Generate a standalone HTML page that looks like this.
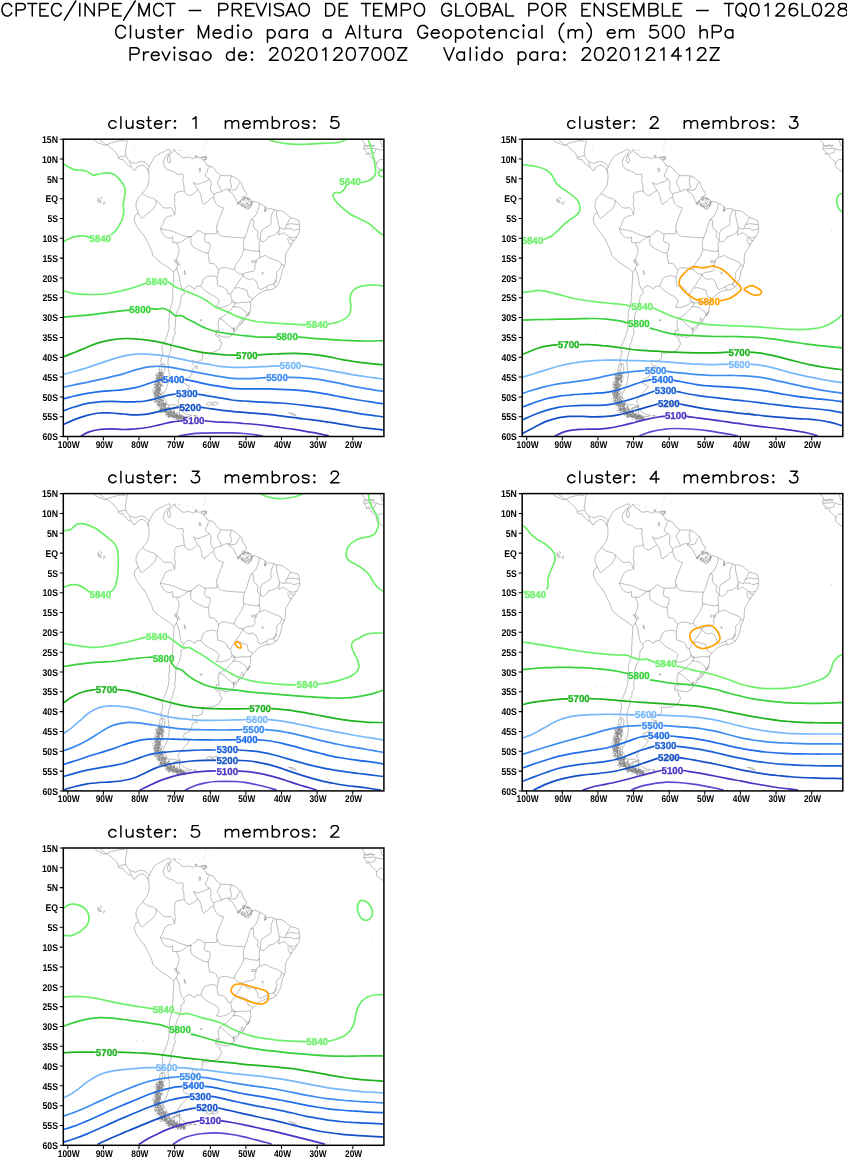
<!DOCTYPE html>
<html><head><meta charset="utf-8"><title>Cluster Medio</title>
<style>html,body{margin:0;padding:0;background:#fff}svg{display:block;will-change:transform}text{font-family:"Liberation Sans",sans-serif}.t{filter:opacity(1)}</style></head>
<body>
<svg width="847" height="1157" viewBox="0 0 847 1157" role="img">
<rect width="847" height="1157" fill="#fff"/>
<g aria-label="CPTEC/INPE/MCT - PREVISAO DE TEMPO GLOBAL POR ENSEMBLE - TQ0126L028 | Cluster Medio para a Altura Geopotencial (m) em 500 hPa | Previsao de: 2020120700Z   Valido para: 2020121412Z"><desc>CPTEC/INPE/MCT - PREVISAO DE TEMPO GLOBAL POR ENSEMBLE - TQ0126L028 / Cluster Medio para a Altura Geopotencial (m) em 500 hPa / Previsao de: 2020120700Z   Valido para: 2020121412Z</desc><path d="M11.7 6.4L11 5.2L9.7 4L8.5 3.4L5.9 3.4L4.6 4L3.3 5.2L2.7 6.4L2 8.2L2 11.1L2.7 12.9L3.3 14.1L4.6 15.3L5.9 15.9L8.5 15.9L9.7 15.3L11 14.1L11.7 12.9M16.2 3.4L16.2 15.9M16.2 3.4L22 3.4L23.9 4L24.5 4.6L25.2 5.8L25.2 7.6L24.5 8.8L23.9 9.4L22 10L16.2 10M32.3 3.4L32.3 15.9M27.8 3.4L36.8 3.4M40 3.4L40 15.9M40 3.4L48.3 3.4M40 9.4L45.1 9.4M40 15.9L48.3 15.9M61.2 6.4L60.6 5.2L59.3 4L58 3.4L55.4 3.4L54.1 4L52.9 5.2L52.2 6.4L51.6 8.2L51.6 11.1L52.2 12.9L52.9 14.1L54.1 15.3L55.4 15.9L58 15.9L59.3 15.3L60.6 14.1L61.2 12.9M75.8 1L64.3 20.1M79.8 3.4L79.8 15.9M85.1 3.4L85.1 15.9M85.1 3.4L94.2 15.9M94.2 3.4L94.2 15.9M99.3 3.4L99.3 15.9M99.3 3.4L105.1 3.4L107 4L107.7 4.6L108.3 5.8L108.3 7.6L107.7 8.8L107 9.4L105.1 10L99.3 10M112.8 3.4L112.8 15.9M112.8 3.4L121.2 3.4M112.8 9.4L118 9.4M112.8 15.9L121.2 15.9M135.2 1L123.6 20.1M138.9 3.4L138.9 15.9M138.9 3.4L144 15.9M149.2 3.4L144 15.9M149.2 3.4L149.2 15.9M163.3 6.4L162.7 5.2L161.4 4L160.1 3.4L157.5 3.4L156.2 4L154.9 5.2L154.3 6.4L153.7 8.2L153.7 11.1L154.3 12.9L154.9 14.1L156.2 15.3L157.5 15.9L160.1 15.9L161.4 15.3L162.7 14.1L163.3 12.9M170.4 3.4L170.4 15.9M165.9 3.4L174.9 3.4M189.2 10.5L200.7 10.5M218.8 3.4L218.8 15.9M218.8 3.4L224.5 3.4L226.5 4L227.1 4.6L227.8 5.8L227.8 7.6L227.1 8.8L226.5 9.4L224.5 10L218.8 10M232.3 3.4L232.3 15.9M232.3 3.4L238.1 3.4L240 4L240.6 4.6L241.3 5.8L241.3 7L240.6 8.2L240 8.8L238.1 9.4L232.3 9.4M236.8 9.4L241.3 15.9M245.8 3.4L245.8 15.9M245.8 3.4L254.1 3.4M245.8 9.4L250.9 9.4M245.8 15.9L254.1 15.9M256.1 3.4L261.2 15.9M266.4 3.4L261.2 15.9M269.8 3.4L269.8 15.9M283.5 5.2L282.3 4L280.3 3.4L277.7 3.4L275.8 4L274.5 5.2L274.5 6.4L275.2 7.6L275.8 8.2L277.1 8.8L281 10L282.3 10.5L282.9 11.1L283.5 12.3L283.5 14.1L282.3 15.3L280.3 15.9L277.7 15.9L275.8 15.3L274.5 14.1M291.3 3.4L286.1 15.9M291.3 3.4L296.4 15.9M288 11.7L294.5 11.7M302.8 3.4L301.6 4L300.3 5.2L299.6 6.4L299 8.2L299 11.1L299.6 12.9L300.3 14.1L301.6 15.3L302.8 15.9L305.4 15.9L306.7 15.3L308 14.1L308.6 12.9L309.3 11.1L309.3 8.2L308.6 6.4L308 5.2L306.7 4L305.4 3.4L302.8 3.4M325.7 3.4L325.7 15.9M325.7 3.4L330.2 3.4L332.2 4L333.5 5.2L334.1 6.4L334.7 8.2L334.7 11.1L334.1 12.9L333.5 14.1L332.2 15.3L330.2 15.9L325.7 15.9M339.2 3.4L339.2 15.9M339.2 3.4L347.6 3.4M339.2 9.4L344.4 9.4M339.2 15.9L347.6 15.9M366 3.4L366 15.9M361.5 3.4L370.5 3.4M373.7 3.4L373.7 15.9M373.7 3.4L382.1 3.4M373.7 9.4L378.9 9.4M373.7 15.9L382.1 15.9M386 3.4L386 15.9M386 3.4L391.1 15.9M396.2 3.4L391.1 15.9M396.2 3.4L396.2 15.9M401.4 3.4L401.4 15.9M401.4 3.4L407.2 3.4L409.1 4L409.8 4.6L410.4 5.8L410.4 7.6L409.8 8.8L409.1 9.4L407.2 10L401.4 10M418.1 3.4L416.8 4L415.5 5.2L414.9 6.4L414.3 8.2L414.3 11.1L414.9 12.9L415.5 14.1L416.8 15.3L418.1 15.9L420.7 15.9L422 15.3L423.3 14.1L423.9 12.9L424.5 11.1L424.5 8.2L423.9 6.4L423.3 5.2L422 4L420.7 3.4L418.1 3.4M451.3 6.4L450.7 5.2L449.4 4L448.1 3.4L445.5 3.4L444.2 4L442.9 5.2L442.3 6.4L441.7 8.2L441.7 11.1L442.3 12.9L442.9 14.1L444.2 15.3L445.5 15.9L448.1 15.9L449.4 15.3L450.7 14.1L451.3 12.9L451.3 11.1M448.1 11.1L451.3 11.1M455.8 3.4L455.8 15.9M455.8 15.9L463.5 15.9M470 3.4L468.7 4L467.4 5.2L466.7 6.4L466.1 8.2L466.1 11.1L466.7 12.9L467.4 14.1L468.7 15.3L470 15.9L472.5 15.9L473.8 15.3L475.1 14.1L475.8 12.9L476.4 11.1L476.4 8.2L475.8 6.4L475.1 5.2L473.8 4L472.5 3.4L470 3.4M480.9 3.4L480.9 15.9M480.9 3.4L486.7 3.4L488.6 4L489.3 4.6L489.9 5.8L489.9 7L489.3 8.2L488.6 8.8L486.7 9.4M480.9 9.4L486.7 9.4L488.6 10L489.3 10.5L489.9 11.7L489.9 13.5L489.3 14.7L488.6 15.3L486.7 15.9L480.9 15.9M497.6 3.4L492.5 15.9M497.6 3.4L502.8 15.9M494.4 11.7L500.8 11.7M506 3.4L506 15.9M506 15.9L513.7 15.9M528.9 3.4L528.9 15.9M528.9 3.4L534.7 3.4L536.6 4L537.3 4.6L537.9 5.8L537.9 7.6L537.3 8.8L536.6 9.4L534.7 10L528.9 10M545.6 3.4L544.3 4L543 5.2L542.4 6.4L541.8 8.2L541.8 11.1L542.4 12.9L543 14.1L544.3 15.3L545.6 15.9L548.2 15.9L549.5 15.3L550.8 14.1L551.4 12.9L552.1 11.1L552.1 8.2L551.4 6.4L550.8 5.2L549.5 4L548.2 3.4L545.6 3.4M556.6 3.4L556.6 15.9M556.6 3.4L562.3 3.4L564.3 4L564.9 4.6L565.6 5.8L565.6 7L564.9 8.2L564.3 8.8L562.3 9.4L556.6 9.4M561.1 9.4L565.6 15.9M582 3.4L582 15.9M582 3.4L590.4 3.4M582 9.4L587.2 9.4M582 15.9L590.4 15.9M594.3 3.4L594.3 15.9M594.3 3.4L603.3 15.9M603.3 3.4L603.3 15.9M616.8 5.2L615.5 4L613.6 3.4L611 3.4L609 4L607.8 5.2L607.8 6.4L608.4 7.6L609 8.2L610.3 8.8L614.2 10L615.5 10.5L616.1 11.1L616.8 12.3L616.8 14.1L615.5 15.3L613.6 15.9L611 15.9L609 15.3L607.8 14.1M621.3 3.4L621.3 15.9M621.3 3.4L629.6 3.4M621.3 9.4L626.4 9.4M621.3 15.9L629.6 15.9M633.5 3.4L633.5 15.9M633.5 3.4L638.6 15.9M643.8 3.4L638.6 15.9M643.8 3.4L643.8 15.9M648.9 3.4L648.9 15.9M648.9 3.4L654.7 3.4L656.7 4L657.3 4.6L657.9 5.8L657.9 7L657.3 8.2L656.7 8.8L654.7 9.4M648.9 9.4L654.7 9.4L656.7 10L657.3 10.5L657.9 11.7L657.9 13.5L657.3 14.7L656.7 15.3L654.7 15.9L648.9 15.9M662.4 3.4L662.4 15.9M662.4 15.9L670.2 15.9M673.4 3.4L673.4 15.9M673.4 3.4L681.7 3.4M673.4 9.4L678.5 9.4M673.4 15.9L681.7 15.9M696.7 10.5L708.2 10.5M728.8 3.4L728.8 15.9M724.3 3.4L733.3 3.4M739.8 3.4L738.5 4L737.2 5.2L736.5 6.4L735.9 8.2L735.9 11.1L736.5 12.9L737.2 14.1L738.5 15.3L739.8 15.9L742.3 15.9L743.6 15.3L744.9 14.1L745.6 12.9L746.2 11.1L746.2 8.2L745.6 6.4L744.9 5.2L743.6 4L742.3 3.4L739.8 3.4M741.7 13.5L745.6 17.1M753.9 3.4L752 4L750.7 5.8L750.1 8.8L750.1 10.5L750.7 13.5L752 15.3L753.9 15.9L755.2 15.9L757.1 15.3L758.4 13.5L759.1 10.5L759.1 8.8L758.4 5.8L757.1 4L755.2 3.4L753.9 3.4M764.9 5.8L766.1 5.2L768.1 3.4L768.1 15.9M776.4 6.4L776.4 5.8L777.1 4.6L777.7 4L779 3.4L781.6 3.4L782.9 4L783.5 4.6L784.2 5.8L784.2 7L783.5 8.2L782.2 10L775.8 15.9L784.8 15.9M797 5.2L796.4 4L794.4 3.4L793.2 3.4L791.2 4L789.9 5.8L789.3 8.8L789.3 11.7L789.9 14.1L791.2 15.3L793.2 15.9L793.8 15.9L795.7 15.3L797 14.1L797.7 12.3L797.7 11.7L797 10L795.7 8.8L793.8 8.2L793.2 8.2L791.2 8.8L789.9 10L789.3 11.7M802.2 3.4L802.2 15.9M802.2 15.9L809.9 15.9M816.3 3.4L814.4 4L813.1 5.8L812.5 8.8L812.5 10.5L813.1 13.5L814.4 15.3L816.3 15.9L817.6 15.9L819.5 15.3L820.8 13.5L821.5 10.5L821.5 8.8L820.8 5.8L819.5 4L817.6 3.4L816.3 3.4M826 6.4L826 5.8L826.6 4.6L827.3 4L828.5 3.4L831.1 3.4L832.4 4L833 4.6L833.7 5.8L833.7 7L833 8.2L831.8 10L825.3 15.9L834.3 15.9M841.4 3.4L839.5 4L838.8 5.2L838.8 6.4L839.5 7.6L840.8 8.2L843.3 8.8L845.3 9.4L846.6 10.5L847.2 11.7L847.2 13.5L846.6 14.7L845.9 15.3L844 15.9L841.4 15.9L839.5 15.3L838.8 14.7L838.2 13.5L838.2 11.7L838.8 10.5L840.1 9.4L842.1 8.8L844.6 8.2L845.9 7.6L846.6 6.4L846.6 5.2L845.9 4L844 3.4L841.4 3.4M125.4 28.5L124.8 27.3L123.5 26.1L122.2 25.5L119.6 25.5L118.4 26.1L117.1 27.3L116.4 28.5L115.8 30.3L115.8 33.2L116.4 35L117.1 36.2L118.4 37.4L119.6 38L122.2 38L123.5 37.4L124.8 36.2L125.4 35M130.5 25.5L130.5 38M136.3 29.7L136.3 35.6L136.9 37.4L138.2 38L140.1 38L141.4 37.4L143.3 35.6M143.3 29.7L143.3 38M154.8 31.5L154.2 30.3L152.3 29.7L150.4 29.7L148.4 30.3L147.8 31.5L148.4 32.6L149.7 33.2L152.9 33.8L154.2 34.4L154.8 35.6L154.8 36.2L154.2 37.4L152.3 38L150.4 38L148.4 37.4L147.8 36.2M160 25.5L160 35.6L160.6 37.4L161.9 38L163.2 38M158 29.7L162.5 29.7M166.4 33.2L174 33.2L174 32L173.4 30.9L172.8 30.3L171.5 29.7L169.6 29.7L168.3 30.3L167 31.5L166.4 33.2L166.4 34.4L167 36.2L168.3 37.4L169.6 38L171.5 38L172.8 37.4L174 36.2M178.5 29.7L178.5 38M178.5 33.2L179.2 31.5L180.4 30.3L181.7 29.7L183.6 29.7M198.4 25.5L198.4 38M198.4 25.5L203.5 38M208.6 25.5L203.5 38M208.6 25.5L208.6 38M213.1 33.2L220.8 33.2L220.8 32L220.1 30.9L219.5 30.3L218.2 29.7L216.3 29.7L215 30.3L213.7 31.5L213.1 33.2L213.1 34.4L213.7 36.2L215 37.4L216.3 38L218.2 38L219.5 37.4L220.8 36.2M232.3 25.5L232.3 38M232.3 31.5L231 30.3L229.7 29.7L227.8 29.7L226.5 30.3L225.2 31.5L224.6 33.2L224.6 34.4L225.2 36.2L226.5 37.4L227.8 38L229.7 38L231 37.4L232.3 36.2M237.4 25.5L238 26.1L238.7 25.5L238 24.9L237.4 25.5M238 29.7L238 38M246.4 29.7L245.1 30.3L243.8 31.5L243.2 33.2L243.2 34.4L243.8 36.2L245.1 37.4L246.4 38L248.3 38L249.6 37.4L250.8 36.2L251.5 34.4L251.5 33.2L250.8 31.5L249.6 30.3L248.3 29.7L246.4 29.7M267.5 29.7L267.5 42.2M267.5 31.5L268.8 30.3L270 29.7L272 29.7L273.2 30.3L274.5 31.5L275.2 33.2L275.2 34.4L274.5 36.2L273.2 37.4L272 38L270 38L268.8 37.4L267.5 36.2M286.7 29.7L286.7 38M286.7 31.5L285.4 30.3L284.1 29.7L282.2 29.7L280.9 30.3L279.6 31.5L279 33.2L279 34.4L279.6 36.2L280.9 37.4L282.2 38L284.1 38L285.4 37.4L286.7 36.2M291.8 29.7L291.8 38M291.8 33.2L292.4 31.5L293.7 30.3L295 29.7L296.9 29.7M307.2 29.7L307.2 38M307.2 31.5L305.9 30.3L304.6 29.7L302.7 29.7L301.4 30.3L300.1 31.5L299.5 33.2L299.5 34.4L300.1 36.2L301.4 37.4L302.7 38L304.6 38L305.9 37.4L307.2 36.2M330.8 29.7L330.8 38M330.8 31.5L329.6 30.3L328.3 29.7L326.4 29.7L325.1 30.3L323.8 31.5L323.2 33.2L323.2 34.4L323.8 36.2L325.1 37.4L326.4 38L328.3 38L329.6 37.4L330.8 36.2M350.7 25.5L345.6 38M350.7 25.5L355.8 38M347.5 33.8L353.9 33.8M359.6 25.5L359.6 38M366 25.5L366 35.6L366.7 37.4L368 38L369.2 38M364.1 29.7L368.6 29.7M373.1 29.7L373.1 35.6L373.7 37.4L375 38L376.9 38L378.2 37.4L380.1 35.6M380.1 29.7L380.1 38M385.2 29.7L385.2 38M385.2 33.2L385.9 31.5L387.2 30.3L388.4 29.7L390.4 29.7M400.6 29.7L400.6 38M400.6 31.5L399.3 30.3L398 29.7L396.1 29.7L394.8 30.3L393.6 31.5L392.9 33.2L392.9 34.4L393.6 36.2L394.8 37.4L396.1 38L398 38L399.3 37.4L400.6 36.2M427.5 28.5L426.8 27.3L425.6 26.1L424.3 25.5L421.7 25.5L420.4 26.1L419.2 27.3L418.5 28.5L417.9 30.3L417.9 33.2L418.5 35L419.2 36.2L420.4 37.4L421.7 38L424.3 38L425.6 37.4L426.8 36.2L427.5 35L427.5 33.2M424.3 33.2L427.5 33.2M431.3 33.2L439 33.2L439 32L438.4 30.9L437.7 30.3L436.4 29.7L434.5 29.7L433.2 30.3L432 31.5L431.3 33.2L431.3 34.4L432 36.2L433.2 37.4L434.5 38L436.4 38L437.7 37.4L439 36.2M446 29.7L444.8 30.3L443.5 31.5L442.8 33.2L442.8 34.4L443.5 36.2L444.8 37.4L446 38L448 38L449.2 37.4L450.5 36.2L451.2 34.4L451.2 33.2L450.5 31.5L449.2 30.3L448 29.7L446 29.7M455.6 29.7L455.6 42.2M455.6 31.5L456.9 30.3L458.2 29.7L460.1 29.7L461.4 30.3L462.7 31.5L463.3 33.2L463.3 34.4L462.7 36.2L461.4 37.4L460.1 38L458.2 38L456.9 37.4L455.6 36.2M470.4 29.7L469.1 30.3L467.8 31.5L467.2 33.2L467.2 34.4L467.8 36.2L469.1 37.4L470.4 38L472.3 38L473.6 37.4L474.8 36.2L475.5 34.4L475.5 33.2L474.8 31.5L473.6 30.3L472.3 29.7L470.4 29.7M480.6 25.5L480.6 35.6L481.2 37.4L482.5 38L483.8 38M478.7 29.7L483.2 29.7M487 33.2L494.7 33.2L494.7 32L494 30.9L493.4 30.3L492.1 29.7L490.2 29.7L488.9 30.3L487.6 31.5L487 33.2L487 34.4L487.6 36.2L488.9 37.4L490.2 38L492.1 38L493.4 37.4L494.7 36.2M499.2 29.7L499.2 38M499.2 32L501.1 30.3L502.4 29.7L504.3 29.7L505.6 30.3L506.2 32L506.2 38M518.4 31.5L517.1 30.3L515.8 29.7L513.9 29.7L512.6 30.3L511.3 31.5L510.7 33.2L510.7 34.4L511.3 36.2L512.6 37.4L513.9 38L515.8 38L517.1 37.4L518.4 36.2M522.8 25.5L523.5 26.1L524.1 25.5L523.5 24.9L522.8 25.5M523.5 29.7L523.5 38M536.3 29.7L536.3 38M536.3 31.5L535 30.3L533.7 29.7L531.8 29.7L530.5 30.3L529.2 31.5L528.6 33.2L528.6 34.4L529.2 36.2L530.5 37.4L531.8 38L533.7 38L535 37.4L536.3 36.2M542 25.5L542 38M563.8 23.1L562.5 24.3L561.2 26.1L560 28.5L559.3 31.5L559.3 33.8L560 36.8L561.2 39.2L562.5 41L563.8 42.2M568.3 29.7L568.3 38M568.3 32L570.2 30.3L571.5 29.7L573.4 29.7L574.7 30.3L575.3 32L575.3 38M575.3 32L577.2 30.3L578.5 29.7L580.4 29.7L581.7 30.3L582.4 32L582.4 38M586.8 23.1L588.1 24.3L589.4 26.1L590.7 28.5L591.3 31.5L591.3 33.8L590.7 36.8L589.4 39.2L588.1 41L586.8 42.2M607.3 33.2L615 33.2L615 32L614.4 30.9L613.7 30.3L612.4 29.7L610.5 29.7L609.2 30.3L608 31.5L607.3 33.2L607.3 34.4L608 36.2L609.2 37.4L610.5 38L612.4 38L613.7 37.4L615 36.2M619.5 29.7L619.5 38M619.5 32L621.4 30.3L622.7 29.7L624.6 29.7L625.9 30.3L626.5 32L626.5 38M626.5 32L628.4 30.3L629.7 29.7L631.6 29.7L632.9 30.3L633.6 32L633.6 38M657.2 25.5L650.8 25.5L650.2 30.9L650.8 30.3L652.8 29.7L654.7 29.7L656.6 30.3L657.9 31.5L658.5 33.2L658.5 34.4L657.9 36.2L656.6 37.4L654.7 38L652.8 38L650.8 37.4L650.2 36.8L649.6 35.6M666.2 25.5L664.3 26.1L663 27.9L662.4 30.9L662.4 32.6L663 35.6L664.3 37.4L666.2 38L667.5 38L669.4 37.4L670.7 35.6L671.3 32.6L671.3 30.9L670.7 27.9L669.4 26.1L667.5 25.5L666.2 25.5M679 25.5L677.1 26.1L675.8 27.9L675.2 30.9L675.2 32.6L675.8 35.6L677.1 37.4L679 38L680.3 38L682.2 37.4L683.5 35.6L684.1 32.6L684.1 30.9L683.5 27.9L682.2 26.1L680.3 25.5L679 25.5M700.1 25.5L700.1 38M700.1 32L702 30.3L703.3 29.7L705.2 29.7L706.5 30.3L707.2 32L707.2 38M712.3 25.5L712.3 38M712.3 25.5L718 25.5L720 26.1L720.6 26.7L721.2 27.9L721.2 29.7L720.6 30.9L720 31.5L718 32L712.3 32M732.8 29.7L732.8 38M732.8 31.5L731.5 30.3L730.2 29.7L728.3 29.7L727 30.3L725.7 31.5L725.1 33.2L725.1 34.4L725.7 36.2L727 37.4L728.3 38L730.2 38L731.5 37.4L732.8 36.2M130.1 47.7L130.1 60.2M130.1 47.7L135.9 47.7L137.8 48.3L138.5 48.9L139.1 50.1L139.1 51.9L138.5 53.1L137.8 53.7L135.9 54.2L130.1 54.2M143.6 51.9L143.6 60.2M143.6 55.4L144.2 53.7L145.5 52.5L146.8 51.9L148.7 51.9M151.3 55.4L159 55.4L159 54.2L158.4 53.1L157.7 52.5L156.4 51.9L154.5 51.9L153.2 52.5L151.9 53.7L151.3 55.4L151.3 56.6L151.9 58.4L153.2 59.6L154.5 60.2L156.4 60.2L157.7 59.6L159 58.4M162.2 51.9L166.1 60.2M169.9 51.9L166.1 60.2M173.8 47.7L174.4 48.3L175 47.7L174.4 47.1L173.8 47.7M174.4 51.9L174.4 60.2M186.6 53.7L185.9 52.5L184 51.9L182.1 51.9L180.2 52.5L179.5 53.7L180.2 54.8L181.5 55.4L184.7 56L185.9 56.6L186.6 57.8L186.6 58.4L185.9 59.6L184 60.2L182.1 60.2L180.2 59.6L179.5 58.4M198.1 51.9L198.1 60.2M198.1 53.7L196.9 52.5L195.6 51.9L193.6 51.9L192.4 52.5L191.1 53.7L190.4 55.4L190.4 56.6L191.1 58.4L192.4 59.6L193.6 60.2L195.6 60.2L196.9 59.6L198.1 58.4M205.8 51.9L204.6 52.5L203.3 53.7L202.6 55.4L202.6 56.6L203.3 58.4L204.6 59.6L205.8 60.2L207.8 60.2L209 59.6L210.3 58.4L211 56.6L211 55.4L210.3 53.7L209 52.5L207.8 51.9L205.8 51.9M234.1 47.7L234.1 60.2M234.1 53.7L232.8 52.5L231.5 51.9L229.6 51.9L228.3 52.5L227 53.7L226.4 55.4L226.4 56.6L227 58.4L228.3 59.6L229.6 60.2L231.5 60.2L232.8 59.6L234.1 58.4M238.6 55.4L246.3 55.4L246.3 54.2L245.6 53.1L245 52.5L243.7 51.9L241.8 51.9L240.5 52.5L239.2 53.7L238.6 55.4L238.6 56.6L239.2 58.4L240.5 59.6L241.8 60.2L243.7 60.2L245 59.6L246.3 58.4M252 51.9L251.4 52.5L252 53.1L252.7 52.5L252 51.9M252 59L251.4 59.6L252 60.2L252.7 59.6L252 59M270 50.7L270 50.1L270.6 48.9L271.3 48.3L272.6 47.7L275.1 47.7L276.4 48.3L277.1 48.9L277.7 50.1L277.7 51.3L277.1 52.5L275.8 54.2L269.4 60.2L278.3 60.2M286 47.7L284.1 48.3L282.8 50.1L282.2 53.1L282.2 54.8L282.8 57.8L284.1 59.6L286 60.2L287.3 60.2L289.2 59.6L290.5 57.8L291.2 54.8L291.2 53.1L290.5 50.1L289.2 48.3L287.3 47.7L286 47.7M295.7 50.7L295.7 50.1L296.3 48.9L296.9 48.3L298.2 47.7L300.8 47.7L302.1 48.3L302.7 48.9L303.4 50.1L303.4 51.3L302.7 52.5L301.4 54.2L295 60.2L304 60.2M311.7 47.7L309.8 48.3L308.5 50.1L307.8 53.1L307.8 54.8L308.5 57.8L309.8 59.6L311.7 60.2L313 60.2L314.9 59.6L316.2 57.8L316.8 54.8L316.8 53.1L316.2 50.1L314.9 48.3L313 47.7L311.7 47.7M322.6 50.1L323.9 49.5L325.8 47.7L325.8 60.2M334.2 50.7L334.2 50.1L334.8 48.9L335.4 48.3L336.7 47.7L339.3 47.7L340.6 48.3L341.2 48.9L341.9 50.1L341.9 51.3L341.2 52.5L339.9 54.2L333.5 60.2L342.5 60.2M350.2 47.7L348.3 48.3L347 50.1L346.3 53.1L346.3 54.8L347 57.8L348.3 59.6L350.2 60.2L351.5 60.2L353.4 59.6L354.7 57.8L355.3 54.8L355.3 53.1L354.7 50.1L353.4 48.3L351.5 47.7L350.2 47.7M368.2 47.7L361.7 60.2M359.2 47.7L368.2 47.7M375.9 47.7L373.9 48.3L372.7 50.1L372 53.1L372 54.8L372.7 57.8L373.9 59.6L375.9 60.2L377.1 60.2L379.1 59.6L380.4 57.8L381 54.8L381 53.1L380.4 50.1L379.1 48.3L377.1 47.7L375.9 47.7M388.7 47.7L386.8 48.3L385.5 50.1L384.8 53.1L384.8 54.8L385.5 57.8L386.8 59.6L388.7 60.2L390 60.2L391.9 59.6L393.2 57.8L393.8 54.8L393.8 53.1L393.2 50.1L391.9 48.3L390 47.7L388.7 47.7M406.7 47.7L397.7 60.2M397.7 47.7L406.7 47.7M397.7 60.2L406.7 60.2M443.9 47.7L449 60.2M454.1 47.7L449 60.2M464.4 51.9L464.4 60.2M464.4 53.7L463.1 52.5L461.8 51.9L459.9 51.9L458.6 52.5L457.3 53.7L456.7 55.4L456.7 56.6L457.3 58.4L458.6 59.6L459.9 60.2L461.8 60.2L463.1 59.6L464.4 58.4M470.2 47.7L470.2 60.2M475.9 47.7L476.6 48.3L477.2 47.7L476.6 47.1L475.9 47.7M476.6 51.9L476.6 60.2M489.4 47.7L489.4 60.2M489.4 53.7L488.1 52.5L486.9 51.9L484.9 51.9L483.6 52.5L482.4 53.7L481.7 55.4L481.7 56.6L482.4 58.4L483.6 59.6L484.9 60.2L486.9 60.2L488.1 59.6L489.4 58.4M497.1 51.9L495.8 52.5L494.6 53.7L493.9 55.4L493.9 56.6L494.6 58.4L495.8 59.6L497.1 60.2L499 60.2L500.3 59.6L501.6 58.4L502.3 56.6L502.3 55.4L501.6 53.7L500.3 52.5L499 51.9L497.1 51.9M518.3 51.9L518.3 64.4M518.3 53.7L519.6 52.5L520.9 51.9L522.8 51.9L524.1 52.5L525.4 53.7L526 55.4L526 56.6L525.4 58.4L524.1 59.6L522.8 60.2L520.9 60.2L519.6 59.6L518.3 58.4M537.5 51.9L537.5 60.2M537.5 53.7L536.3 52.5L535 51.9L533.1 51.9L531.8 52.5L530.5 53.7L529.8 55.4L529.8 56.6L530.5 58.4L531.8 59.6L533.1 60.2L535 60.2L536.3 59.6L537.5 58.4M542.7 51.9L542.7 60.2M542.7 55.4L543.3 53.7L544.6 52.5L545.9 51.9L547.8 51.9M558.1 51.9L558.1 60.2M558.1 53.7L556.8 52.5L555.5 51.9L553.6 51.9L552.3 52.5L551 53.7L550.4 55.4L550.4 56.6L551 58.4L552.3 59.6L553.6 60.2L555.5 60.2L556.8 59.6L558.1 58.4M564.5 51.9L563.8 52.5L564.5 53.1L565.1 52.5L564.5 51.9M564.5 59L563.8 59.6L564.5 60.2L565.1 59.6L564.5 59M582.5 50.7L582.5 50.1L583.1 48.9L583.7 48.3L585 47.7L587.6 47.7L588.9 48.3L589.5 48.9L590.2 50.1L590.2 51.3L589.5 52.5L588.2 54.2L581.8 60.2L590.8 60.2M598.5 47.7L596.6 48.3L595.3 50.1L594.6 53.1L594.6 54.8L595.3 57.8L596.6 59.6L598.5 60.2L599.8 60.2L601.7 59.6L603 57.8L603.6 54.8L603.6 53.1L603 50.1L601.7 48.3L599.8 47.7L598.5 47.7M608.1 50.7L608.1 50.1L608.8 48.9L609.4 48.3L610.7 47.7L613.3 47.7L614.5 48.3L615.2 48.9L615.8 50.1L615.8 51.3L615.2 52.5L613.9 54.2L607.5 60.2L616.5 60.2M624.2 47.7L622.2 48.3L621 50.1L620.3 53.1L620.3 54.8L621 57.8L622.2 59.6L624.2 60.2L625.4 60.2L627.4 59.6L628.6 57.8L629.3 54.8L629.3 53.1L628.6 50.1L627.4 48.3L625.4 47.7L624.2 47.7M635.1 50.1L636.3 49.5L638.3 47.7L638.3 60.2M646.6 50.7L646.6 50.1L647.3 48.9L647.9 48.3L649.2 47.7L651.7 47.7L653 48.3L653.7 48.9L654.3 50.1L654.3 51.3L653.7 52.5L652.4 54.2L646 60.2L655 60.2M660.7 50.1L662 49.5L663.9 47.7L663.9 60.2M678.1 47.7L671.6 56L681.3 56M678.1 47.7L678.1 60.2M686.4 50.1L687.7 49.5L689.6 47.7L689.6 60.2M697.9 50.7L697.9 50.1L698.6 48.9L699.2 48.3L700.5 47.7L703.1 47.7L704.4 48.3L705 48.9L705.6 50.1L705.6 51.3L705 52.5L703.7 54.2L697.3 60.2L706.3 60.2M719.1 47.7L710.1 60.2M710.1 47.7L719.1 47.7M710.1 60.2L719.1 60.2" fill="none" stroke="#000" stroke-width="1.5" stroke-linecap="round" stroke-linejoin="round"/></g>
<g transform="translate(63.3 139.2)">
<g id="map" clip-path="url(#pc0)"><clipPath id="pc0"><rect x="0" y="0" width="320.6" height="297.3"/></clipPath><path d="M30.2 0.1L33.7 3L37.2 4.4L40.1 5.5L42.2 6.2L43.9 5.5L45.3 6.9L47.9 9L50.4 11.2L52.8 13.7L54.7 16.6L55.2 19.4L57.5 20.4L59.2 19.7L60.6 21.8L63.2 24.6L65.2 26.8L67.4 27.5L69.1 28.9L70.5 31.3L72.2 30.7L72.7 28.9L74.8 27.5L77.3 26L79.7 26L81.9 27.5L83.3 28.9L84.4 30.7L85.3 32.4L85.7 36L85.8 39.5L85.4 43L84.8 45.9L83.7 48.3L82 50.6L80.3 52.5L79.2 54.2L77.5 56.2L75.5 58.2L73.8 60.8L72.8 63.9L72.7 67.1L73.4 69.5L74.6 71.8L74.9 73.2L74.1 74.6L72.7 75.2L71.5 77.5L71 80.6L71.8 83.7L73.5 87L75.5 89.8L77.8 93.1L80.2 96.2L80.9 96.3L83.7 101.9L86.5 107.6L88.7 112.5L89.4 116.1L92.9 119.6L97.2 123.2L101.4 126L105.7 128.8L109.2 131.7L110.3 132.8L110.6 134.5L110.3 140.2L109.9 145.8L109.6 151.5L109.3 154.3L109.6 158.6L108.8 162.5L108 166.5L106.7 170.5L106 174.4L106.3 178.4L105.3 180.4L105.8 186.3L105.5 190.3L104.2 194.2L103.1 198.2L101.4 202.2L99.9 205.3L98.5 206.9L98.9 210.1L99.6 214.1L98.2 218L97.4 222L98.2 224.8L100.6 224.4L101.7 227.1L101.4 230.7L100.3 233.9L99.2 237.8L97.8 241.8M64.2 0.1L63.2 5.5L62.5 9.8L62 13.3L62.7 16.8L64.2 19.7L66.3 21.8L66.7 22.2L69.3 23.6L72.4 24.2L75.2 22.9L77.8 22.2L80.6 22.9L83 24.3L84.8 26.3L86 27.9L86.7 25.8L88 23.2L89.8 20.4L91.1 18L92.9 16.4L95 15.4L97.2 14L100 12.9L102.1 11.7L104.2 10.6L106.4 10.3L107.4 11.5L106.5 13.4L105.4 15.8M105.4 15.8L106.7 18.3L107.2 21.4L106.4 23.9L105 23.4L104.1 20.8L104.4 18ZM106.2 16L108.1 14.3L109.6 12.3L110.3 10.6L111.8 10.7L112.2 12.9L114.2 14.4L116.3 15.4L118 17.7L120.3 18.7L122.7 18.3L125.1 17.8L127.3 18.5L129.3 19.7L131.2 18.5L133.3 18.3L135.4 18.5L137.5 18.3L139.7 17.5L141.8 17.3L143.5 17.7L142.6 19.1L140.9 19.7L140.4 21.4L141.8 23.4L143.5 24.8L143.2 26.2L145.3 26.5L147.5 27.3L149.9 28.2L152.1 30.9L152.7 32.3L155.2 34.4L157.4 36.1L160.9 36.5L164.5 36.5L168.3 36.7L172 38.4L175.8 41.8L178.2 43.6L179 46.9L180 49.4L181 51.5L181.8 51.7L183.4 54.5L182.7 56.2L181.7 57.7L179.6 59.5L177.3 60.9L174.9 63.3L173.5 65.1M138.2 18.4L142.9 18.1L143.3 20.4L139.8 20.8L138 19.7ZM36.8 1.3L40.1 3.4L42.6 5.8M42.9 5.8L46.5 4.1L50 3L54.2 2.1L57.8 1.3L62 2M55.2 18.3L58.5 17.1L62.3 16.6M66 22.2L67.1 25.1L68.3 27.3M86 27.9L85.1 29.3L84.4 30.7M35.1 60.5L36.8 61L37.4 63L36 63.6L34.8 62.2ZM37.8 59.3L38.7 59.6M40.9 62.9L41.8 63.2M37.2 57.9L38.1 58.2M39.7 65L40.5 65.3M33.7 59.1L34.6 59.3M142.9 1.4L143.5 1.7M142.4 3.9L142.9 4.2M141.6 6.5L142.2 6.8M141.1 8.9L141.6 9.2M140.2 11.3L140.8 11.6M147.9 7.5L148.4 7.8M113.9 11L114.4 11.3M115.7 10.9L116.3 11.2M116.9 11.2L117.4 11.5M123.4 13L123.9 13.3M128.8 12.9L129.3 13.2M70 10.3L70.5 10.6M70.7 6.2L71.2 6.5M131.6 16.6L133.3 16L133.9 17.1L132.2 17.7ZM135.7 29.3L137.1 29L137.4 32.1L136.1 32.4ZM84.6 29.9L85.3 32.4M74.9 73.2L76.1 75.8L77.5 78.3L78.3 79.2M79.2 54.2L81.6 55.8L84.4 57.6L87.2 58.6L90.1 59.1L92.5 61M92.5 61L93.1 63.6L91.9 66.7L89.7 70L86.5 72.8L83.4 75.2L80.6 77.5L78.3 79.2M92.5 61L95 63L97.9 66L100.7 68.8L104.2 68.8L107.5 68.4L109.5 70.7L110.6 73.5L111.2 76.1M121.2 51.3L119.1 52L116.3 52.5L113.2 53.1L111.8 54.8L111 57.9L111.8 61L110.9 64.7L112 68.5L111.8 72.1L111.2 76.1M105 14L103.3 16.1L101.8 18.3L100.7 20.8L99.9 23.6L100.7 26L102.1 28.5L103.8 30.3L106.4 31L109.2 31.9L111.8 33.3L113.7 35L116.3 35.3L119.4 34.7L120.1 37.4L119.4 40.9L120.3 44.5L120.8 48L120.5 50.1L121.2 51.3M121.2 51.3L122 53.7L123.7 55.5L126.2 56.5L128.8 55.4L131.2 53.7L133.3 52L134.7 51.1L133.7 49.4L132.3 47.3L131.2 45.2L130 43.2L132.3 44.6L135.7 45L138 43.6L140.8 42.8L144.2 41.3L146 39.9M146.5 27.2L144.6 29.4L144.2 32.3L142.2 34.7L142.2 37.1L144.2 38.9L146 39.9M146 39.9L147.5 42.2L147.9 45L147 48.4L147.9 51.7L149.3 54.1L150.7 54.9L153.5 53.5L156.9 52.7L158.4 52.1M157.4 36.1L156 39.4L154.1 42.2L154.5 45L156.4 47.9L157.4 50.3L158.4 52.1M158.4 52.1L161.2 50.7L164.5 49.8L165.4 50.3M168.3 36.7L167.3 39.4L166.9 42.2L167.7 45L168.3 47.9L166.9 49.8L165.4 50.3M165.4 50.3L168.3 51.3L171.1 50.7L173 50.3L174.4 47L176.2 43.6L177.2 43.2M165.4 50.3L165.4 52.1L168.3 53.5L170.1 55.5L172 59.2L173.4 62L174.8 64.4L175.8 65.4M134.7 51.1L136.5 53.5L138 57.4L138.5 61.2L139.4 64L140.8 65.4L142.2 63.4L144.2 62.6L146 60.6L147.9 58.8L150.3 58.3L150.7 54.9M150.7 58.3L151.3 61.2L152.7 64.4L155 66.8L158.4 68.3L160.2 68.7L158.8 72.5L156.9 77.2L155 82L153.3 87.7L153.3 87.3L153.8 90.6L153.3 94.4M109.4 76.4L105.6 76.9L102.3 78.8L100.4 82.1L99.5 85.4L97.6 88.3L97.1 89.5M97.1 89.5L109.4 92L117.9 95.8L124.5 97.7L127.8 97.2M97.1 89.5L98.5 93L100.4 96.3L103.2 98.2L107 99.1L109.4 97.7L109.4 103.4L113.1 103.6L116.9 103.4L119.8 101.5L123.1 99.1L125.4 97.7L127.8 97.2M127.8 97.2L130.1 95.3L132.5 93.9L133.9 91.6L135.8 91.4L137.7 92.5L139.6 93.9L142 94.6L147.1 94.5L153.3 94.4M153.8 90.6L155.2 93.9L157.1 96.1L159.4 97.2L166.7 97.7L171.1 98.2L181.5 98.7M142 94.6L141.5 98.2L141 101L142.9 103.4L146.2 103.8L147.1 106.7L146.2 110.4L144.8 113.9M127.8 97.2L127.3 101L127.8 104.8L129.7 107.6L133 109.5L136.8 111.4L140.5 113.3L144.8 113.9L145.3 118L146 121.8L146.2 124.1L150.9 124.6L152.8 126.5L153.8 128.9L155.6 130.5L154.7 134.5L153.9 138.8M155.6 130.5L158.5 128.6L162.3 128.4L166.7 129.3L168.9 130.4L171 129.8M113.1 103.6L115 107.6L116 111.4L115 115.2L113.6 119.4L112.7 121.8L114.1 124.6L114.1 127.4L113 129.3M111.4 120.6L113.6 121.3L115.5 123.7L116.5 125.4L115 125.7L113.1 124.1L111.4 122.3ZM113 129.3L111.7 131.7L110.3 132.6M121.2 131.2L121.8 133.1L122.4 135.5L121.6 135.2L120.9 133.1ZM113 129.3L114.6 133.1L116 137L117 144.4L118.4 148.7L120.3 150.4M120.3 150.4L122.7 148L124.8 146.5L127.6 147.3L129.7 148.7L131.2 150.1L132.2 148L134.7 147L137.5 147M137.5 147L139 143L140.4 139.5L143.9 137.3L148.2 136.6L151.7 137.1L153.8 138.8M153.8 138.8L154.5 146.5L160.2 148L163.7 150.8L164.5 154.3L167.3 155L168 158.6L168.7 161.4M137.5 147L141.8 151.5L146 154.3L150.3 156.5L153.8 158.6L156 161.4L155.2 164.3L153.1 167.8L157.4 168.5L161.6 167.4L165.9 165.7L168 163.5L168.7 161.4M120.3 150.4L121.2 154.3L118 156.5L117.4 162.8L116.3 167.1L114.2 171.3L112.3 177L112.3 182.7L111.8 188.3L111.3 190.3L112 194.2L109.9 198.2L109.6 202.2L107.4 206.1L107.8 210.1L106.3 214.1L105.3 218L104.6 222L104.9 225.9L105.3 229.9L106 233.9L106 237.8L105.3 241.8L104.2 245.8L102.8 249.7L100.6 253.7L99.6 257.7L102.8 261.6L104.2 265.6L111.3 265.6L113.1 266.2L117 267M168.7 161.4L171.8 163.3L171.3 166.4L168.7 169.2L165.9 172L163 174.9L159.5 177.4L156 179.4M156 179.4L154.8 184.1L155.2 188.3L156 192L153.4 190.7L152.7 193.8M156 179.4L158.8 180.5L161.6 182.7L164.5 185.5L168 188.3L170.8 191.2L169.8 188.3L171.2 189.1L170.1 191.1L170.5 193.2M176.8 62.3L179.2 60.4L182 59L185.3 59.5L188.1 60.9L188.6 63.3L186.7 65.6L184.4 67L182 67.5L180.1 66.6L178.2 65.1ZM175.9 64.2L177.8 65.8L179.6 67.5L182 68.9L183.9 70.3M178.7 58.1L180.6 57.1L182 58.2L180.1 59.5ZM182.7 59.2L184.4 58.2L185.5 59L184 59.9ZM188.6 63.3L187.7 66.1L185.8 68.4L184.4 69.9L185.8 69.4L188.1 66.7L189.1 62.3M189.1 62.3L191.9 62.3L194.8 63.3L197.1 64.7L199.5 65.6L201.4 67L202.3 69.4L201.4 72.2L203.3 70.3L205.1 69.4L208 69.4L210.8 70.3L213.2 71.3L216.5 71.3L219.3 72.2L222.1 74.1L225 76.5L227.3 78.4L229.7 79.3L232.5 79.8L234.9 80.7L235.8 83.6L236.5 87.3L236.3 91.1L235.4 94.4L233.5 97.7L231.1 101L228.8 103.9L226.9 107.2L225 110.5L224 112L222.6 114.4L222 119.2L222 123.9L220.8 127.4L219 131L218.4 134.5L217.3 139.2L215.5 143.9L213.1 147.5L209.6 149.9L206 151L203.1 151L199.6 152.2L196 154L192.5 156.9L189.5 159.9L187.2 162.8L187.4 167.6L186.3 172.3L184.2 177L186.9 172.4L183.7 175.6L181.9 179.2L179.7 183.1L175.1 186.9L173.3 190.7L170.5 193.2L169.1 195.8L165.1 198L160.5 197.8L154.8 196L152.7 193.8L152.3 196.2L156.9 199.4L156.4 202.2L158.7 203.7L155.9 210.1L150.5 212.9L143.4 214.1L139.1 213.5L139.5 217.2L138.8 220.4L133.4 222.6L128.8 221.4L129.2 224.4L131.6 227.1L134.1 226.7L133.8 229.3L131.3 228.3L129.2 229.9L128.1 234.7L126.7 237.8L121 240.2L119.9 243.4L123.5 245.8L126.3 247L123.8 250.5L119.9 254.5L116.7 258.5L114.5 261.6L115.3 264L117 267M196.2 64.2L195.7 67.5L194.3 72.2L192.4 76L190 78.8L187.7 80.3M187.7 80.3L187 82.6L185.8 85.9L184.8 89.2L183.9 93L182 96.8L181.5 98.7L180.6 100.6L180.1 104.3L180.1 108.1L180.6 112L180.1 112.1L178.3 116.8L175.3 121.5L172.4 125.6L171 129.8M187.7 80.3L190 80.7L190.5 83.6L190 87.3L191.9 90.2L194.3 91.6L194.8 94.4L193.8 96.8L195.2 99.6L197.1 101.5L195.7 104.3L196.2 108.1L195.7 112L196.2 111.5L196.6 115.6L196 118.6M210.8 70.3L209.4 73.2L208 76.5L207.5 79.8L208 83.6L207 85.9L204.2 87.3L201.4 89.2L198.5 91.1L197.4 93.9L197.1 97.7L197.1 101.5M213.2 71.3L213.2 75.1L214.1 79.8L215.1 84.5L216 88.3L216 91.1M197.1 101.5L200 102.9L202.3 101L204.2 99.6L205.1 97.3L208 96.8L210.8 95.8L213.6 93.9L216 91.1M227.3 78.4L225.9 80.7L224.5 83.6L223.1 85.9M216 88.3L218.4 89.2L221.2 90.2L222.1 88.3L223.1 85.9M223.1 85.9L225 85L227.8 84.5L231.6 85L235.8 85.4M222.1 89.2L225 89.7L227.8 89.2L229.7 91.1L232.5 90.6L236.3 89.7M216 91.1L215.1 95.8L217.4 94.9L220.3 93.5L223.1 95.4L225.9 97.7L229.7 98.7L233.5 97.3M225.9 97.7L227.8 100.6L231.1 101.5M224.5 98.7L225 102.4L226.9 105.3L228.9 103.9M180.4 109.9L184.2 110.9L188.9 111.8L193.6 112.3L196.2 111.5M196 118.6L193.6 120.3L193.1 123.3L191.3 126.2L191.9 129.8L190.1 132.1M188.6 121.5L192.2 121.5L192.2 123.4L188.6 123.4ZM171 129.8L173 132.7L175.9 134.5L179.5 135.1L182.4 133.6L186.6 132.7L190.1 132.1M179.5 135.1L178.9 137.5L176.5 141L174.2 144.5L171.8 148.1L169.4 151.6L167.3 155M179.5 135.1L181.3 137.8L183 139.2L186.6 140.4L188.9 139.2L192.5 141.6L194.2 145.1L194.8 148.7L197.2 150.4L200.7 148.7L203.1 147.5M203.1 147.5L206 145.7L209.6 145.1L212.5 142.8L213.4 141.4L212.5 140.4M203.1 147.5L204 149.6L204.9 151M196 118.6L199 117.4L202.5 116.2L206 118.6L210.2 120.3L213.7 121.5L217.3 123.3L218.4 125.1M218.4 125.1L217.3 128.6L214.9 131L213.1 133.3L213.7 136.9L212.5 140.4L211.4 143.4L210.2 145.7L211.9 146.9L213.1 147.5M218.4 125.1L220.2 126.2L221.3 127.4M171.9 149L175.9 148.4L180.1 149.9L183.7 151L184.4 154.6L185.1 157.3L187.7 158.4L189.8 159.9M169.1 163.4L173.6 163.8L179.1 163.2L184.4 163.2L187.6 162.5M199 132.7L199.8 133.6L199.6 135.1L198.8 134.3ZM169.1 167.3L173.7 167.7L177.2 168.5L180.5 171.2L182.9 172.8L183.7 175.6M178.3 178.8L178 181.6L175.5 184.3L174.8 186.3L175.1 186.9M178.3 178.8L180.5 180.4L179.4 182.7L176.2 185.9M173.3 187.1L171.5 189.5L170.1 191.1M116.3 268.2L116.3 277.1M117 267L113.5 267.6L109.9 268.6L108.5 271.1L107.8 272.9L104.9 272.3L102.1 270.7L99.2 269.2L97.1 268M116.3 268.2L117.7 270.7L119.9 273.1L123.8 275.3L128.4 276.1L125.9 277.3L122 277.3L117.4 276.9L112.8 277.3L108.1 277.1L104.6 275.7L107.1 274.3L110.3 273.9L111.3 271.5L109.9 269.6L113.5 268.4L116.3 268.2M130.2 276.4L133.1 276.5L132 276.9ZM98.9 225.2L96.7 225.9L96.4 228.7L95.7 231.1L98.2 231.5L98.9 229.1L99.2 226.7ZM142.7 264.8L145.5 263L148.7 263.2L149.8 264.6L147 265.6L144.5 266.2ZM150.5 263L154.1 263L155 264.4L152.3 265.6L149.8 266.4L149.1 264.8ZM225.3 273.5L230.7 274.5L233.2 276.7L228.9 275.5ZM266.6 288.6L267.4 288.8M265.9 291L266.7 291.2M265.2 285.8L266 286M263.4 284.2L264.2 284.4M266.3 293.3L267.1 293.5M263.1 294.9L263.9 295.1M79.6 192.7L80.4 192.9M72.5 193.2L73.3 193.4M309 91L309.8 91.2M316.5 206.5L317.3 206.7M136.6 180.8L138.8 180.6L138.1 181.7ZM298.2 0.6L299.8 2.4L301.4 4.6L300.8 7.2L300.6 9.9L301.9 11.5L303.5 13.1L303 15.2L305.1 14.7L306.7 16.3L308.8 18.9L310.9 21L312.5 22.6L313.6 24L313 26.3L314.1 28.5L316.2 30.1L318.4 31.7L320.2 32.6M301.4 5.9L304.5 6.4L307.2 5.6L309.3 6.4L311.2 6.4L309.3 7.1L307.2 6.4L305.1 7.1L301.6 7.3M300.8 9.6L304 9.6L306.7 9.2L310.4 9.1L313 9.3L314.6 10.1L316.8 10.9L320.2 10.4M304.5 13.3L307.2 14.7L309.3 13.9L311.5 13.3L312 11.5L313 9.9M313.6 24L314.6 22.1L316.2 20.5L320.2 20.2M316.8 0.6L317.6 3L318.4 5.6L318.9 7.2L320.2 7.8" fill="none" stroke="#808080" stroke-width="0.52" stroke-linejoin="round"/><path d="M98.2 234.1L99.4 234.3M97.9 233L98.7 233.4M95.5 233.7L94.9 233.8M97.3 233L96.8 233.9M97.7 233.8L97.9 234.8M97.1 233.6L97 235.3M96.6 233.6L98 233.8M95.7 233.5L94.9 234.6M95.9 233.1L96.1 234.5M96.7 232.5L95.9 233.1M97.6 233.6L98.3 233.9M97.3 232.8L97 234.5M96 233.6L96.7 235.2M96.3 233.2L97.4 233.3M95.6 232.6L95.5 234M97.8 233.9L96.3 234.5M98.1 233.8L98.8 233.9M98.1 233.1L99.8 233.2M98.7 234.1L99.1 234.7M94.8 234.1L95.6 234.3M99.1 233.8L97.7 234.5M98.4 232.8L98.3 234.4M97.7 233.1L96.2 233.8M96.8 234.2L97.1 234.8M98.8 233L97.7 233.2M90.6 238.4L91.2 238.9M97.8 235.7L96.8 236.3M97.4 238.1L95.9 238.5M97.3 238.3L98.1 239.8M97.1 239.7L96.6 240.4M95.7 235.1L97.2 235.8M95.4 239.8L96 240M94.7 238.8L95 240.5M98.1 239.2L99.1 240.1M98.1 236L98.7 237.1M94.7 236.9L94.7 238.2M97.3 234.4L96.5 235.4M95.5 236.2L96.8 236.7M96.5 235.3L96.2 236.8M95.6 238.7L95.5 240.2M96.8 236.4L95.8 237.9M97.1 239.7L96.4 240.1M94.3 234.5L95.6 235.2M95.3 237.6L96.7 238.8M93.8 236.2L94.8 236.7M98.6 237.7L98.2 238.2M99 237.6L98.5 238.8M93.3 234.4L94.2 234.7M92.3 235.9L93.9 236.7M98.8 238.1L98.2 239.6M96.9 234.8L97.1 235.8M99 235.1L98.3 235.8M97.1 236L98.1 236.7M96.2 238.9L96.2 240.6M95.1 235.9L95.9 237.4M95.5 238.4L96.2 238.5M93.6 234.3L94.2 235M97.5 236L98.7 237.4M96.6 239.6L97.2 240.5M96.8 234.6L97.9 235.3M99 235.3L99.6 235.4M97.8 236L96.7 237.1M95.1 238.2L94.3 238.3M98.2 238.6L96.9 239.1M96.3 237.8L96.2 239.5M94.3 237.9L93.5 239.2M99.2 236.5L100.8 237M95 237.2L95 237.8M94.9 238.4L94.5 239M99.6 239L99 239.6M93.7 237.4L93.8 238.9M96.7 235.3L96.6 235.9M97.2 234.8L96.7 235.6M94.3 239.2L95.5 239.3M93.1 238.1L94.5 239.2M98.1 236.1L97.3 236.2M93.3 238.1L94.6 239.2M100.6 237.8L100.8 238.7M97.2 235.8L98.8 235.8M96.1 239L95.2 239.3M94.4 235.9L94.9 236.9M99.5 236.3L100.7 237.7M93.1 235.2L92.4 236.8M94.8 238.1L95.2 238.7M97.4 239.4L98.3 240.7M96.3 239.4L96.1 240.5M99.2 235.8L99.2 236.7M97.7 235.8L96.9 236.6M96.3 237L97.3 237.1M98.1 240L97.3 240.4M98.8 236.4L97.2 236.7M101.3 240.1L100.1 240.5M99.8 238L98.3 238.9M93.7 236.2L93 237.6M97.5 237L98.8 238.2M99.1 238L98.5 239.4M98.1 235.3L98.4 236.2M100.1 238.5L98.7 238.7M95.2 241.7L94.3 243.2M99 241.5L98.5 242.2M95.2 240.6L95.2 241.5M94.6 240.8L95.6 241.3M94.8 239.3L93.5 240.7M97.3 245L96.8 245.5M96 243.5L96.5 243.8M97.3 245.1L96.3 245.7M96 240.1L96.9 240.7M97.7 244.9L97.2 245.4M96.4 239.6L95.2 240.8M93.7 240.9L94.7 242.1M99.8 242.2L98.4 242.6M99.1 245.4L97.3 245.7M97.3 242.2L96.5 242.4M92.3 243.1L92 244M97.2 240L95.5 240.6M100 241.8L99.3 242.7M95.9 240.5L94.7 241.8M95.3 242.9L95.1 244M92.9 239.4L93.5 241.2M95.4 242.5L94.6 242.6M91.4 241.7L92.4 241.8M95.3 240.3L94.2 240.5M96.6 244.7L95.8 244.8M95.5 243L96.3 243.4M95 241.5L95.8 241.7M94.5 240L95.5 241.5M96.6 241.3L94.9 242.1M93.8 238.8L94.3 240.5M99.7 242.4L99 244M95.2 240.2L96.1 240.7M95.8 242.1L94.2 243.2M95.1 240.6L95.2 241.3M93.7 244.3L93 244.7M97.1 244.2L96.3 244.6M95.5 241L96.3 241.4M95.5 243.6L95 244M96.4 244.1L96 245M95.1 241.6L95.3 242.7M98.5 243.1L99.6 243.4M90.6 243.1L92.1 244.2M95.2 243.8L94.6 244.3M94.6 241.9L94.5 242.9M99.6 240.1L98.7 241.6M96.3 240.5L95.8 241.4M93.3 244L95 244.7M94.8 243L93.4 243.1M96 243.1L95.2 244.8M97 239.5L96.9 241.3M98.1 240.1L99.1 241M95.1 242.8L96.8 243.6M100.1 241.7L98.6 242.4M99.1 242.3L98.9 243.3M92.5 242.3L93.8 243.5M97.2 240.4L96.4 240.6M95.3 240.7L94.6 241.1M99.3 241.8L98.1 242.8M93 238.9L92.2 239.8M93.4 240.9L92.8 241.6M93.5 242.1L94.5 243.1M95.9 241L95.2 241.7M97.2 244.3L96.6 245.6M93.3 242.3L92.3 243.7M92.5 246.6L93.6 247.4M96.4 244.6L95.5 245.9M95.6 244.9L94.1 245.8M90.5 244.9L91.3 245.2M95.5 244.8L94.9 246.4M96.3 248.8L97.3 248.8M94.8 246.3L93.5 246.4M96 248.4L96.3 250M94.2 245L95.5 245.1M94.2 246.6L95 248.1M95.6 248.3L97.2 248.7M92.2 247.7L92.5 248.7M93.5 245.1L94.1 246.8M95.1 245.6L94.1 246.7M97.5 246.2L96.7 247.6M93 245.5L94.1 246M97.7 248.8L96.7 250.1M97.5 245.6L97.5 246.4M92.9 246.2L94.6 246.8M93.3 245L92.5 245.8M97.7 246.6L97 247.6M96.2 247.4L96.6 248.9M94.2 248.9L94.4 249.8M91.8 247.9L90.5 248.6M95.1 248L96.2 248.3M92.5 248L92.8 249.2M93.4 247.6L94.6 248.4M94.4 248.7L95.7 248.9M90.5 245.3L91.8 245.7M93.9 247.2L92.8 247.9M93.5 246.2L94 247.7M97.3 245.8L97.6 247.3M97.7 246.8L96.4 247M91.7 244.8L91.9 246.1M93.8 245.5L92.4 246.4M93.2 248.5L93.5 249.4M98.2 247L98.8 247.7M95.3 246L94.8 247M95.6 249.3L94 249.7M91.4 244.7L92.1 245M94.8 248.6L94.3 250.1M90.4 247.5L91.6 248.4M93.7 247L93.5 248M96.4 246.5L96.2 248.2M93.6 244.2L92.8 245.7M96.6 247.4L95.6 249M92.5 246.3L91.8 246.5M94.4 247.9L94.9 249M94.4 246.9L94.7 248.2M93.8 248.4L93.8 249.4M91.1 246.8L91.6 247.6M92.7 246.3L94.3 246.5M96 249.4L96.8 249.4M93.7 249.1L92.3 249.5M93.1 247.5L92.6 248.2M95.8 245.5L95.3 246.4M92.3 248.3L93 249.3M93.6 246.4L94.9 246.6M95.6 245.1L94.4 245.4M95.4 245.1L94.2 245.1M98.5 245.8L100.2 246.5M92.6 244.8L92.1 245.4M92.8 252.3L94.1 253.6M99.8 253.2L99.2 253.6M94.9 251L94.9 251.7M93.5 251.3L95 252M92.6 250.8L93.2 252.4M91.5 254.4L93.3 254.8M94.3 253.3L92.6 253.4M95.4 252.1L96 253.5M90.1 252.8L91.1 252.8M91.4 251.8L93.1 252M92.7 253.5L91.2 254.3M94.8 252.5L93.9 252.7M90.7 250.8L92.3 251.3M95.9 253.5L94.7 253.9M93.8 250.1L94.2 251.3M93.4 250.3L94.8 250.7M95.7 253.5L95.6 254.1M90 249.4L89.8 250.4M93.1 253.2L91.6 254.2M96.2 249.3L96.4 251.1M95.3 254.1L97 254.8M93.5 250.6L93 251.5M93.4 251.8L93.9 252.3M93.3 250.9L92.7 251.2M92 253.7L92.8 253.9M91.3 252.9L90.8 254.4M94.4 249.6L92.8 250.3M97.3 250.1L96 250.8M93.6 251.7L93.3 252.4M94.7 250.5L96.3 251.3M97 250.9L96.1 251.4M94.4 250.3L96.2 250.9M88.7 251.5L89.6 251.8M95.8 254.3L95.2 254.4M96.3 253.9L95.4 254.1M98.2 252.3L97.7 253M95.6 249.8L96.2 250.5M91.3 252.7L91.9 253.1M93.4 253.6L93.4 254.2M91.7 254L93.2 254.9M96.1 251.6L97.4 251.6M96.9 251.6L95.5 252.5M93 251.2L94.7 251.6M94.3 254.3L94.2 255M98.7 252.7L98.4 254M94.1 253.3L94.8 253.4M95.1 251.5L96.3 252.1M94.2 253L94.6 254.1M95.1 253.7L94.3 254.4M96.2 250.5L94.8 251.5M95.8 253.8L94 254.1M94.1 250.7L94 251.4M91.2 254.2L89.8 255.2M96.3 253.9L95.8 254.7M91.5 251.9L91.4 253.1M95.9 254.4L97.2 254.9M95.5 254.3L95.5 255.1M97 250L97.6 250.7M92.5 249.5L92.2 250.9M93.6 250.2L93.2 251.3M96.9 250.7L97.4 252M95 252L96 253.2M94.1 250.4L95.2 250.7M94.6 254L95.2 255.3M91.3 252.3L90.2 253.5M93.3 253.5L92.6 253.7M95.5 253.3L95.6 255.1M93.4 252.2L93.1 253.2M93.2 251.4L93.6 252.7M93.8 251.1L93.8 252.3M97.5 254.9L97.3 255.5M94.5 259.2L93.6 259.3M92.5 256.9L92.3 258.7M93.3 256.8L93.9 258M90.6 256.8L91.7 257.1M94.5 256.7L93.2 256.9M91.3 256.5L91.2 258.2M92.9 255.4L92.8 256.2M92.6 259.3L91.6 259.6M95.1 255.1L95.8 255.6M95.1 257.4L94.9 258M93.6 256.8L94.6 256.8M95.8 256L95.6 257.9M92 257.6L92.6 257.7M94.2 258.2L95.1 258.7M91.7 255.1L91.9 256.2M91.7 254.7L92 256.1M94.1 255.2L95.1 256.7M95.4 257.7L95.4 259.5M92.3 256.2L92.9 256.8M93.8 256.2L93.6 257M97.1 257.4L98 257.6M97.6 258.1L97 258.6M93.3 256L94.8 257.1M93.7 257.8L94.1 258.7M95.4 256.4L96 257.7M92.9 255.5L94.1 256M97.7 255.3L98.4 256.2M90.8 259.4L91.7 259.8M92.3 254.5L92.7 255.9M94.4 257.8L94.1 258.6M90.6 255.8L91.2 255.9M96.6 255.1L97.6 255.2M95 257.5L94.4 258.2M94.6 255L94.1 255.5M93.8 257.9L94.3 258.5M93.6 259L92.4 260.2M97.3 256.7L97.6 258M95.2 258.1L93.7 258.2M98.4 256.4L98.6 257.2M95.1 255.8L95.7 256.4M92.1 256.8L93.1 258.2M95.1 254.6L94.9 256.1M93.6 255.2L92.4 256.3M97.1 254.3L97.2 255M93.6 254.9L95.1 255.3M96.8 258.7L96.9 259.6M95.5 256.5L94.7 258.1M90.5 255L91.6 255.8M95.1 258.5L93.7 259.3M94.2 255.7L94.8 256.9M93.1 257.6L91.4 258.1M96.6 256.5L96.5 257.2M96.7 257.6L97.3 257.8M90.9 258.7L91.8 259.9M96.4 256.3L95.6 257.7M98.1 258.1L97.9 259.1M98.5 255.1L96.8 255.3M90 259.5L89.4 259.9M95.9 257.8L94.7 258M97.6 261.4L98.4 261.4M98.4 260.7L98.9 261.9M94.8 261.2L95.6 261.5M98.1 262.2L98.6 262.7M96.8 260.7L97.8 261.5M98.4 259.3L98.2 260.8M95 262.6L96.6 263.1M95.3 261.1L94.7 261.6M99.4 261.2L100.8 261.2M96 260L94.7 260.5M93.3 263.8L94.7 264.6M92.7 261.6L93.7 262M97.1 260.9L98.8 261.5M99.7 260.8L98.5 261.4M99.2 257.6L100.3 258.3M95.6 263.6L95 263.7M97.7 259.9L97.2 260.3M92.6 260.8L92.7 261.6M94.6 263.5L95.6 263.7M96 259.2L96.4 260.2M98.1 260.8L99 261.8M92.9 262.5L92.3 263.8M95.9 260.9L94.5 261.2M93.1 261.3L92.6 262.2M98.3 259.8L99.3 261.4M100 258.4L100.2 259.6M95.8 260.6L94.8 260.8M94 261.8L94.4 263.5M92.9 260.2L93.3 260.7M96.9 260.3L96.5 261M93.6 260.9L92.7 261.2M93.7 261.2L93.2 262.1M97.6 257.9L98.2 259M96.8 262.1L96.5 263.5M96.2 261.5L95.2 262.7M95.9 262.4L96 263.4M94 262.3L93.1 262.4M95.4 262.7L95 263.7M96.8 262.1L98.3 262.6M94.2 259.6L95.5 259.9M90.8 262.7L91.5 263.3M96.1 262.1L97.2 262.9M92 261L90.8 262.2M95.8 259.8L97.1 260.5M95.2 261.5L96.6 262.6M94.6 259.4L96 260.1M92.6 262.2L91.9 262.2M92.8 259.9L94 260.3M96.6 258.7L98 259.4M99.2 260.2L98.2 260.5M90.6 261.8L91.1 262.4M99.9 257.9L100.3 259.2M99 263.4L98.9 264.7M93.8 268.1L94.1 269M95.7 265.8L95.9 266.5M100.2 265.5L101.2 266.5M97.8 265.2L98.8 266.8M94 264.4L93.5 266.3M95.7 265.1L95 266M96.7 265.7L96.2 266.9M97.7 263.3L97.8 264.8M98.8 266.8L98 267.3M96.4 264.6L94.9 265.5M101.7 264.8L101.1 265.2M100.7 261.9L99.7 262.6M100.5 263.2L99.9 264.2M99.4 265.4L100.3 266.1M97.1 264.7L97.5 266.1M100.1 265.6L99.3 265.8M98.2 267L98.5 267.6M99.5 265.8L98 266.3M97 263.6L96 264.1M96.1 265.4L96.1 267.1M96.2 266.8L97 267.1M100.6 264.7L99.8 265.6M97.1 264.1L95.5 264.1M100.2 265.2L102.1 265.2M100 263L98.8 263.6M101.1 263.5L99.6 264.2M98.8 264.5L98.5 265.6M97.3 266.7L98.3 266.9M97.4 264.8L98.5 266M94.7 265.2L94.9 267M98.1 264.7L97.8 265.3M97.3 267.3L96.5 268.6M96 266.8L97.2 268.1M101.2 263.6L102.9 263.8M98.3 263.7L98.2 264.5M97.6 264.4L98.8 264.7M98.9 266.6L97.6 266.8M97.2 264.8L96.5 265M95.1 266.6L95.9 266.8M100.1 265L100.9 266.6M100.6 263.6L101.7 264.7M99.8 264L99.4 265.1M98.1 262.3L99.3 262.8M96.3 264.8L95.2 265.2M98.9 264L100 264.7M99.6 263.9L100.2 264.4M94.5 265.5L96.3 265.6M98.2 269.6L99.4 270.7M102.3 264.4L102.2 265.4M99.1 270.8L98.1 271.5M101.8 269.8L102 270.5M95.6 271.3L95.7 272.5M97.9 271.9L99 272.7M101.8 269.2L102.2 270M98.5 272.8L97.1 273.6M100 269.9L99.1 270.3M101.4 270.4L102 270.9M101.8 267L100.9 268.3M98.4 270.5L96.7 270.8M100.8 266.9L101.5 268.1M101.9 269.2L102.7 269.3M101 269.6L101.5 270.4M97.5 269.9L98.4 270.2M99.9 269.7L101.3 270.2M99.4 267.1L98.3 267.3M97.1 269.1L97.6 270.3M97.2 268.8L98 269.6M97 268.1L97.7 269.8M102.5 268.3L102.9 270.2M98.7 268.7L98.6 270.2M101.4 269.6L103.1 269.9M101.6 269.2L100.2 269.8M101.7 270.3L101.6 270.9M98.7 269.6L98 270.2M99.4 270.1L98.2 270.9M96.9 270.6L97.4 271.3M97.4 271.2L98.5 271.7M103.4 265.6L101.6 265.8M101.5 265.9L101.9 267M104 267.6L104.2 269.3M101.4 269.5L100.7 270.2M98.2 269.6L97.8 270.5M101.4 268.5L102.2 270.1M103 264.8L102 265.9M100.8 267.4L100 269M99.6 270.9L98 271.2M98.3 268.5L99.7 269.5M99.2 269.4L100.1 269.9M99.7 266.4L99 267.5M101.4 267.4L100 268.4M98.3 268.9L96.6 269.5M98.4 271.2L99.8 271.8M100.9 266.6L100 267.3M100.7 269.2L102.1 269.2M102.2 264.2L101.9 265.8M101.5 267.5L102.8 268.5M95.9 270.2L97.5 270.3M99.5 269.8L99.4 271.1M96.3 271.1L95.3 271.2M98.3 269.8L98.7 270.5M102.3 265.9L102.2 267.1M99.9 266.6L99.7 268.1M99.4 272.6L98.4 273.7M102.7 263.7L101.8 264.8M102.1 266.1L101.1 266.2M101.4 265.1L100.4 265.7M102.1 263.6L102.3 265.5M100.2 271.2L100.9 271.5M100.9 267.9L102.6 268M97.5 272.7L96.7 273.5M106.6 270.6L105.9 272.2M106.3 270.8L107.1 271.1M102.7 272.4L102.8 273.1M106.4 269.9L105.6 271.2M100.7 272.3L102.3 273.1M105.9 268.9L106.7 269.6M102.8 274.5L103.5 274.6M102.9 271.7L101.5 272M103.6 272.5L105 273.4M104.6 269L102.9 269.6M100.4 271.6L100.4 273M104.9 271.6L105 272.3M102.8 269.3L102.8 270.4M103 272.1L101.9 273.4M102.6 273.1L104.1 274.1M103.3 271.1L103.8 272M101.5 272.5L99.9 272.8M102 275.5L102.9 276.3M101.1 270.4L101.9 271.8M101.6 275.2L103.2 275.8M103.4 271.3L102.6 271.4M102.9 271.9L103.4 273.6M103.7 270.2L102.6 271.7M102.6 271L101.5 272.1M104.8 267.8L105.5 268.4M104.8 273.4L104.3 274.8M106.4 268.2L104.9 268.4M102.8 271.5L102.4 272M104.8 272.7L104.3 273.6M102.4 270.7L101.8 271.9M104.9 266.7L106.6 267.5M103.2 270.5L104 271.3M105.5 268.8L106.2 269.7M103.5 271.5L102.9 271.7M104.5 269.8L105.2 270M105.2 269.2L105.9 269.4M101.3 273.2L102.2 273.4M103.4 274.2L102.8 274.5M107.8 269.9L106.6 270.2M105.4 270.1L106.6 271M102.5 271.8L103 272.1M106.1 269.9L105.2 270.9M101.6 271.2L103.1 272M103.7 275.4L102.9 275.7M101.2 271.8L101.6 273.2M101.3 270.4L101.2 272.3M103.5 273L104.9 274.3M103.3 270.3L104.4 270.4M102.6 269.8L103.4 270.6M106.8 272L107.3 273.7M106.7 278.2L105.5 278.4M105.8 274.5L106.1 275.7M107.4 277.2L108.3 277.5M107.6 276.5L106.8 276.6M109.7 272.4L109.6 273.9M105.1 274.3L104.2 275.7M105.2 273.5L104.8 274.3M109.8 275.9L109 276M108 275.2L108.9 275.5M109.1 272.2L107.8 272.4M105.3 276.6L104.7 277.9M107.7 275.5L108.2 276.2M107.9 276.9L107.6 277.7M104.4 274.3L105 274.5M107.2 273.1L107.2 274M108.5 274.4L107.8 275.2M106.8 275L107.5 275.1M108.4 274.6L109.7 275.5M105.8 273.7L107.3 273.9M106.8 272.7L106.2 274.4M105.9 273.5L106.7 273.9M107.7 277.2L106.9 277.8M107 273.1L107.6 273.3M107.3 274.6L107.4 275.4M106.2 273.2L105.4 274.2M110.7 271.7L110.8 272.7M109.9 272.7L108.9 273.9M106.1 275.5L105.8 276.1M109.6 275.6L109.3 276.6M103.7 275.5L104.8 275.8M106 273.3L105.4 273.8M108.3 270.1L107.6 270.5M105.2 274.3L106 274.7M111.9 273.3L110.2 273.9M105.8 276.1L106 277.6M109.4 272.4L111 272.9M108.5 272.1L107.7 272.2M110.1 273.3L110.5 274M104.5 277.2L106.1 277.2M106.5 277.9L105 278.7M107.1 272.6L107.3 273.2M106.2 274.9L104.7 275.5M105 276.3L103.9 277.5M109.4 275L108.7 275.3M108 275L106.5 275.8M109.3 275.4L108.5 276.6M104 274.4L104.8 275.9M108.2 275.5L108.8 276M106.4 274.8L107.2 275.9M107.8 276.4L108.7 277.9M108.6 273L108.6 274.2M105.2 275.2L106.9 275.9M105.4 273.1L105.5 273.8M105.4 276.6L106.6 277.6M108.4 275.3L108.6 276.4M107.7 275.1L108.5 276.4M105.2 273.6L106.9 274.4M108.1 276.1L108.9 277.8M108.4 271.6L106.7 272.1M107.1 275.5L107.8 276.2M104.9 273.2L105.6 273.8M107.6 273.4L108.7 274.2M111.6 278.2L112.7 279.5M113.4 277.3L114.1 277.5M113.8 275.6L113 277.4M109.8 276.1L110.6 276.5M110 273.7L111.1 274.3M110.8 278L110.9 278.9M112.1 278L112.3 279M113.3 275L113.2 275.6M113.8 277.5L112.7 277.7M112.3 275.3L111 276.7M110 276.4L109.6 277.8M110 278.3L110.7 278.7M113.8 276.1L113.9 277.3M111.5 277.3L110.1 277.7M112.4 275.3L111.7 275.9M111.6 275L111.5 276M110.6 276.4L111.4 276.4M110.6 275.8L108.8 276.3M111.9 276.4L112.1 277.3M112.7 278.6L113.4 278.7M110 274.9L110.8 275.1M109.5 276.5L110.3 278.2M110.4 274L111.6 274.3M113.4 274.4L113.2 275.5M114.5 276.9L112.8 277.2M112.2 274.9L111.2 275.7M109.3 276.1L109 277.6M110.3 279.8L109.9 280.7M111.6 276.7L110.3 277.7M113.6 277L114.5 278M110 277.5L109.4 277.7M114.1 276.2L113.7 277.9M113.8 277.4L112.8 278.5M113.9 275.4L112 275.8M110.8 277.3L111 279M112.3 275.4L113.5 275.5M110.9 276.6L111.8 278.2M113.9 278.3L113 278.5M113.2 279L112.7 280.1M114.6 275.1L113.4 276M114.2 275.8L112.4 276.1M109.5 277L110.2 277.4M112.1 274.9L111.8 276.5M113.1 276.9L111.2 277.2M109.4 277.9L109.2 278.9M110.8 272.5L110.3 273.7M114.1 277L113.5 278.2M112.9 276.7L114 278.2M113.6 278.6L112.1 278.6M114.5 273.4L113.5 273.5M113.1 273.8L112.6 275.4M109.6 273L111.3 273.6M110.7 277.9L109.6 278M112.1 276.4L113.6 276.9M112.3 274.2L110.5 274.5M112.7 276.5L113.2 277M110 274.8L111.1 275.4M111.8 276.7L112.5 276.8M114 274.2L114.3 275.2M113 276.1L113.2 277.4M110.6 273.1L110.8 274.1M115.1 278.3L115.3 279.1M113.6 277.1L114.9 277.8M118.6 275.8L119.1 276.3M117.2 279L116.7 279.8M113.2 279.4L114.4 279.8M116.8 277.3L116 277.9M116.7 276.5L116.2 278.3M115.5 275.9L116.2 277.2M115.7 277.6L115.8 278.2M113.1 279.4L114.7 280.2M117.5 276.7L118.1 276.7M115.6 280.8L114.1 281.3M118.2 280.2L116.9 280.5M114.7 277.2L115.2 278.3M117.2 275.9L117.2 277.1M117.9 276.8L116.8 277.8M117.9 277.1L117.8 278.2M115.2 277.5L115.3 279M114.9 276.3L115.5 277.8M118.3 275.8L117.6 277.2M116.2 277.1L115.2 278.7M117.1 278.7L117.9 279.7M116.6 280.3L116.8 281.4M115.4 280.2L113.8 281M115.2 277.6L116.9 278.2M115.5 278L116.6 278M116 275.1L116.7 276.4M117.8 275.1L117.4 276M114.9 278.6L115.7 278.9M114.8 276.7L116.6 277.4M114.9 277.8L115.2 278.4M117.6 277.8L117.7 279.6M115.3 275.6L114 276.6M114.5 278.3L115.6 278.7M116.2 277.2L115.4 278.2M118.5 276.8L119.2 278.4M115 278L114.5 279.2M114.6 277.7L116 278.2M116.5 276.4L117.1 277.4M116.4 278.1L117.6 279.2M115.5 278.7L116.4 278.8M118.1 279.4L118.2 280.2M114.7 278.6L114.3 279.3M117.2 276.8L117.1 277.5M116.8 276.6L116.1 277.8M115.5 278.9L116 280M117.2 277.8L116.6 278.5M117.1 278.5L118.8 278.6M116 279.7L115.2 280M118.4 276.4L119.1 276.6M117 275.1L118.1 276.5M117.9 281.1L117.1 281.7M114.4 279.2L113.6 279.5M116.3 278.6L117.8 279.7M117.8 278.2L119.3 278.3M115.3 278.9L115.2 279.7M117.7 278.1L118.9 279M116 277L115.5 278.1M115.1 277.2L116.8 277.2M115 278.8L114.7 279.5M117.9 278.2L117.1 279.6M119.6 277.7L119.5 278.8M120.1 278.7L120.6 279.1M119.7 279.3L121.1 279.6M120.2 278.6L121.8 279.1M119.6 277.3L120.3 278.3M118.5 278.8L118.8 279.8M118.2 279.4L118.6 281M122 278.7L120.9 279.1M120.2 279.1L121.1 280M122.1 278.4L121.5 278.5M119.6 280.5L120.5 280.9M121.2 278.8L120.5 280M118.9 277.7L119.3 278.4M120.7 278.9L120.5 280.5M118.6 278.2L120.1 278.3M120.2 277.6L120.4 278.4M119.9 279.6L120.1 280.5M121.3 279.1L121.8 280.6M121 276.5L120.2 276.8M119.4 279.8L120.3 280.7M120.1 277.3L120.9 278.4M119.4 278.1L120.5 278.6M121.1 279.8L121.8 280M120.4 279.9L120.4 280.7M119.7 278.3L120.6 279.4M118.9 278.4L119.3 279.4M122 280.3L120.2 280.4M120.4 280.7L122 281.1M119.7 278.6L120.9 279M122.1 278.8L121.2 280.1M119.9 278.9L121.4 279.9M121.2 281.4L120.4 281.8M120.7 281L119.8 281.4M181 64.6L180.1 64.8M181 64.8L181.8 65.3M183 67.6L183.7 67.8M183.5 65.3L183.9 65.6M181.4 58.1L182 58.5M181.6 65.2L181.6 66.3M181.3 61.1L179.9 61.1M186.4 66.3L186.8 66.9M185.8 62.5L185.1 62.9M188.1 63.6L187.3 63.6M185.3 60.9L186 61.1M186 59.4L185.8 60.3M177.3 62.4L176.3 62.8M185.4 61.6L185.7 62M174.5 64.7L175.3 65.4M179.8 63.3L178.8 63.4M182.2 68.5L182.7 68.8M187.2 65L187.3 65.6M182.3 61L183.3 61.6M182.4 68.1L182.1 68.8M176.3 62L176.2 62.6M184 64.9L184.5 65.1M180.6 66.3L181.4 67.5M175.1 64.1L174.2 65M185.5 66.2L184.5 67M179.6 66.1L178.4 66.5M187.1 64.5L186.8 65.3M182.1 65.2L183.1 65.5M185.2 62.2L184.5 62.9M181.3 60.1L180.7 60.9M182.9 69.1L183.3 69.5M177.9 66L178.5 66.4M178.2 65.8L179 66.3M187.3 62.1L187.1 62.9M176.2 63.6L175.1 64.2M180.2 60.8L180.9 61.4M182.9 63.4L183.6 64.4M188.6 63.3L189.1 63.4M184.2 64.4L184.9 65.4M186.2 60.5L186.7 60.7M183.5 62.8L183.1 63.8M184.1 59.8L184.2 60.5M184.4 59.6L184.9 60.2M184.6 63.7L184.2 64.8M175.8 62.8L175.3 64M179.9 64.6L178.8 65.1M188.4 63.2L188.1 63.8M185 67.5L184.5 68.5M202.4 70.5L202.1 71M202 71.1L201.4 71.9M202.1 70.6L202.9 70.9M200.7 71.8L202 72.1M202.1 69.4L201.6 69.6M203 67.9L201.7 68M200.9 69.4L201.6 69.7M202.8 68.1L202.5 68.5M201.2 71.1L201.5 71.9M202.5 69.6L202.7 70.1M35.9 62.7L35.5 63.4M34.8 59.1L35.3 59.3M37.9 58.8L38.3 59.3M40.5 62.4L41 62.4M40.9 63.9L40.2 64.3M41.5 63.7L42 64.3M37.8 63.3L37.6 63.9M36.5 60.7L36.7 61.1M41 64L40.2 64M38 63.4L38.6 63.7M37 58.5L37.6 58.9M35.7 60.8L35.5 61.4M34.4 61.2L34.8 61.6M34.8 60.2L35.5 60.4" fill="none" stroke="#868686" stroke-width="0.7"/></g>
<clipPath id="pc"><rect x="0" y="0" width="320.6" height="297.3"/></clipPath><g clip-path="url(#pc)"><path d="M0.1 24.9C1.1 25.4 3.8 26.9 5.7 27.9C7.7 28.8 9.8 30.2 11.8 30.7C13.8 31.2 15.8 30.6 17.8 30.9C19.8 31.1 21.8 31.4 23.8 32.3C25.8 33.1 28 35.5 29.8 35.9C31.7 36.3 33 35.2 34.9 34.9C36.7 34.6 38.9 34.1 40.9 33.9C42.9 33.7 45.1 33.6 46.9 33.9C48.7 34.2 50.2 34.7 51.9 35.9C53.6 37.1 55.4 39.1 56.9 40.9C58.4 42.7 60.1 45.1 60.9 46.9C61.8 48.8 61.9 49.8 61.9 51.9C61.9 54.1 61.3 57.6 60.9 60C60.6 62.3 60 64 59.9 66C59.9 68 60.7 69.7 60.5 72C60.4 74.4 59.7 77.7 58.9 80C58.2 82.4 57.1 84.1 55.9 86.1C54.8 88.1 53.3 90.5 51.9 92.1C50.6 93.7 48.6 94.9 47.9 95.5M25.8 98.1C24.8 97.9 22.1 96.8 19.8 96.7C17.5 96.6 14.1 97 11.8 97.5C9.4 98 7.7 98.6 5.7 99.5C3.8 100.4 1.1 102.2 0.1 102.7M203.9 -0.2C205.4 0.3 209.7 2 212.9 2.8C216.1 3.5 219.6 4 222.9 4.4C226.3 4.8 229.6 5.1 233 5.2C236.3 5.3 239 5.1 243 5C247 4.8 252.7 4.4 257.1 4.2C261.4 4 265.8 4 269.1 3.8C272.4 3.5 274.9 3.4 277.1 2.8C279.4 2.2 281.8 0.6 282.7 0.2M304.6 -0.2C305.1 0.9 306.4 4.1 307.2 6.8C308.1 9.5 308.9 12.6 309.6 15.8C310.4 19 311.2 22.8 311.6 25.9C312.1 28.9 312.5 31.9 312.2 33.9C312 35.9 311.4 36.6 310.2 37.9C309.1 39.2 307.2 40.6 305.2 41.5C303.2 42.4 299.4 43 298.2 43.3M282.7 46.3C282.5 46.9 282.1 48.8 281.1 49.9C280.2 51.1 278.6 52.8 277.1 53.4C275.6 53.9 273.3 53 272.1 53.4C270.9 53.7 269.9 54.3 269.7 55.4C269.5 56.5 269.9 58 271.1 60C272.3 61.9 274.4 64.5 277.1 67C279.8 69.5 283.8 72.9 287.2 75C290.5 77.2 294.2 78.5 297.2 80C300.2 81.6 302.7 82.4 305.2 84.1C307.7 85.7 310.1 88.2 312.2 90.1C314.4 91.9 316.8 94.1 318.3 95.1C319.7 96.1 320.4 95.9 320.9 96.1M320.9 30.3C320.3 30.4 318.2 30.3 317.3 30.9C316.3 31.5 315.3 32.9 315.3 33.9C315.2 34.9 315.9 36.3 316.9 36.9C317.8 37.5 320.2 37.4 320.9 37.5M0.1 151.8C2.1 152.2 7.8 153.8 11.8 154.4C15.7 155 19.8 155.1 23.8 155.2C27.8 155.3 31.8 155.4 35.9 155.2C39.9 155 43.9 154.5 47.9 153.8C51.9 153.1 55.9 152.2 59.9 151.2C64 150.2 68.1 149 72 147.8C75.8 146.5 81.2 144.4 83 143.8M105.1 142.8C106.3 143.6 109.3 146.3 112.1 147.8C115 149.3 118.8 150.5 122.2 151.8C125.5 153.1 128.9 154.3 132.2 155.8C135.5 157.3 138.9 158.8 142.2 160.8C145.6 162.8 148.5 165.8 152.3 167.8C156 169.9 161.3 171.4 164.7 172.9C168.1 174.4 169.7 175.7 172.8 176.9C175.8 178 179.4 179 182.8 179.9C186.1 180.8 189.1 181.7 192.8 182.3C196.5 182.9 200.9 183.2 204.9 183.5C208.9 183.8 212.9 184.1 216.9 184.3C220.9 184.5 224.7 184.7 229 184.9C233.2 185.1 240.3 185.6 242.6 185.7M265.1 184.9C266.4 184.6 270.4 184.1 273.1 183.3C275.8 182.5 279 181.3 281.1 179.9C283.3 178.5 285.1 177 286.2 174.9C287.2 172.7 287.5 169.5 287.6 166.8C287.7 164.2 286.5 161.3 286.8 158.8C287 156.3 287.8 153.6 289.2 151.8C290.6 149.9 292.8 148.7 295.2 147.8C297.5 146.8 300.4 146.5 303.2 146.2C306.1 145.8 309.5 145.7 312.2 145.8C315 145.9 318.4 146.6 319.7 146.8" fill="none" stroke="#6cf06a" stroke-width="1.7" stroke-linecap="round" stroke-linejoin="round"/><path d="M0.1 177.9C2.1 177.7 7.8 177.2 11.8 176.9C15.7 176.5 19.8 176.3 23.8 175.9C27.8 175.5 31.8 175 35.9 174.5C39.9 174 43.9 173.4 47.9 172.9C51.9 172.4 56.9 171.8 59.9 171.5C63 171.1 65 171 66 170.9M88 169.5C89 169.5 92.1 169.9 94.1 169.9C96.1 169.8 98.1 168.9 100.1 169.3C102.1 169.6 104.1 170.7 106.1 171.9C108.1 173.1 110.1 175.7 112.1 176.5C114.1 177.2 116.1 175.9 118.1 176.5C120.2 177 121.8 178.7 124.2 179.9C126.5 181.1 129.2 182.4 132.2 183.9C135.2 185.4 138.9 187.5 142.2 188.9C145.6 190.3 147.8 191.3 152.3 192.3C156.7 193.3 164 194.2 168.7 194.9C173.5 195.6 176.8 196.1 180.8 196.5C184.8 197 188.8 197.3 192.8 197.6C196.8 197.8 201.5 197.9 204.9 198C208.2 198 211.6 198 212.9 198M235 198C237 198.1 242.7 198.6 247 199C251.4 199.3 256.1 199.6 261.1 200C266.1 200.3 271.8 200.7 277.1 201C282.5 201.2 288.2 201.4 293.2 201.6C298.2 201.7 302.8 201.8 307.2 201.8C311.6 201.7 317.6 201.4 319.7 201.4" fill="none" stroke="#37d23c" stroke-width="1.7" stroke-linecap="round" stroke-linejoin="round"/><path d="M0.1 217.6C2.1 216.9 7.8 214.6 11.8 213C15.7 211.4 19.8 209.6 23.8 208C27.8 206.4 31.8 204.6 35.9 203.4C39.9 202.1 43.9 201.2 47.9 200.6C51.9 199.9 55.9 199.5 59.9 199.4C64 199.2 68 199.3 72 199.6C76 199.8 80 200.4 84 201C88 201.5 92.1 202.1 96.1 203C100.1 203.8 104.1 205 108.1 206C112.1 207 116.1 208 120.2 209C124.2 210 128.2 211.2 132.2 212C136.2 212.8 140.2 213.5 144.2 214C148.3 214.5 152.9 214.9 156.3 215.2C159.7 215.5 162 215.7 164.7 215.8C167.4 215.9 171.1 216 172.4 216M194.8 215.6C196.8 215.5 202.9 215.2 206.9 215C210.9 214.8 214.9 214.5 218.9 214.4C222.9 214.3 226.9 214.2 231 214.2C235 214.2 239 214.3 243 214.6C247 214.9 251 215.4 255 216C259.1 216.6 263.1 217.3 267.1 218C271.1 218.8 275.1 219.7 279.1 220.4C283.1 221.2 287.2 221.8 291.2 222.4C295.2 223 299.2 223.6 303.2 224C307.2 224.5 312.5 225 315.3 225.2C318 225.5 318.9 225.4 319.7 225.4" fill="none" stroke="#1eb41e" stroke-width="1.7" stroke-linecap="round" stroke-linejoin="round"/><path d="M0.1 235.1C2.1 234.6 7.8 233.2 11.8 232.1C15.7 231 19.8 229.7 23.8 228.5C27.8 227.2 31.8 225.8 35.9 224.4C39.9 223.1 43.9 221.7 47.9 220.4C51.9 219.2 55.9 217.9 59.9 217C64 216.1 68 215.3 72 215C76 214.7 80 214.8 84 215C88 215.2 92.1 215.5 96.1 216C100.1 216.5 104.1 217.3 108.1 218C112.1 218.8 116.1 219.6 120.2 220.4C124.2 221.3 128.2 222.3 132.2 223C136.2 223.8 140.2 224.4 144.2 225C148.3 225.7 152.2 226.6 156.3 227.1C160.4 227.6 164.7 227.9 168.7 228.1C172.8 228.2 176.8 228.1 180.8 228.1C184.8 228 188.8 227.8 192.8 227.7C196.8 227.5 201 227.2 204.9 227.1C208.7 226.9 214.1 226.7 215.9 226.7M238.6 226.7C240.3 226.9 245.3 227.5 249 228.1C252.8 228.6 257.1 229.3 261.1 230.1C265.1 230.8 269.1 231.7 273.1 232.5C277.1 233.2 281.1 234 285.2 234.7C289.2 235.4 293.2 236.1 297.2 236.7C301.2 237.3 305.5 238 309.2 238.5C313 239 317.9 239.5 319.7 239.7" fill="none" stroke="#78b9fa" stroke-width="1.7" stroke-linecap="round" stroke-linejoin="round"/><path d="M0.1 248.1C2.1 247.7 7.8 246.4 11.8 245.5C15.7 244.7 19.8 243.9 23.8 243.1C27.8 242.3 31.8 241.4 35.9 240.5C39.9 239.6 43.9 238.7 47.9 237.7C51.9 236.7 55.9 235.9 59.9 234.7C64 233.5 68.3 231.8 72 230.7C75.7 229.6 78.7 228.7 82 228.1C85.4 227.5 88.4 227.1 92.1 227.1C95.7 227 100.1 227.2 104.1 227.7C108.1 228.1 112.1 228.9 116.1 229.7C120.2 230.4 124.2 231.3 128.2 232.1C132.2 232.9 136.2 233.7 140.2 234.5C144.2 235.3 147.5 235.9 152.3 236.7C157 237.5 164 238.6 168.7 239.1C173.5 239.6 176.8 239.5 180.8 239.5C184.8 239.5 189.2 239.3 192.8 239.1C196.4 238.9 200.9 238.6 202.5 238.5M224.9 238.1C226.9 238.2 233 238.3 237 238.5C241 238.7 245 239.1 249 239.5C253 239.9 257.1 240.4 261.1 241.1C265.1 241.8 269.1 242.7 273.1 243.5C277.1 244.3 281.1 245.3 285.2 246.1C289.2 247 293.2 247.8 297.2 248.5C301.2 249.3 305.5 249.9 309.2 250.5C313 251.1 317.9 251.9 319.7 252.1" fill="none" stroke="#3c8cf2" stroke-width="1.7" stroke-linecap="round" stroke-linejoin="round"/><path d="M0.1 259.6C2.1 259.1 7.8 257.5 11.8 256.6C15.7 255.7 19.8 254.8 23.8 254.2C27.8 253.5 31.8 253 35.9 252.5C39.9 252.1 43.9 251.9 47.9 251.5C51.9 251.2 55.9 251 59.9 250.5C64 250 68.3 249.4 72 248.5C75.7 247.7 78.7 246.6 82 245.5C85.4 244.4 89.2 242.9 92.1 242.1C94.9 241.3 97.9 240.8 99.1 240.5M122.2 240.5C123.8 240.8 128.5 241.7 132.2 242.5C135.9 243.3 140.2 244.3 144.2 245.1C148.3 245.9 152.2 246.5 156.3 247.1C160.4 247.8 164.7 248.7 168.7 249.1C172.8 249.6 176.8 249.6 180.8 249.7C184.8 249.8 188.8 249.7 192.8 249.7C196.8 249.7 200.9 249.7 204.9 249.7C208.9 249.8 212.9 250 216.9 250.1C220.9 250.3 224.9 250.5 229 250.7C233 251 237 251.3 241 251.7C245 252.1 249 252.6 253 253.1C257.1 253.7 261.1 254.4 265.1 255.2C269.1 255.9 273.1 256.8 277.1 257.6C281.1 258.3 285.2 259.1 289.2 259.8C293.2 260.5 297.2 261.1 301.2 261.8C305.2 262.4 310.2 263.1 313.3 263.6C316.3 264 318.6 264.3 319.7 264.4" fill="none" stroke="#1e6eeb" stroke-width="1.7" stroke-linecap="round" stroke-linejoin="round"/><path d="M0.1 271.6C2.1 270.9 7.8 268.8 11.8 267.6C15.7 266.4 19.8 265 23.8 264.2C27.8 263.3 31.8 262.9 35.9 262.6C39.9 262.2 43.9 262.2 47.9 262.2C51.9 262.2 55.9 262.5 59.9 262.6C64 262.6 68.3 262.7 72 262.6C75.7 262.4 78.7 262.3 82 261.8C85.4 261.3 88.7 260.4 92.1 259.6C95.4 258.7 98.7 257.4 102.1 256.6C105.4 255.8 110.5 255.1 112.1 254.8M135.2 255.2C136.7 255.4 140.7 256 144.2 256.6C147.8 257.1 152.2 257.9 156.3 258.6C160.4 259.3 164.7 260.2 168.7 260.8C172.8 261.3 176.8 261.5 180.8 261.8C184.8 262.1 188.8 262.3 192.8 262.6C196.8 262.8 200.9 263 204.9 263.2C208.9 263.4 212.9 263.5 216.9 263.8C220.9 264.1 224.9 264.4 229 264.8C233 265.2 237 265.7 241 266.2C245 266.7 249 267.1 253 267.6C257.1 268.1 261.1 268.6 265.1 269.2C269.1 269.8 273.1 270.5 277.1 271.2C281.1 271.9 285.2 272.5 289.2 273.2C293.2 273.9 297.2 274.6 301.2 275.2C305.2 275.8 310.2 276.4 313.3 276.8C316.3 277.2 318.6 277.5 319.7 277.6" fill="none" stroke="#195fd7" stroke-width="1.7" stroke-linecap="round" stroke-linejoin="round"/><path d="M0.1 285.3C2.1 284.4 7.8 281.7 11.8 280.2C15.7 278.7 19.8 277.3 23.8 276.2C27.8 275.2 31.8 274.2 35.9 273.8C39.9 273.4 43.9 273.7 47.9 273.8C51.9 274 55.9 274.5 59.9 274.8C64 275.1 68.3 275.6 72 275.6C75.7 275.7 78.7 275.6 82 275.2C85.4 274.8 88.4 274.1 92.1 273.2C95.7 272.4 100.2 271 104.1 270.2C107.9 269.4 113.3 268.5 115.1 268.2M138.2 268.2C139.9 268.4 143.2 268.9 148.3 269.6C153.3 270.3 163.3 271.6 168.7 272.2C174.2 272.8 176.8 272.9 180.8 273.2C184.8 273.6 188.8 273.9 192.8 274.2C196.8 274.6 200.9 274.8 204.9 275.2C208.9 275.6 212.9 276.1 216.9 276.6C220.9 277.1 224.9 277.7 229 278.2C233 278.8 237 279.3 241 279.8C245 280.3 249 280.7 253 281.2C257.1 281.7 261.1 282.2 265.1 282.9C269.1 283.5 273.1 284.2 277.1 284.9C281.1 285.5 285.2 286.2 289.2 286.9C293.2 287.5 297.2 288.2 301.2 288.7C305.2 289.2 310.2 289.5 313.3 289.9C316.3 290.2 318.6 290.5 319.7 290.7" fill="none" stroke="#1450c8" stroke-width="1.7" stroke-linecap="round" stroke-linejoin="round"/><path d="M17.8 296.7C19.1 296 22.8 293.8 25.8 292.7C28.8 291.6 32.2 290.8 35.9 290.3C39.5 289.8 43.9 289.7 47.9 289.7C51.9 289.7 55.9 290.3 59.9 290.3C64 290.3 68 290 72 289.7C76 289.3 80 288.9 84 288.3C88 287.6 92.1 286.6 96.1 285.7C100.1 284.8 104.3 283.5 108.1 282.9C112 282.2 117.3 281.8 119.1 281.6M141.8 281.6C143.6 281.8 147.8 282.4 152.3 282.7C156.8 282.9 164 283 168.7 283.3C173.5 283.5 176.8 283.9 180.8 284.3C184.8 284.6 188.8 284.9 192.8 285.3C196.8 285.7 200.9 286.2 204.9 286.7C208.9 287.2 212.9 287.7 216.9 288.3C220.9 288.8 224.9 289.3 229 289.9C233 290.5 237 291.2 241 291.9C245 292.6 249.7 293.3 253 293.9C256.4 294.5 259.1 295.2 261.1 295.7C263.1 296.2 264.4 296.5 265.1 296.7" fill="none" stroke="#4a34c4" stroke-width="1.7" stroke-linecap="round" stroke-linejoin="round"/><path d="M116.1 296.7C118.1 296.4 124.2 295.2 128.2 294.7C132.2 294.2 136.2 294.1 140.2 293.9C144.2 293.7 147.5 293.7 152.3 293.7C157 293.7 164 293.6 168.7 293.7C173.5 293.8 176.8 294 180.8 294.3C184.8 294.6 189.8 295.3 192.8 295.7C195.8 296.1 197.8 296.5 198.8 296.7" fill="none" stroke="#5c48d2" stroke-width="1.7" stroke-linecap="round" stroke-linejoin="round"/></g><g class="t" font-family="Liberation Sans, sans-serif" font-weight="bold" font-size="10" stroke-width="0.3" text-rendering="geometricPrecision"><text x="26" y="102.9" fill="#6cf06a" stroke="#6cf06a" textLength="21.7" lengthAdjust="spacingAndGlyphs">5840</text><text x="276" y="45.5" fill="#6cf06a" stroke="#6cf06a" textLength="21.7" lengthAdjust="spacingAndGlyphs">5840</text><text x="82.7" y="146.1" fill="#6cf06a" stroke="#6cf06a" textLength="21.7" lengthAdjust="spacingAndGlyphs">5840</text><text x="243" y="189" fill="#6cf06a" stroke="#6cf06a" textLength="21.7" lengthAdjust="spacingAndGlyphs">5840</text><text x="66" y="173.5" fill="#37d23c" stroke="#37d23c" textLength="21.7" lengthAdjust="spacingAndGlyphs">5800</text><text x="212.9" y="201" fill="#37d23c" stroke="#37d23c" textLength="21.7" lengthAdjust="spacingAndGlyphs">5800</text><text x="172.7" y="219.5" fill="#1eb41e" stroke="#1eb41e" textLength="21.7" lengthAdjust="spacingAndGlyphs">5700</text><text x="216.3" y="230.1" fill="#78b9fa" stroke="#78b9fa" textLength="21.7" lengthAdjust="spacingAndGlyphs">5600</text><text x="202.9" y="241.4" fill="#3c8cf2" stroke="#3c8cf2" textLength="21.7" lengthAdjust="spacingAndGlyphs">5500</text><text x="99.5" y="243.7" fill="#1e6eeb" stroke="#1e6eeb" textLength="21.7" lengthAdjust="spacingAndGlyphs">5400</text><text x="112.8" y="258.2" fill="#195fd7" stroke="#195fd7" textLength="21.7" lengthAdjust="spacingAndGlyphs">5300</text><text x="116.1" y="271.5" fill="#1450c8" stroke="#1450c8" textLength="21.7" lengthAdjust="spacingAndGlyphs">5200</text><text x="119.5" y="284.8" fill="#4a34c4" stroke="#4a34c4" textLength="21.7" lengthAdjust="spacingAndGlyphs">5100</text></g>
<rect x="0" y="0" width="320.6" height="297.3" fill="none" stroke="#000" stroke-width="1.5"/>
<path d="M-3.5 0H0M-3.5 19.8H0M-3.5 39.6H0M-3.5 59.5H0M-3.5 79.3H0M-3.5 99.1H0M-3.5 118.9H0M-3.5 138.7H0M-3.5 158.6H0M-3.5 178.4H0M-3.5 198.2H0M-3.5 218H0M-3.5 237.8H0M-3.5 257.7H0M-3.5 277.5H0M-3.5 297.3H0M4.5 297.3v3.8M40.1 297.3v3.8M75.7 297.3v3.8M111.3 297.3v3.8M147 297.3v3.8M182.6 297.3v3.8M218.2 297.3v3.8M253.8 297.3v3.8M289.5 297.3v3.8" stroke="#000" stroke-width="1.05" fill="none"/>
<g class="t" font-family="Liberation Sans, sans-serif" font-weight="bold" font-size="9.7" fill="#000" text-rendering="geometricPrecision"><text x="-21.3" y="3.8" textLength="16" lengthAdjust="spacingAndGlyphs">15N</text><text x="-21.3" y="23.6" textLength="16" lengthAdjust="spacingAndGlyphs">10N</text><text x="-16.4" y="43.4" textLength="11.1" lengthAdjust="spacingAndGlyphs">5N</text><text x="-17.9" y="63.2" textLength="12.6" lengthAdjust="spacingAndGlyphs">EQ</text><text x="-15.9" y="83" textLength="10.6" lengthAdjust="spacingAndGlyphs">5S</text><text x="-20.8" y="102.8" textLength="15.5" lengthAdjust="spacingAndGlyphs">10S</text><text x="-20.8" y="122.7" textLength="15.5" lengthAdjust="spacingAndGlyphs">15S</text><text x="-20.8" y="142.5" textLength="15.5" lengthAdjust="spacingAndGlyphs">20S</text><text x="-20.8" y="162.3" textLength="15.5" lengthAdjust="spacingAndGlyphs">25S</text><text x="-20.8" y="182.1" textLength="15.5" lengthAdjust="spacingAndGlyphs">30S</text><text x="-20.8" y="201.9" textLength="15.5" lengthAdjust="spacingAndGlyphs">35S</text><text x="-20.8" y="221.8" textLength="15.5" lengthAdjust="spacingAndGlyphs">40S</text><text x="-20.8" y="241.6" textLength="15.5" lengthAdjust="spacingAndGlyphs">45S</text><text x="-20.8" y="261.4" textLength="15.5" lengthAdjust="spacingAndGlyphs">50S</text><text x="-20.8" y="281.2" textLength="15.5" lengthAdjust="spacingAndGlyphs">55S</text><text x="-20.8" y="301.1" textLength="15.5" lengthAdjust="spacingAndGlyphs">60S</text><text x="-5.6" y="308.6" textLength="22" lengthAdjust="spacingAndGlyphs">100W</text><text x="32.4" y="308.6" textLength="17.1" lengthAdjust="spacingAndGlyphs">90W</text><text x="68" y="308.6" textLength="17.1" lengthAdjust="spacingAndGlyphs">80W</text><text x="103.7" y="308.6" textLength="17.1" lengthAdjust="spacingAndGlyphs">70W</text><text x="139.3" y="308.6" textLength="17.1" lengthAdjust="spacingAndGlyphs">60W</text><text x="174.9" y="308.6" textLength="17.1" lengthAdjust="spacingAndGlyphs">50W</text><text x="210.6" y="308.6" textLength="17.1" lengthAdjust="spacingAndGlyphs">40W</text><text x="246.2" y="308.6" textLength="17.1" lengthAdjust="spacingAndGlyphs">30W</text><text x="281.8" y="308.6" textLength="17.1" lengthAdjust="spacingAndGlyphs">20W</text></g>
<g aria-label="cluster: 1  membros: 5"><desc>cluster: 1  membros: 5</desc><path d="M52.7 -16.9L51.5 -18L50.3 -18.6L48.5 -18.6L47.3 -18L46.1 -16.9L45.5 -15.3L45.5 -14.2L46.1 -12.5L47.3 -11.4L48.5 -10.9L50.3 -10.9L51.5 -11.4L52.7 -12.5M57.6 -22.4L57.6 -10.9M63 -18.6L63 -13.1L63.6 -11.4L64.8 -10.9L66.6 -10.9L67.8 -11.4L69.6 -13.1M69.6 -18.6L69.6 -10.9M80.4 -16.9L79.8 -18L78 -18.6L76.2 -18.6L74.4 -18L73.8 -16.9L74.4 -15.8L75.6 -15.3L78.6 -14.7L79.8 -14.2L80.4 -13.1L80.4 -12.5L79.8 -11.4L78 -10.9L76.2 -10.9L74.4 -11.4L73.8 -12.5M85.2 -22.4L85.2 -13.1L85.8 -11.4L87 -10.9L88.2 -10.9M83.4 -18.6L87.6 -18.6M91.2 -15.3L98.4 -15.3L98.4 -16.4L97.8 -17.5L97.2 -18L96 -18.6L94.2 -18.6L93 -18L91.8 -16.9L91.2 -15.3L91.2 -14.2L91.8 -12.5L93 -11.4L94.2 -10.9L96 -10.9L97.2 -11.4L98.4 -12.5M102.6 -18.6L102.6 -10.9M102.6 -15.3L103.2 -16.9L104.4 -18L105.6 -18.6L107.4 -18.6M111.6 -18.6L111 -18L111.6 -17.5L112.2 -18L111.6 -18.6M111.6 -12L111 -11.4L111.6 -10.9L112.2 -11.4L111.6 -12M129.7 -20.2L130.9 -20.8L132.7 -22.4L132.7 -10.9M162.1 -18.6L162.1 -10.9M162.1 -16.4L163.9 -18L165.1 -18.6L166.9 -18.6L168.1 -18L168.7 -16.4L168.7 -10.9M168.7 -16.4L170.5 -18L171.7 -18.6L173.5 -18.6L174.7 -18L175.3 -16.4L175.3 -10.9M179.6 -15.3L186.8 -15.3L186.8 -16.4L186.2 -17.5L185.6 -18L184.4 -18.6L182.6 -18.6L181.4 -18L180.2 -16.9L179.6 -15.3L179.6 -14.2L180.2 -12.5L181.4 -11.4L182.6 -10.9L184.4 -10.9L185.6 -11.4L186.8 -12.5M191 -18.6L191 -10.9M191 -16.4L192.8 -18L194 -18.6L195.8 -18.6L197 -18L197.6 -16.4L197.6 -10.9M197.6 -16.4L199.4 -18L200.6 -18.6L202.4 -18.6L203.6 -18L204.2 -16.4L204.2 -10.9M209 -22.4L209 -10.9M209 -16.9L210.2 -18L211.4 -18.6L213.2 -18.6L214.4 -18L215.6 -16.9L216.2 -15.3L216.2 -14.2L215.6 -12.5L214.4 -11.4L213.2 -10.9L211.4 -10.9L210.2 -11.4L209 -12.5M220.4 -18.6L220.4 -10.9M220.4 -15.3L221 -16.9L222.2 -18L223.4 -18.6L225.2 -18.6M230.6 -18.6L229.4 -18L228.2 -16.9L227.6 -15.3L227.6 -14.2L228.2 -12.5L229.4 -11.4L230.6 -10.9L232.4 -10.9L233.6 -11.4L234.8 -12.5L235.4 -14.2L235.4 -15.3L234.8 -16.9L233.6 -18L232.4 -18.6L230.6 -18.6M245.7 -16.9L245.1 -18L243.3 -18.6L241.5 -18.6L239.7 -18L239.1 -16.9L239.7 -15.8L240.9 -15.3L243.9 -14.7L245.1 -14.2L245.7 -13.1L245.7 -12.5L245.1 -11.4L243.3 -10.9L241.5 -10.9L239.7 -11.4L239.1 -12.5M251.1 -18.6L250.5 -18L251.1 -17.5L251.7 -18L251.1 -18.6M251.1 -12L250.5 -11.4L251.1 -10.9L251.7 -11.4L251.1 -12M274.5 -22.4L268.5 -22.4L267.9 -17.5L268.5 -18L270.3 -18.6L272.1 -18.6L273.9 -18L275.1 -16.9L275.7 -15.3L275.7 -14.2L275.1 -12.5L273.9 -11.4L272.1 -10.9L270.3 -10.9L268.5 -11.4L267.9 -12L267.3 -13.1" fill="none" stroke="#000" stroke-width="1.45" stroke-linecap="round" stroke-linejoin="round"/></g>
</g>
<g transform="translate(522.2 139.2)">
<use href="#map"/>
<g clip-path="url(#pc)"><path d="M0.2 25.3C1.1 25.4 3.9 26 5.8 26.3C7.7 26.5 9.8 26.5 11.8 26.9C13.8 27.2 15.8 27.6 17.8 28.3C19.8 28.9 22 29.8 23.9 30.9C25.7 32 27.5 33.4 28.9 34.9C30.2 36.4 31.1 38.4 31.9 39.9C32.7 41.4 32.7 42.5 33.9 43.9C35.1 45.3 37.1 46.9 38.9 48.3C40.8 49.7 42.9 50.9 44.9 52.3C46.9 53.8 49.2 55.4 51 57C52.7 58.5 54.5 59.9 55.6 61.6C56.7 63.3 57.3 65.1 57.6 67C57.8 68.9 57.7 71.4 57 73C56.2 74.7 54.6 75.7 53 77C51.3 78.4 49 79.5 46.9 81.1C44.9 82.6 42.9 84.2 40.9 86.1C38.9 87.9 36.9 90.3 34.9 92.1C32.9 93.9 30.7 95.9 28.9 97.1C27 98.3 25.1 98.9 23.9 99.5C22.6 100.1 21.7 100.4 21.3 100.5M320.5 54C319.9 54.2 317.9 54.6 316.9 55.6C316 56.6 315 58.4 314.7 60C314.4 61.5 314.5 63.3 314.9 65C315.3 66.7 316 68.7 316.9 70C317.9 71.4 319.9 72.5 320.5 73M0.2 153.2C1.5 153.1 5.2 152.7 7.8 152.4C10.4 152.1 13.2 151.2 15.8 151.2C18.5 151.2 20.5 151.5 23.9 152.2C27.2 152.9 31.9 154.2 35.9 155.2C39.9 156.2 43.9 157.5 47.9 158.4C52 159.3 56 160.2 60 160.8C64 161.5 68 161.9 72 162.4C76 162.9 80.1 163.4 84.1 163.8C88.1 164.2 92.8 164.5 96.1 164.8C99.5 165.2 102.1 165.4 104.1 165.8C106.2 166.2 107.8 167 108.6 167.2M131.2 168.8C132.7 169.5 137.1 171.5 140.3 172.9C143.5 174.3 145.2 175.6 150.3 177.3C155.4 179 165.4 181.6 170.8 182.9C176.2 184.2 178.8 184.4 182.8 184.9C186.9 185.4 190.9 185.6 194.9 185.9C198.9 186.2 202.9 186.3 206.9 186.5C210.9 186.7 215 186.7 219 186.9C223 187.1 227 187.3 231 187.5C235 187.7 239 188 243.1 188.3C247.1 188.6 251.1 189 255.1 189.3C259.1 189.6 263.1 189.9 267.1 190.1C271.2 190.3 275.2 190.6 279.2 190.5C283.2 190.4 287.6 190 291.2 189.5C294.9 189 298.1 188.6 301.3 187.5C304.4 186.5 307.8 184.7 310.3 183.3C312.8 181.9 314.6 180.3 316.3 178.9C318 177.5 319.8 175.5 320.5 174.9" fill="none" stroke="#6cf06a" stroke-width="1.7" stroke-linecap="round" stroke-linejoin="round"/><path d="M198 161.5C198.9 161.3 201.8 160.9 203.7 160.3C205.6 159.8 207.6 159.1 209.3 158.2C211.1 157.3 212.9 156 214.3 155C215.7 153.9 216.8 152.7 217.6 151.8C218.3 151 218.9 150.5 219 149.7C219 148.9 218.6 147.9 217.8 146.9C217.1 145.8 215.6 144.6 214.3 143.3C213 142 211.6 140.6 210 139.1C208.5 137.6 206.9 135.7 205.1 134.1C203.3 132.6 201.3 131 199.4 129.9C197.5 128.8 195.4 128 193.8 127.5C192.1 126.9 191.2 126.6 189.5 126.8C187.9 126.9 185.7 127.9 183.8 128.2C181.9 128.5 180.1 128.6 178.2 128.5C176.3 128.3 174.3 127.3 172.5 127.5C170.7 127.6 169.2 128.2 167.5 129.2C165.9 130.2 164.1 131.9 162.6 133.4C161 135 159.3 136.7 158.3 138.4C157.4 140 156.9 141.8 156.9 143.3C156.9 144.9 157.5 146.2 158.3 147.6C159.2 149 160.5 150.4 161.9 151.8C163.3 153.3 165.2 154.9 166.8 156.1C168.5 157.3 170.3 158.4 171.8 159.2C173.3 160 175.3 160.7 176 161M221.8 150.1C221.8 149.4 223.7 148.5 224.9 147.9C226.2 147.3 227.8 146.5 229.2 146.5C230.6 146.5 232 147.2 233.4 147.9C234.8 148.5 236.7 149.6 237.7 150.4C238.7 151.3 239.4 152.1 239.4 153C239.4 153.8 238.7 154.9 237.7 155.4C236.7 155.9 234.8 156.2 233.4 156.1C232 156 230.6 155.5 229.2 155C227.8 154.4 226.2 153.3 224.9 152.5C223.7 151.7 221.8 150.9 221.8 150.1Z" fill="none" stroke="#ffa000" stroke-width="1.7" stroke-linecap="round" stroke-linejoin="round"/><path d="M0.2 180.9C2.1 180.8 7.9 180.6 11.8 180.5C15.8 180.4 19.8 180.4 23.9 180.3C27.9 180.2 31.9 180 35.9 179.9C39.9 179.8 43.9 180 47.9 179.9C52 179.8 56 179.6 60 179.5C64 179.4 68 179.2 72 179.3C76 179.4 80.1 179.5 84.1 179.9C88.1 180.3 92.6 180.9 96.1 181.5C99.6 182.1 103.6 183.2 105.2 183.5M128.2 188.9C129.6 189.3 133.2 190.5 136.3 191.3C139.3 192.2 143 193.2 146.3 193.9C149.6 194.6 151.6 195.1 156.3 195.5C161.1 196 169.7 196.3 174.8 196.5C179.9 196.8 182.8 197 186.9 197.1C190.9 197.3 194.9 197.3 198.9 197.3C202.9 197.4 206.9 197.3 210.9 197.3C215 197.4 219 197.4 223 197.6C227 197.7 231 197.9 235 198.2C239 198.5 243.1 198.9 247.1 199.4C251.1 199.8 255.1 200.4 259.1 201C263.1 201.6 267.1 202.4 271.2 203C275.2 203.6 279.2 204 283.2 204.6C287.2 205.1 291.2 205.7 295.2 206.2C299.3 206.6 303.1 207 307.3 207.4C311.5 207.8 318.3 208.4 320.5 208.6" fill="none" stroke="#37d23c" stroke-width="1.7" stroke-linecap="round" stroke-linejoin="round"/><path d="M0.2 215.4C1.5 214.8 5.2 213.1 7.8 212C10.4 210.9 13.2 209.8 15.8 209C18.5 208.2 20.7 207.6 23.9 207C27 206.4 33.1 205.8 34.9 205.6M58 205.4C59.7 205.4 64.3 205.2 68 205.4C71.7 205.5 76 206 80.1 206.4C84.1 206.7 88.1 207.1 92.1 207.6C96.1 208.1 100.1 208.8 104.1 209.4C108.2 210 112.2 210.6 116.2 211C120.2 211.4 124.2 211.4 128.2 211.6C132.2 211.8 136.3 212.2 140.3 212.4C144.3 212.6 146.6 212.8 152.3 213C158.1 213.2 169.1 213.5 174.8 213.6C180.6 213.7 182.8 213.6 186.9 213.6C190.9 213.6 195.7 213.5 198.9 213.4C202.1 213.3 204.8 213.1 205.9 213M228.6 213C230.4 213.2 235.3 213.4 239 214C242.8 214.6 247.1 215.5 251.1 216.4C255.1 217.3 259.1 218.4 263.1 219.4C267.1 220.5 271.2 221.6 275.2 222.6C279.2 223.6 283.2 224.6 287.2 225.4C291.2 226.3 295.2 227 299.3 227.7C303.3 228.3 307.8 229 311.3 229.5C314.8 229.9 319 230.3 320.5 230.5" fill="none" stroke="#1eb41e" stroke-width="1.7" stroke-linecap="round" stroke-linejoin="round"/><path d="M0.2 238.1C2.1 237.5 7.9 235.7 11.8 234.5C15.8 233.2 19.8 231.9 23.9 230.7C27.9 229.4 31.9 228.1 35.9 227.1C39.9 226 43.9 225.2 47.9 224.4C52 223.7 56 222.9 60 222.4C64 221.9 68 221.7 72 221.4C76 221.2 80.1 220.9 84.1 220.8C88.1 220.8 92.1 220.9 96.1 221C100.1 221.1 104.1 221.3 108.2 221.4C112.2 221.5 116.2 221.5 120.2 221.6C124.2 221.7 128.2 221.9 132.2 222C136.3 222.2 140.3 222.4 144.3 222.6C148.3 222.9 151.2 223.2 156.3 223.6C161.4 224 169.7 224.7 174.8 225C179.9 225.3 182.8 225.4 186.9 225.4C190.9 225.5 195.7 225.3 198.9 225.2C202.1 225.2 204.8 225.1 205.9 225M228.6 225C230.4 225.2 235.3 225.4 239 226.1C242.8 226.7 247.1 227.7 251.1 228.7C255.1 229.7 259.1 231 263.1 232.1C267.1 233.1 271.2 234.1 275.2 235.1C279.2 236 283.2 236.9 287.2 237.7C291.2 238.5 295.2 239.4 299.3 240.1C303.3 240.8 307.8 241.5 311.3 242.1C314.8 242.7 319 243.3 320.5 243.5" fill="none" stroke="#78b9fa" stroke-width="1.7" stroke-linecap="round" stroke-linejoin="round"/><path d="M0.2 254.2C2.1 253.5 7.9 251.7 11.8 250.5C15.8 249.4 19.8 248.1 23.9 247.1C27.9 246.2 31.9 245.4 35.9 244.7C39.9 244 43.9 243.6 47.9 243.1C52 242.6 56 242.1 60 241.5C64 240.9 68 240.3 72 239.5C76 238.7 80.1 237.5 84.1 236.7C88.1 235.9 92.1 235.1 96.1 234.5C100.1 233.8 103.9 233.2 108.2 232.7C112.4 232.2 119.5 231.7 121.8 231.5M144.7 232.1C146 232.2 147.3 232.5 152.3 233.1C157.3 233.6 169.1 235 174.8 235.5C180.6 236 182.8 236 186.9 236.1C190.9 236.2 194.9 236.3 198.9 236.3C202.9 236.3 206.9 236.2 210.9 236.3C215 236.4 219 236.5 223 236.7C227 236.9 231 237.2 235 237.7C239 238.2 243.1 238.9 247.1 239.7C251.1 240.5 255.1 241.6 259.1 242.5C263.1 243.4 267.1 244.2 271.2 245.1C275.2 246 279.2 246.9 283.2 247.7C287.2 248.6 291.2 249.4 295.2 250.1C299.3 250.9 303.1 251.5 307.3 252.1C311.5 252.8 318.3 253.8 320.5 254.2" fill="none" stroke="#3c8cf2" stroke-width="1.7" stroke-linecap="round" stroke-linejoin="round"/><path d="M0.2 267.8C2.1 267.1 7.9 265 11.8 263.6C15.8 262.2 19.8 260.6 23.9 259.6C27.9 258.5 31.9 257.8 35.9 257.2C39.9 256.5 43.9 256.2 47.9 255.8C52 255.4 56 255 60 254.8C64 254.5 68 254.4 72 254.2C76 253.9 80.1 253.7 84.1 253.1C88.1 252.6 92.1 251.8 96.1 250.7C100.1 249.6 104.1 247.9 108.2 246.5C112.2 245.2 116.8 243.5 120.2 242.5C123.6 241.5 127.4 240.8 128.8 240.5M151.9 241.1C155.7 241.8 169 244.6 174.8 245.5C180.6 246.5 182.8 246.4 186.9 246.7C190.9 247.1 194.9 247.3 198.9 247.5C202.9 247.8 206.9 247.9 210.9 248.1C215 248.4 219 248.7 223 249.1C227 249.5 231 250 235 250.5C239 251.1 243.1 251.9 247.1 252.5C251.1 253.2 255.1 253.9 259.1 254.6C263.1 255.2 267.1 256 271.2 256.6C275.2 257.2 279.2 257.7 283.2 258.2C287.2 258.7 291.2 259.1 295.2 259.6C299.3 260 303.1 260.3 307.3 260.8C311.5 261.3 318.3 262.3 320.5 262.6" fill="none" stroke="#1e6eeb" stroke-width="1.7" stroke-linecap="round" stroke-linejoin="round"/><path d="M0.2 280.6C2.1 279.8 7.9 277.2 11.8 275.6C15.8 274.1 19.8 272.4 23.9 271.2C27.9 270 31.9 268.9 35.9 268.2C39.9 267.5 43.9 267.1 47.9 266.8C52 266.5 56 266.3 60 266.2C64 266.1 68 266.3 72 266.2C76 266.1 80.1 266 84.1 265.6C88.1 265.2 92.1 264.5 96.1 263.6C100.1 262.7 104.1 261.4 108.2 260.2C112.2 258.9 116.3 257.5 120.2 256.2C124.2 254.8 129.9 252.8 131.8 252.1M154.9 252.5C158.2 253.1 169.5 255.3 174.8 256.2C180.1 257 182.8 257.3 186.9 257.8C190.9 258.3 194.9 258.7 198.9 259.2C202.9 259.6 206.9 260.1 210.9 260.6C215 261 219 261.3 223 261.8C227 262.2 231 262.7 235 263.2C239 263.7 243.1 264.3 247.1 264.8C251.1 265.3 255.1 265.7 259.1 266.2C263.1 266.7 267.1 267.2 271.2 267.6C275.2 268 279.2 268.4 283.2 268.8C287.2 269.2 291.2 269.4 295.2 269.8C299.3 270.2 303.1 270.6 307.3 271.2C311.5 271.8 318.3 273.2 320.5 273.6" fill="none" stroke="#195fd7" stroke-width="1.7" stroke-linecap="round" stroke-linejoin="round"/><path d="M0.2 294.3C2.1 293.3 7.9 290.3 11.8 288.3C15.8 286.3 19.8 283.9 23.9 282.2C27.9 280.6 31.9 279.5 35.9 278.6C39.9 277.8 43.9 277.5 47.9 277.2C52 277 56 277.2 60 277.2C64 277.3 68 277.6 72 277.6C76 277.6 80.1 277.6 84.1 277.2C88.1 276.9 92.1 276.4 96.1 275.6C100.1 274.9 104.1 273.7 108.2 272.6C112.2 271.5 116.2 270.3 120.2 269.2C124.2 268.1 129.7 266.5 132.2 265.8C134.8 265.1 134.8 265.1 135.3 265M157.8 264.8C158.4 264.9 158.9 265 161.8 265.6C164.6 266.2 170.6 267.4 174.8 268.2C179 269 182.8 269.6 186.9 270.2C190.9 270.8 194.9 271.3 198.9 271.8C202.9 272.3 206.9 272.7 210.9 273.2C215 273.7 219 274.2 223 274.6C227 275.1 231 275.4 235 275.8C239 276.3 243.1 276.8 247.1 277.2C251.1 277.6 255.1 277.9 259.1 278.2C263.1 278.6 267.1 279 271.2 279.2C275.2 279.5 279.2 279.6 283.2 279.8C287.2 280.1 291.2 280.3 295.2 280.8C299.3 281.3 303.1 281.9 307.3 282.9C311.5 283.8 318.3 286 320.5 286.7" fill="none" stroke="#1450c8" stroke-width="1.7" stroke-linecap="round" stroke-linejoin="round"/><path d="M32.9 296.7C34.4 296 38.7 293.7 41.9 292.7C45.1 291.7 48.3 291.1 52 290.7C55.6 290.2 60 290 64 289.9C68 289.7 72 290.1 76 289.9C80.1 289.7 84.1 289.3 88.1 288.7C92.1 288.1 96.1 287.2 100.1 286.3C104.1 285.4 108.2 284.3 112.2 283.3C116.2 282.2 120.2 281.1 124.2 280.2C128.2 279.3 133.2 278.3 136.3 277.8C139.3 277.3 141.3 277.3 142.3 277.2M164.8 277.2C166.5 277.5 171.1 278.1 174.8 278.6C178.5 279.1 182.8 279.7 186.9 280.2C190.9 280.8 194.9 281.3 198.9 281.8C202.9 282.4 206.9 283.1 210.9 283.7C215 284.2 219 284.7 223 285.3C227 285.8 231 286.4 235 286.9C239 287.4 243.1 287.8 247.1 288.3C251.1 288.7 255.1 289.2 259.1 289.7C263.1 290.2 267.1 290.7 271.2 291.3C275.2 291.9 279.9 292.6 283.2 293.3C286.5 294 289.2 294.7 291.2 295.3C293.2 295.9 294.6 296.5 295.2 296.7" fill="none" stroke="#4a34c4" stroke-width="1.7" stroke-linecap="round" stroke-linejoin="round"/><path d="M117.2 296.7C119 296 124.4 293.8 128.2 292.7C132.1 291.6 136.3 290.8 140.3 290.3C144.3 289.7 146.6 289.3 152.3 289.3C158.1 289.3 169.1 289.9 174.8 290.3C180.6 290.7 182.8 291.1 186.9 291.7C190.9 292.3 195.2 293.1 198.9 293.7C202.6 294.3 206.3 294.8 208.9 295.3C211.6 295.8 214 296.5 215 296.7" fill="none" stroke="#5c48d2" stroke-width="1.7" stroke-linecap="round" stroke-linejoin="round"/></g><g class="t" font-family="Liberation Sans, sans-serif" font-weight="bold" font-size="10" stroke-width="0.3" text-rendering="geometricPrecision"><text x="-0.7" y="104.9" fill="#6cf06a" stroke="#6cf06a" textLength="21.7" lengthAdjust="spacingAndGlyphs">5840</text><text x="176" y="165.5" fill="#ffa000" stroke="#ffa000" textLength="21.7" lengthAdjust="spacingAndGlyphs">5880</text><text x="109.1" y="170.8" fill="#6cf06a" stroke="#6cf06a" textLength="21.7" lengthAdjust="spacingAndGlyphs">5840</text><text x="105.9" y="188" fill="#37d23c" stroke="#37d23c" textLength="21.7" lengthAdjust="spacingAndGlyphs">5800</text><text x="35.6" y="209" fill="#1eb41e" stroke="#1eb41e" textLength="21.7" lengthAdjust="spacingAndGlyphs">5700</text><text x="206.3" y="216.5" fill="#1eb41e" stroke="#1eb41e" textLength="21.7" lengthAdjust="spacingAndGlyphs">5700</text><text x="206.3" y="228.5" fill="#78b9fa" stroke="#78b9fa" textLength="21.7" lengthAdjust="spacingAndGlyphs">5600</text><text x="122.6" y="234.7" fill="#3c8cf2" stroke="#3c8cf2" textLength="21.7" lengthAdjust="spacingAndGlyphs">5500</text><text x="129.6" y="243.7" fill="#1e6eeb" stroke="#1e6eeb" textLength="21.7" lengthAdjust="spacingAndGlyphs">5400</text><text x="132.6" y="254.7" fill="#195fd7" stroke="#195fd7" textLength="21.7" lengthAdjust="spacingAndGlyphs">5300</text><text x="135.7" y="267.8" fill="#1450c8" stroke="#1450c8" textLength="21.7" lengthAdjust="spacingAndGlyphs">5200</text><text x="142.7" y="280.2" fill="#4a34c4" stroke="#4a34c4" textLength="21.7" lengthAdjust="spacingAndGlyphs">5100</text></g>
<rect x="0" y="0" width="320.6" height="297.3" fill="none" stroke="#000" stroke-width="1.5"/>
<path d="M-3.5 0H0M-3.5 19.8H0M-3.5 39.6H0M-3.5 59.5H0M-3.5 79.3H0M-3.5 99.1H0M-3.5 118.9H0M-3.5 138.7H0M-3.5 158.6H0M-3.5 178.4H0M-3.5 198.2H0M-3.5 218H0M-3.5 237.8H0M-3.5 257.7H0M-3.5 277.5H0M-3.5 297.3H0M4.5 297.3v3.8M40.1 297.3v3.8M75.7 297.3v3.8M111.3 297.3v3.8M147 297.3v3.8M182.6 297.3v3.8M218.2 297.3v3.8M253.8 297.3v3.8M289.5 297.3v3.8" stroke="#000" stroke-width="1.05" fill="none"/>
<g class="t" font-family="Liberation Sans, sans-serif" font-weight="bold" font-size="9.7" fill="#000" text-rendering="geometricPrecision"><text x="-21.3" y="3.8" textLength="16" lengthAdjust="spacingAndGlyphs">15N</text><text x="-21.3" y="23.6" textLength="16" lengthAdjust="spacingAndGlyphs">10N</text><text x="-16.4" y="43.4" textLength="11.1" lengthAdjust="spacingAndGlyphs">5N</text><text x="-17.9" y="63.2" textLength="12.6" lengthAdjust="spacingAndGlyphs">EQ</text><text x="-15.9" y="83" textLength="10.6" lengthAdjust="spacingAndGlyphs">5S</text><text x="-20.8" y="102.8" textLength="15.5" lengthAdjust="spacingAndGlyphs">10S</text><text x="-20.8" y="122.7" textLength="15.5" lengthAdjust="spacingAndGlyphs">15S</text><text x="-20.8" y="142.5" textLength="15.5" lengthAdjust="spacingAndGlyphs">20S</text><text x="-20.8" y="162.3" textLength="15.5" lengthAdjust="spacingAndGlyphs">25S</text><text x="-20.8" y="182.1" textLength="15.5" lengthAdjust="spacingAndGlyphs">30S</text><text x="-20.8" y="201.9" textLength="15.5" lengthAdjust="spacingAndGlyphs">35S</text><text x="-20.8" y="221.8" textLength="15.5" lengthAdjust="spacingAndGlyphs">40S</text><text x="-20.8" y="241.6" textLength="15.5" lengthAdjust="spacingAndGlyphs">45S</text><text x="-20.8" y="261.4" textLength="15.5" lengthAdjust="spacingAndGlyphs">50S</text><text x="-20.8" y="281.2" textLength="15.5" lengthAdjust="spacingAndGlyphs">55S</text><text x="-20.8" y="301.1" textLength="15.5" lengthAdjust="spacingAndGlyphs">60S</text><text x="-5.6" y="308.6" textLength="22" lengthAdjust="spacingAndGlyphs">100W</text><text x="32.4" y="308.6" textLength="17.1" lengthAdjust="spacingAndGlyphs">90W</text><text x="68" y="308.6" textLength="17.1" lengthAdjust="spacingAndGlyphs">80W</text><text x="103.7" y="308.6" textLength="17.1" lengthAdjust="spacingAndGlyphs">70W</text><text x="139.3" y="308.6" textLength="17.1" lengthAdjust="spacingAndGlyphs">60W</text><text x="174.9" y="308.6" textLength="17.1" lengthAdjust="spacingAndGlyphs">50W</text><text x="210.6" y="308.6" textLength="17.1" lengthAdjust="spacingAndGlyphs">40W</text><text x="246.2" y="308.6" textLength="17.1" lengthAdjust="spacingAndGlyphs">30W</text><text x="281.8" y="308.6" textLength="17.1" lengthAdjust="spacingAndGlyphs">20W</text></g>
<g aria-label="cluster: 2  membros: 3"><desc>cluster: 2  membros: 3</desc><path d="M52.7 -16.9L51.5 -18L50.3 -18.6L48.5 -18.6L47.3 -18L46.1 -16.9L45.5 -15.3L45.5 -14.2L46.1 -12.5L47.3 -11.4L48.5 -10.9L50.3 -10.9L51.5 -11.4L52.7 -12.5M57.6 -22.4L57.6 -10.9M63 -18.6L63 -13.1L63.6 -11.4L64.8 -10.9L66.6 -10.9L67.8 -11.4L69.6 -13.1M69.6 -18.6L69.6 -10.9M80.4 -16.9L79.8 -18L78 -18.6L76.2 -18.6L74.4 -18L73.8 -16.9L74.4 -15.8L75.6 -15.3L78.6 -14.7L79.8 -14.2L80.4 -13.1L80.4 -12.5L79.8 -11.4L78 -10.9L76.2 -10.9L74.4 -11.4L73.8 -12.5M85.2 -22.4L85.2 -13.1L85.8 -11.4L87 -10.9L88.2 -10.9M83.4 -18.6L87.6 -18.6M91.2 -15.3L98.4 -15.3L98.4 -16.4L97.8 -17.5L97.2 -18L96 -18.6L94.2 -18.6L93 -18L91.8 -16.9L91.2 -15.3L91.2 -14.2L91.8 -12.5L93 -11.4L94.2 -10.9L96 -10.9L97.2 -11.4L98.4 -12.5M102.6 -18.6L102.6 -10.9M102.6 -15.3L103.2 -16.9L104.4 -18L105.6 -18.6L107.4 -18.6M111.6 -18.6L111 -18L111.6 -17.5L112.2 -18L111.6 -18.6M111.6 -12L111 -11.4L111.6 -10.9L112.2 -11.4L111.6 -12M128.5 -19.7L128.5 -20.2L129.1 -21.3L129.7 -21.9L130.9 -22.4L133.3 -22.4L134.5 -21.9L135.1 -21.3L135.7 -20.2L135.7 -19.1L135.1 -18L133.9 -16.4L127.9 -10.9L136.3 -10.9M162.1 -18.6L162.1 -10.9M162.1 -16.4L163.9 -18L165.1 -18.6L166.9 -18.6L168.1 -18L168.7 -16.4L168.7 -10.9M168.7 -16.4L170.5 -18L171.7 -18.6L173.5 -18.6L174.7 -18L175.3 -16.4L175.3 -10.9M179.6 -15.3L186.8 -15.3L186.8 -16.4L186.2 -17.5L185.6 -18L184.4 -18.6L182.6 -18.6L181.4 -18L180.2 -16.9L179.6 -15.3L179.6 -14.2L180.2 -12.5L181.4 -11.4L182.6 -10.9L184.4 -10.9L185.6 -11.4L186.8 -12.5M191 -18.6L191 -10.9M191 -16.4L192.8 -18L194 -18.6L195.8 -18.6L197 -18L197.6 -16.4L197.6 -10.9M197.6 -16.4L199.4 -18L200.6 -18.6L202.4 -18.6L203.6 -18L204.2 -16.4L204.2 -10.9M209 -22.4L209 -10.9M209 -16.9L210.2 -18L211.4 -18.6L213.2 -18.6L214.4 -18L215.6 -16.9L216.2 -15.3L216.2 -14.2L215.6 -12.5L214.4 -11.4L213.2 -10.9L211.4 -10.9L210.2 -11.4L209 -12.5M220.4 -18.6L220.4 -10.9M220.4 -15.3L221 -16.9L222.2 -18L223.4 -18.6L225.2 -18.6M230.6 -18.6L229.4 -18L228.2 -16.9L227.6 -15.3L227.6 -14.2L228.2 -12.5L229.4 -11.4L230.6 -10.9L232.4 -10.9L233.6 -11.4L234.8 -12.5L235.4 -14.2L235.4 -15.3L234.8 -16.9L233.6 -18L232.4 -18.6L230.6 -18.6M245.7 -16.9L245.1 -18L243.3 -18.6L241.5 -18.6L239.7 -18L239.1 -16.9L239.7 -15.8L240.9 -15.3L243.9 -14.7L245.1 -14.2L245.7 -13.1L245.7 -12.5L245.1 -11.4L243.3 -10.9L241.5 -10.9L239.7 -11.4L239.1 -12.5M251.1 -18.6L250.5 -18L251.1 -17.5L251.7 -18L251.1 -18.6M251.1 -12L250.5 -11.4L251.1 -10.9L251.7 -11.4L251.1 -12M268.5 -22.4L275.1 -22.4L271.5 -18L273.3 -18L274.5 -17.5L275.1 -16.9L275.7 -15.3L275.7 -14.2L275.1 -12.5L273.9 -11.4L272.1 -10.9L270.3 -10.9L268.5 -11.4L267.9 -12L267.3 -13.1" fill="none" stroke="#000" stroke-width="1.45" stroke-linecap="round" stroke-linejoin="round"/></g>
</g>
<g transform="translate(63.3 493.6)">
<use href="#map"/>
<g clip-path="url(#pc)"><path d="M0.1 36.9C1.1 36.9 4.1 37 5.7 36.5C7.4 36 8.4 34.9 9.8 33.9C11.1 32.9 12.4 31.2 13.8 30.5C15.1 29.9 16 30 17.8 30.1C19.6 30.3 22.5 30.8 24.8 31.5C27.2 32.3 29.5 33.2 31.8 34.5C34.2 35.9 36.5 37.8 38.9 39.6C41.2 41.3 43.9 43.5 45.9 45.2C47.9 46.8 49.6 47.9 50.9 49.6C52.2 51.3 53.3 53.3 53.9 55.6C54.6 58 54.8 60.6 54.9 63.6C55.1 66.7 55 70.7 54.9 73.7C54.8 76.7 54.7 79 54.3 81.7C54 84.4 53.5 87.6 52.9 89.7C52.3 91.9 51.7 93.4 50.9 94.8C50.1 96.1 48.4 97.3 47.9 97.8M25.8 98.2C25.2 97.7 23.3 96.1 21.8 95.2C20.3 94.2 18.5 93 16.8 92.3C15.1 91.7 13.6 91.2 11.8 91.1C9.9 91 7.7 91.3 5.7 91.7C3.8 92.2 1.1 93.4 0.1 93.7M197.8 0.4C199 0.9 202 2.7 204.9 3.4C207.7 4.2 211.6 4.9 214.9 5C218.3 5.2 221.8 4.9 224.9 4.4C228.1 4 231.6 3.1 234 2.4C236.3 1.8 238.2 0.8 239 0.4M305.2 0.4C305.4 1.6 305.6 5.1 306.2 7.4C306.9 9.8 308.1 12.1 309.2 14.5C310.4 16.8 312.2 19.3 313.3 21.5C314.3 23.7 315.1 25.3 315.3 27.5C315.4 29.7 314.9 32.4 314.3 34.5C313.6 36.7 312.8 39.1 311.2 40.6C309.7 42 307.6 42.5 305.2 43.2C302.9 43.8 299.7 43.8 297.2 44.6C294.7 45.4 292.2 46.6 290.2 48C288.2 49.3 286.3 50.8 285.2 52.6C284 54.4 283.4 56.6 283.1 58.6C282.9 60.6 282.9 63.1 283.5 64.6C284.2 66.2 285.6 67 287.2 68.1C288.8 69.2 291 70 293.2 71.3C295.4 72.5 298 73.9 300.2 75.7C302.4 77.4 304.6 79.5 306.2 81.7C307.9 83.9 308.7 86.6 310.2 88.7C311.7 90.9 313.6 93.2 315.3 94.8C316.9 96.3 319.4 97.3 320.3 97.8M0.1 149.8C2.1 150.2 7.8 151.2 11.8 151.8C15.7 152.4 20.5 153.1 23.8 153.4C27.2 153.8 28.5 154 31.8 153.8C35.2 153.7 39.9 153.1 43.9 152.4C47.9 151.8 51.9 150.9 55.9 150C59.9 149.2 64.3 148.3 68 147.4C71.6 146.6 75.6 145.4 78 144.8C80.4 144.2 81.7 144 82.4 143.8M105.1 143.4C106.3 144.2 109.6 146.7 112.1 148.4C114.6 150.2 117.8 153.1 120.2 154C122.5 155 124.2 153.5 126.2 154C128.2 154.6 129.5 155.9 132.2 157.5C134.9 159 138.9 161.3 142.2 163.5C145.6 165.7 147.8 167.7 152.3 170.5C156.7 173.3 164.7 178.3 168.7 180.5C172.8 182.8 173.8 183.1 176.8 184.2C179.8 185.2 183.1 186.2 186.8 187C190.5 187.8 194.8 188.4 198.8 189C202.9 189.5 206.9 189.8 210.9 190.2C214.9 190.5 219.3 190.8 222.9 191C226.5 191.2 231 191.3 232.6 191.4M255.4 190.6C257.1 190.3 261.8 189.8 265.1 189.2C268.4 188.6 271.8 187.9 275.1 187C278.5 186 282.3 184.8 285.2 183.6C288 182.3 290.4 181.2 292.2 179.5C293.9 177.9 295.3 175.7 295.6 173.5C295.9 171.3 295 168.8 294.2 166.5C293.4 164.2 291.8 161.8 290.8 159.5C289.8 157.1 288.3 154.4 288.2 152.4C288.1 150.4 289 148.7 290.2 147.4C291.3 146.2 293.2 146.1 295.2 145C297.2 143.9 299.7 141.9 302.2 141C304.7 140.1 307.2 139.9 310.2 139.6C313.3 139.3 318.6 139.4 320.3 139.4" fill="none" stroke="#6cf06a" stroke-width="1.7" stroke-linecap="round" stroke-linejoin="round"/><path d="M171.8 149.9C171.9 149.2 172.9 148.1 173.5 148C174.2 147.8 175 148.4 175.7 148.9C176.3 149.5 177.1 150.2 177.5 151.1C177.9 151.9 178.1 153.4 177.8 153.9C177.5 154.4 176.4 154.4 175.7 154.2C174.9 154 173.9 153.2 173.3 152.5C172.6 151.8 171.8 150.7 171.8 149.9Z" fill="none" stroke="#ffa000" stroke-width="1.7" stroke-linecap="round" stroke-linejoin="round"/><path d="M0.1 172.9C2.1 172.6 7.8 171.7 11.8 171.1C15.7 170.5 19.8 169.9 23.8 169.5C27.8 169.1 31.8 168.8 35.9 168.5C39.9 168.2 43.9 168.2 47.9 167.9C51.9 167.6 55.9 167 59.9 166.5C64 166 68.3 165.3 72 164.9C75.7 164.5 79.2 164.1 82 163.9C84.9 163.6 87.9 163.5 89 163.5M108.1 168.9C108.8 169.8 110.5 172.9 112.1 174.1C113.8 175.3 116.1 174.9 118.1 176.1C120.2 177.4 121.8 179.7 124.2 181.5C126.5 183.4 129.2 185.3 132.2 187C135.2 188.6 138.9 190.4 142.2 191.6C145.6 192.8 147.2 193.4 152.3 194.2C157.4 195 167.3 195.9 172.8 196.6C178.2 197.3 180.8 197.8 184.8 198.2C188.8 198.6 192.8 198.9 196.8 199.2C200.9 199.5 204.9 199.9 208.9 200.2C212.9 200.5 216.9 200.9 220.9 201.2C224.9 201.5 229 201.9 233 202.2C237 202.5 241 202.8 245 203C249 203.3 253 203.6 257.1 203.8C261.1 204.1 265.1 204.3 269.1 204.4C273.1 204.5 277.1 204.6 281.1 204.4C285.2 204.2 289.2 203.8 293.2 203.2C297.2 202.7 301.5 201.9 305.2 201C308.9 200.2 312.9 198.9 315.3 198.2C317.7 197.5 318.9 196.9 319.7 196.6" fill="none" stroke="#37d23c" stroke-width="1.7" stroke-linecap="round" stroke-linejoin="round"/><path d="M0.1 209.2C1.4 208.4 5.1 205.6 7.8 204C10.4 202.4 13.1 200.7 15.8 199.6C18.5 198.5 21.1 197.8 23.8 197.2C26.5 196.6 30.5 196.2 31.8 196M54.9 196C56.4 196.2 60.4 196.3 64 197C67.5 197.7 72 198.9 76 200C80 201.1 84 202.4 88 203.6C92.1 204.8 96.1 206.1 100.1 207.2C104.1 208.3 108.1 209.3 112.1 210.2C116.1 211.1 120.2 212 124.2 212.7C128.2 213.3 132.2 213.9 136.2 214.3C140.2 214.7 142.2 214.9 148.3 215.1C154.3 215.2 166.6 215.3 172.8 215.3C178.9 215.3 183.3 215.1 185.4 215.1M208.5 215.1C210.6 215.2 216.8 215.6 220.9 216.1C225 216.5 229 217.1 233 217.7C237 218.3 241 218.9 245 219.7C249 220.4 253 221.3 257.1 222.1C261.1 222.9 265.1 223.6 269.1 224.3C273.1 225 277.1 225.7 281.1 226.3C285.2 226.9 289.2 227.3 293.2 227.7C297.2 228.1 300.8 228.5 305.2 228.7C309.6 228.9 317.3 228.9 319.7 228.9" fill="none" stroke="#1eb41e" stroke-width="1.7" stroke-linecap="round" stroke-linejoin="round"/><path d="M0.1 240.2C1.4 239.2 5.1 236.8 7.8 234.7C10.4 232.7 13.1 230 15.8 227.7C18.5 225.4 21.1 222.7 23.8 220.7C26.5 218.7 29.2 216.9 31.8 215.7C34.5 214.4 36.9 213.6 39.9 213.1C42.9 212.5 46.6 212.3 49.9 212.3C53.3 212.3 56.3 212.6 59.9 213.1C63.6 213.5 68 214.2 72 215.1C76 215.9 80 217.1 84 218.1C88 219.1 92.1 220.1 96.1 221.1C100.1 222 104.1 223 108.1 223.7C112.1 224.4 116.1 224.9 120.2 225.3C124.2 225.7 128.2 226.1 132.2 226.3C136.2 226.5 137.5 226.7 144.2 226.7C151 226.7 166.4 226.4 172.8 226.3C179.1 226.2 180.8 226.1 182.4 226.1M205.5 226.1C207.4 226.3 213 226.8 216.9 227.3C220.8 227.8 224.9 228.6 229 229.3C233 230 237 230.9 241 231.7C245 232.6 249 233.5 253 234.3C257.1 235.2 261.1 235.9 265.1 236.7C269.1 237.5 273.1 238.4 277.1 239.1C281.1 239.9 285.2 240.7 289.2 241.4C293.2 242.1 297.2 242.7 301.2 243.4C305.2 244 310.2 244.7 313.3 245.2C316.3 245.6 318.6 246 319.7 246.2" fill="none" stroke="#78b9fa" stroke-width="1.7" stroke-linecap="round" stroke-linejoin="round"/><path d="M0.1 257.2C2.1 256.5 7.8 254.5 11.8 252.8C15.7 251.1 19.8 249 23.8 246.8C27.8 244.5 32.2 241.6 35.9 239.3C39.5 237.1 42.5 234.9 45.9 233.3C49.2 231.8 52.6 230.9 55.9 230.1C59.3 229.3 62.6 228.8 66 228.7C69.3 228.6 72.3 228.9 76 229.3C79.7 229.7 84 230.5 88 231.1C92.1 231.8 96.1 232.5 100.1 233.1C104.1 233.7 108.1 234.3 112.1 234.7C116.1 235.2 120.2 235.5 124.2 235.7C128.2 236 132.2 236 136.2 236.1C140.2 236.2 142.8 236.3 148.3 236.3C153.7 236.4 163.7 236.4 168.7 236.3C173.8 236.3 177.1 236.2 178.8 236.1M201.9 236.1C203.7 236.3 209.1 236.6 212.9 237.1C216.7 237.6 220.9 238.4 224.9 239.1C229 239.9 233 240.8 237 241.8C241 242.7 245 243.8 249 244.8C253 245.8 257.1 246.8 261.1 247.8C265.1 248.7 269.1 249.6 273.1 250.4C277.1 251.2 281.1 252.1 285.2 252.8C289.2 253.5 293.2 254.1 297.2 254.8C301.2 255.5 305.5 256.1 309.2 256.8C313 257.5 317.9 258.5 319.7 258.8" fill="none" stroke="#3c8cf2" stroke-width="1.7" stroke-linecap="round" stroke-linejoin="round"/><path d="M0.1 270.9C2.1 270.3 7.8 268.5 11.8 267.2C15.7 266 19.8 264.5 23.8 263.2C27.8 261.9 31.8 260.7 35.9 259.4C39.9 258.2 43.9 257.1 47.9 255.8C51.9 254.5 55.9 252.7 59.9 251.4C64 250.1 68.3 248.7 72 247.8C75.7 246.8 78.7 246.2 82 245.8C85.4 245.3 88.4 245.2 92.1 245.2C95.7 245.1 100.1 245.3 104.1 245.4C108.1 245.5 112.1 245.7 116.1 245.8C120.2 245.9 124.2 245.9 128.2 246C132.2 246 136.2 246.1 140.2 246.2C144.2 246.2 146.9 246.4 152.3 246.4C157.6 246.4 169 246.2 172.4 246.2M194.8 246.2C196.8 246.4 202.9 246.8 206.9 247.4C210.9 248 214.9 248.9 218.9 249.8C222.9 250.7 226.9 251.7 231 252.8C235 253.9 239 255.1 243 256.2C247 257.3 251 258.2 255 259.2C259.1 260.2 263.1 261.4 267.1 262.2C271.1 263.1 275.1 263.8 279.1 264.4C283.1 265.1 287.2 265.7 291.2 266.2C295.2 266.8 299.2 267.3 303.2 267.8C307.2 268.4 312.5 269 315.3 269.5C318 269.9 318.9 270.3 319.7 270.5" fill="none" stroke="#1e6eeb" stroke-width="1.7" stroke-linecap="round" stroke-linejoin="round"/><path d="M0.1 282.9C2.1 282.3 7.8 280.6 11.8 279.5C15.7 278.4 19.8 277.4 23.8 276.5C27.8 275.6 31.8 275 35.9 274.3C39.9 273.6 43.9 273 47.9 272.3C51.9 271.5 55.9 270.9 59.9 269.9C64 268.8 68.3 267.1 72 265.8C75.7 264.6 78.7 263.2 82 262.2C85.4 261.2 88.4 260.5 92.1 259.8C95.7 259.2 100.1 258.8 104.1 258.4C108.1 258 112.1 257.7 116.1 257.4C120.2 257.1 124.2 257 128.2 256.8C132.2 256.6 136.3 256.5 140.2 256.4C144.2 256.3 149.9 256.4 151.9 256.4M175.2 256.4C177.1 256.5 182.9 256.8 186.8 257.2C190.8 257.6 194.8 258.1 198.8 258.8C202.9 259.5 206.9 260.4 210.9 261.4C214.9 262.4 218.9 263.7 222.9 264.8C226.9 266 231 267.1 235 268.3C239 269.4 243 270.5 247 271.5C251 272.5 255 273.4 259.1 274.3C263.1 275.1 267.1 275.8 271.1 276.5C275.1 277.1 279.1 277.7 283.1 278.3C287.2 278.9 291.2 279.4 295.2 279.9C299.2 280.4 303.2 280.8 307.2 281.3C311.3 281.8 317.6 282.6 319.7 282.9" fill="none" stroke="#195fd7" stroke-width="1.7" stroke-linecap="round" stroke-linejoin="round"/><path d="M0.1 296.4C2.1 295.8 7.8 293.9 11.8 292.9C15.7 291.9 19.8 291 23.8 290.3C27.8 289.7 31.8 289.3 35.9 288.9C39.9 288.6 43.9 288.7 47.9 288.3C51.9 288 55.9 287.7 59.9 286.9C64 286.2 68.3 285.2 72 283.9C75.7 282.6 78.7 280.9 82 279.3C85.4 277.7 88.4 275.9 92.1 274.5C95.7 273.1 100.1 271.8 104.1 270.9C108.1 269.9 112.1 269.4 116.1 268.9C120.2 268.3 124.2 267.8 128.2 267.4C132.2 267.1 136.3 266.9 140.2 266.8C144.2 266.7 149.9 266.8 151.9 266.8M175.2 266.8C177.1 266.9 182.9 267 186.8 267.4C190.8 267.9 194.8 268.6 198.8 269.5C202.9 270.3 206.9 271.3 210.9 272.5C214.9 273.6 218.9 275.1 222.9 276.5C226.9 277.8 231 279.2 235 280.5C239 281.8 243 283.1 247 284.3C251 285.5 255 286.6 259.1 287.5C263.1 288.5 267.1 289.2 271.1 289.9C275.1 290.7 279.1 291.4 283.1 291.9C287.2 292.5 291.2 292.8 295.2 293.3C299.2 293.8 303.6 294.4 307.2 294.9C310.9 295.5 315.6 296.3 317.3 296.6" fill="none" stroke="#1450c8" stroke-width="1.7" stroke-linecap="round" stroke-linejoin="round"/><path d="M77 296.4C78.5 295.6 82.9 293.4 86 291.9C89.2 290.4 92.4 288.8 96.1 287.3C99.7 285.9 104.1 284.5 108.1 283.3C112.1 282.1 116.1 281.1 120.2 280.3C124.2 279.5 128.2 279 132.2 278.5C136.2 278 141 277.7 144.2 277.5C147.5 277.3 150.6 277.3 151.9 277.3M175.2 277.5C177.1 277.6 182.9 277.8 186.8 278.3C190.8 278.8 194.8 279.5 198.8 280.3C202.9 281.1 206.9 282.2 210.9 283.3C214.9 284.4 218.9 285.6 222.9 286.9C226.9 288.2 231.3 289.8 235 290.9C238.7 292.1 242 293 245 293.9C248 294.8 251.7 295.9 253 296.4" fill="none" stroke="#4a34c4" stroke-width="1.7" stroke-linecap="round" stroke-linejoin="round"/><path d="M122.2 296.4C123.8 295.6 128.9 293.1 132.2 291.9C135.5 290.8 138.9 290 142.2 289.3C145.6 288.7 147.2 288.2 152.3 287.9C157.4 287.7 167.3 287.7 172.8 287.9C178.2 288.2 180.8 288.7 184.8 289.3C188.8 290 193.2 291.1 196.8 291.9C200.5 292.8 204.2 293.8 206.9 294.5C209.6 295.3 211.9 296 212.9 296.4" fill="none" stroke="#5c48d2" stroke-width="1.7" stroke-linecap="round" stroke-linejoin="round"/></g><g class="t" font-family="Liberation Sans, sans-serif" font-weight="bold" font-size="10" stroke-width="0.3" text-rendering="geometricPrecision"><text x="26.2" y="104.4" fill="#6cf06a" stroke="#6cf06a" textLength="21.7" lengthAdjust="spacingAndGlyphs">5840</text><text x="82.7" y="146.5" fill="#6cf06a" stroke="#6cf06a" textLength="21.7" lengthAdjust="spacingAndGlyphs">5840</text><text x="233.2" y="194.7" fill="#6cf06a" stroke="#6cf06a" textLength="21.7" lengthAdjust="spacingAndGlyphs">5840</text><text x="89.4" y="168.1" fill="#37d23c" stroke="#37d23c" textLength="21.7" lengthAdjust="spacingAndGlyphs">5800</text><text x="32.5" y="199.1" fill="#1eb41e" stroke="#1eb41e" textLength="21.7" lengthAdjust="spacingAndGlyphs">5700</text><text x="186" y="218.5" fill="#1eb41e" stroke="#1eb41e" textLength="21.7" lengthAdjust="spacingAndGlyphs">5700</text><text x="183" y="229.5" fill="#78b9fa" stroke="#78b9fa" textLength="21.7" lengthAdjust="spacingAndGlyphs">5600</text><text x="179.5" y="239.2" fill="#3c8cf2" stroke="#3c8cf2" textLength="21.7" lengthAdjust="spacingAndGlyphs">5500</text><text x="172.7" y="249.6" fill="#1e6eeb" stroke="#1e6eeb" textLength="21.7" lengthAdjust="spacingAndGlyphs">5400</text><text x="153.1" y="259.9" fill="#195fd7" stroke="#195fd7" textLength="21.7" lengthAdjust="spacingAndGlyphs">5300</text><text x="153.1" y="270.4" fill="#1450c8" stroke="#1450c8" textLength="21.7" lengthAdjust="spacingAndGlyphs">5200</text><text x="153.1" y="281" fill="#4a34c4" stroke="#4a34c4" textLength="21.7" lengthAdjust="spacingAndGlyphs">5100</text></g>
<rect x="0" y="0" width="320.6" height="297.3" fill="none" stroke="#000" stroke-width="1.5"/>
<path d="M-3.5 0H0M-3.5 19.8H0M-3.5 39.6H0M-3.5 59.5H0M-3.5 79.3H0M-3.5 99.1H0M-3.5 118.9H0M-3.5 138.7H0M-3.5 158.6H0M-3.5 178.4H0M-3.5 198.2H0M-3.5 218H0M-3.5 237.8H0M-3.5 257.7H0M-3.5 277.5H0M-3.5 297.3H0M4.5 297.3v3.8M40.1 297.3v3.8M75.7 297.3v3.8M111.3 297.3v3.8M147 297.3v3.8M182.6 297.3v3.8M218.2 297.3v3.8M253.8 297.3v3.8M289.5 297.3v3.8" stroke="#000" stroke-width="1.05" fill="none"/>
<g class="t" font-family="Liberation Sans, sans-serif" font-weight="bold" font-size="9.7" fill="#000" text-rendering="geometricPrecision"><text x="-21.3" y="3.8" textLength="16" lengthAdjust="spacingAndGlyphs">15N</text><text x="-21.3" y="23.6" textLength="16" lengthAdjust="spacingAndGlyphs">10N</text><text x="-16.4" y="43.4" textLength="11.1" lengthAdjust="spacingAndGlyphs">5N</text><text x="-17.9" y="63.2" textLength="12.6" lengthAdjust="spacingAndGlyphs">EQ</text><text x="-15.9" y="83" textLength="10.6" lengthAdjust="spacingAndGlyphs">5S</text><text x="-20.8" y="102.8" textLength="15.5" lengthAdjust="spacingAndGlyphs">10S</text><text x="-20.8" y="122.7" textLength="15.5" lengthAdjust="spacingAndGlyphs">15S</text><text x="-20.8" y="142.5" textLength="15.5" lengthAdjust="spacingAndGlyphs">20S</text><text x="-20.8" y="162.3" textLength="15.5" lengthAdjust="spacingAndGlyphs">25S</text><text x="-20.8" y="182.1" textLength="15.5" lengthAdjust="spacingAndGlyphs">30S</text><text x="-20.8" y="201.9" textLength="15.5" lengthAdjust="spacingAndGlyphs">35S</text><text x="-20.8" y="221.8" textLength="15.5" lengthAdjust="spacingAndGlyphs">40S</text><text x="-20.8" y="241.6" textLength="15.5" lengthAdjust="spacingAndGlyphs">45S</text><text x="-20.8" y="261.4" textLength="15.5" lengthAdjust="spacingAndGlyphs">50S</text><text x="-20.8" y="281.2" textLength="15.5" lengthAdjust="spacingAndGlyphs">55S</text><text x="-20.8" y="301.1" textLength="15.5" lengthAdjust="spacingAndGlyphs">60S</text><text x="-5.6" y="308.6" textLength="22" lengthAdjust="spacingAndGlyphs">100W</text><text x="32.4" y="308.6" textLength="17.1" lengthAdjust="spacingAndGlyphs">90W</text><text x="68" y="308.6" textLength="17.1" lengthAdjust="spacingAndGlyphs">80W</text><text x="103.7" y="308.6" textLength="17.1" lengthAdjust="spacingAndGlyphs">70W</text><text x="139.3" y="308.6" textLength="17.1" lengthAdjust="spacingAndGlyphs">60W</text><text x="174.9" y="308.6" textLength="17.1" lengthAdjust="spacingAndGlyphs">50W</text><text x="210.6" y="308.6" textLength="17.1" lengthAdjust="spacingAndGlyphs">40W</text><text x="246.2" y="308.6" textLength="17.1" lengthAdjust="spacingAndGlyphs">30W</text><text x="281.8" y="308.6" textLength="17.1" lengthAdjust="spacingAndGlyphs">20W</text></g>
<g aria-label="cluster: 3  membros: 2"><desc>cluster: 3  membros: 2</desc><path d="M52.7 -16.9L51.5 -18L50.3 -18.6L48.5 -18.6L47.3 -18L46.1 -16.9L45.5 -15.3L45.5 -14.2L46.1 -12.5L47.3 -11.4L48.5 -10.9L50.3 -10.9L51.5 -11.4L52.7 -12.5M57.6 -22.4L57.6 -10.9M63 -18.6L63 -13.1L63.6 -11.4L64.8 -10.9L66.6 -10.9L67.8 -11.4L69.6 -13.1M69.6 -18.6L69.6 -10.9M80.4 -16.9L79.8 -18L78 -18.6L76.2 -18.6L74.4 -18L73.8 -16.9L74.4 -15.8L75.6 -15.3L78.6 -14.7L79.8 -14.2L80.4 -13.1L80.4 -12.5L79.8 -11.4L78 -10.9L76.2 -10.9L74.4 -11.4L73.8 -12.5M85.2 -22.4L85.2 -13.1L85.8 -11.4L87 -10.9L88.2 -10.9M83.4 -18.6L87.6 -18.6M91.2 -15.3L98.4 -15.3L98.4 -16.4L97.8 -17.5L97.2 -18L96 -18.6L94.2 -18.6L93 -18L91.8 -16.9L91.2 -15.3L91.2 -14.2L91.8 -12.5L93 -11.4L94.2 -10.9L96 -10.9L97.2 -11.4L98.4 -12.5M102.6 -18.6L102.6 -10.9M102.6 -15.3L103.2 -16.9L104.4 -18L105.6 -18.6L107.4 -18.6M111.6 -18.6L111 -18L111.6 -17.5L112.2 -18L111.6 -18.6M111.6 -12L111 -11.4L111.6 -10.9L112.2 -11.4L111.6 -12M129.1 -22.4L135.7 -22.4L132.1 -18L133.9 -18L135.1 -17.5L135.7 -16.9L136.3 -15.3L136.3 -14.2L135.7 -12.5L134.5 -11.4L132.7 -10.9L130.9 -10.9L129.1 -11.4L128.5 -12L127.9 -13.1M162.1 -18.6L162.1 -10.9M162.1 -16.4L163.9 -18L165.1 -18.6L166.9 -18.6L168.1 -18L168.7 -16.4L168.7 -10.9M168.7 -16.4L170.5 -18L171.7 -18.6L173.5 -18.6L174.7 -18L175.3 -16.4L175.3 -10.9M179.6 -15.3L186.8 -15.3L186.8 -16.4L186.2 -17.5L185.6 -18L184.4 -18.6L182.6 -18.6L181.4 -18L180.2 -16.9L179.6 -15.3L179.6 -14.2L180.2 -12.5L181.4 -11.4L182.6 -10.9L184.4 -10.9L185.6 -11.4L186.8 -12.5M191 -18.6L191 -10.9M191 -16.4L192.8 -18L194 -18.6L195.8 -18.6L197 -18L197.6 -16.4L197.6 -10.9M197.6 -16.4L199.4 -18L200.6 -18.6L202.4 -18.6L203.6 -18L204.2 -16.4L204.2 -10.9M209 -22.4L209 -10.9M209 -16.9L210.2 -18L211.4 -18.6L213.2 -18.6L214.4 -18L215.6 -16.9L216.2 -15.3L216.2 -14.2L215.6 -12.5L214.4 -11.4L213.2 -10.9L211.4 -10.9L210.2 -11.4L209 -12.5M220.4 -18.6L220.4 -10.9M220.4 -15.3L221 -16.9L222.2 -18L223.4 -18.6L225.2 -18.6M230.6 -18.6L229.4 -18L228.2 -16.9L227.6 -15.3L227.6 -14.2L228.2 -12.5L229.4 -11.4L230.6 -10.9L232.4 -10.9L233.6 -11.4L234.8 -12.5L235.4 -14.2L235.4 -15.3L234.8 -16.9L233.6 -18L232.4 -18.6L230.6 -18.6M245.7 -16.9L245.1 -18L243.3 -18.6L241.5 -18.6L239.7 -18L239.1 -16.9L239.7 -15.8L240.9 -15.3L243.9 -14.7L245.1 -14.2L245.7 -13.1L245.7 -12.5L245.1 -11.4L243.3 -10.9L241.5 -10.9L239.7 -11.4L239.1 -12.5M251.1 -18.6L250.5 -18L251.1 -17.5L251.7 -18L251.1 -18.6M251.1 -12L250.5 -11.4L251.1 -10.9L251.7 -11.4L251.1 -12M267.9 -19.7L267.9 -20.2L268.5 -21.3L269.1 -21.9L270.3 -22.4L272.7 -22.4L273.9 -21.9L274.5 -21.3L275.1 -20.2L275.1 -19.1L274.5 -18L273.3 -16.4L267.3 -10.9L275.7 -10.9" fill="none" stroke="#000" stroke-width="1.45" stroke-linecap="round" stroke-linejoin="round"/></g>
</g>
<g transform="translate(522.2 493.6)">
<use href="#map"/>
<g clip-path="url(#pc)"><path d="M0.2 31.9C0.8 32.4 2.4 33.1 3.8 34.5C5.2 36 7 38.7 8.8 40.6C10.7 42.4 12.7 44.1 14.8 45.6C17 47.1 19.7 48.1 21.9 49.6C24 51.1 26.2 52.9 27.9 54.6C29.6 56.3 31.1 57.8 31.9 59.6C32.7 61.5 33.1 63.6 32.9 65.6C32.7 67.7 31.7 69.5 30.9 71.7C30.1 73.8 28.7 76.4 27.9 78.7C27 81 26.2 83.5 25.9 85.7C25.5 87.9 26 90.2 25.9 91.7C25.7 93.3 25 94.6 24.9 95.2M0.2 97.4L2.2 98.6M0.2 148.4C2.1 148.7 7.9 149.4 11.8 150C15.8 150.6 19.8 151.4 23.9 152C27.9 152.7 31.9 153.4 35.9 154C39.9 154.7 43.9 155.4 47.9 156.1C52 156.7 56 157.3 60 157.9C64 158.4 68 159 72 159.5C76 159.9 80.1 160.1 84.1 160.5C88.1 160.8 92.8 161.3 96.1 161.5C99.5 161.6 101.5 161 104.1 161.5C106.8 162 109.8 163.7 112.2 164.5C114.5 165.3 116.2 165.9 118.2 166.1C120.2 166.3 121.9 165.1 124.2 165.5C126.6 165.9 130.9 168 132.2 168.5M155.3 172.5C157.9 173.2 166.2 175.5 170.8 176.5C175.4 177.6 178.8 178 182.8 178.9C186.9 179.9 190.9 180.9 194.9 182.1C198.9 183.4 202.9 184.8 206.9 186.2C210.9 187.6 215 189.3 219 190.6C223 191.8 227 192.9 231 193.6C235 194.3 239 194.8 243.1 195C247.1 195.2 251.1 195.1 255.1 195C259.1 194.9 263.1 194.7 267.1 194.2C271.2 193.7 275.2 193.1 279.2 192.2C283.2 191.2 287.6 189.8 291.2 188.6C294.9 187.3 298.8 185.9 301.3 184.6C303.8 183.2 304.9 182.2 306.3 180.5C307.6 178.9 308.5 176.5 309.3 174.5C310.1 172.5 310.3 170.3 311.3 168.5C312.3 166.7 313.8 164.8 315.3 163.5C316.9 162.2 319.7 161.3 320.5 160.9" fill="none" stroke="#6cf06a" stroke-width="1.7" stroke-linecap="round" stroke-linejoin="round"/><path d="M167.5 141.9C167.5 140.4 168.1 139.4 169 138.3C169.8 137.3 171 136.3 172.5 135.5C174 134.7 176.3 134 178.2 133.4C180.1 132.8 182.1 132.2 183.8 131.9C185.6 131.7 187.4 131.6 188.8 131.9C190.2 132.3 191.3 133.1 192.3 134.1C193.4 135 194.3 136.3 195.2 137.6C196 138.9 196.9 140.6 197.3 141.9C197.7 143.2 198 144.3 197.7 145.4C197.5 146.5 196.8 147.6 195.9 148.5C195 149.5 193.6 150.3 192.3 151.1C191 151.8 189.5 152.6 188.1 153.2C186.7 153.8 185.3 154.3 183.8 154.6C182.4 154.9 181 155.1 179.6 154.9C178.2 154.7 176.6 154.2 175.3 153.5C174 152.7 172.9 151.5 171.8 150.4C170.7 149.3 169.7 148.2 169 146.8C168.3 145.4 167.5 143.3 167.5 141.9Z" fill="none" stroke="#ffa000" stroke-width="1.7" stroke-linecap="round" stroke-linejoin="round"/><path d="M0.2 176.1C2.1 175.9 7.9 175.3 11.8 174.9C15.8 174.6 19.8 174.3 23.9 174.1C27.9 173.9 31.9 173.8 35.9 173.7C39.9 173.7 43.9 173.7 47.9 173.7C52 173.8 56 173.9 60 174.1C64 174.3 68 174.6 72 174.9C76 175.3 80.1 175.6 84.1 176.1C88.1 176.6 92.6 177.3 96.1 177.9C99.6 178.6 103.6 179.6 105.2 179.9M128.2 186.2C129.6 186.4 133.2 187.1 136.3 187.6C139.3 188.1 143 188.7 146.3 189.2C149.6 189.6 152.2 189.8 156.3 190.2C160.4 190.6 166.4 191 170.8 191.6C175.2 192.1 178.8 192.8 182.8 193.6C186.9 194.4 190.9 195.2 194.9 196.2C198.9 197.2 202.9 198.5 206.9 199.6C210.9 200.7 215 201.7 219 202.6C223 203.6 227 204.5 231 205.2C235 206 239 206.5 243.1 207C247.1 207.5 251.1 207.9 255.1 208.2C259.1 208.6 263.1 209 267.1 209.2C271.2 209.5 275.2 209.5 279.2 209.6C283.2 209.7 287.2 209.8 291.2 209.8C295.2 209.8 298.4 209.8 303.3 209.6C308.2 209.5 317.7 209.1 320.5 209" fill="none" stroke="#37d23c" stroke-width="1.7" stroke-linecap="round" stroke-linejoin="round"/><path d="M0.2 211C2.1 210.6 7.9 209.3 11.8 208.6C15.8 208 19.8 207.5 23.9 207C27.9 206.6 32.3 206.1 35.9 205.8C39.5 205.5 43.9 205.3 45.5 205.2M68 205C70 205.1 76 205.4 80.1 205.6C84.1 205.9 88.1 206.3 92.1 206.6C96.1 207 100.1 207.3 104.1 207.6C108.2 208 112.2 208.4 116.2 208.6C120.2 208.9 124.2 209 128.2 209.2C132.2 209.5 136.3 209.8 140.3 210C144.3 210.3 147.2 210.5 152.3 210.8C157.4 211.2 165.7 211.8 170.8 212.3C175.9 212.7 178.8 213.1 182.8 213.7C186.9 214.2 190.9 214.9 194.9 215.7C198.9 216.4 202.9 217.4 206.9 218.3C210.9 219.1 215 219.9 219 220.7C223 221.5 227 222.4 231 223.1C235 223.8 239 224.5 243.1 225.1C247.1 225.7 251.1 226.2 255.1 226.7C259.1 227.2 263.1 227.6 267.1 227.9C271.2 228.2 275.2 228.5 279.2 228.7C283.2 228.9 287.2 229 291.2 229.1C295.2 229.2 298.4 229.3 303.3 229.3C308.2 229.3 317.7 229.3 320.5 229.3" fill="none" stroke="#1eb41e" stroke-width="1.7" stroke-linecap="round" stroke-linejoin="round"/><path d="M0.2 244.4C1.5 243.9 5.2 242.9 7.8 241.8C10.4 240.7 13.2 239.2 15.8 237.7C18.5 236.3 21.2 234.6 23.9 233.1C26.5 231.6 29.2 230 31.9 228.7C34.6 227.4 37.2 226.2 39.9 225.3C42.6 224.4 44.9 223.7 47.9 223.1C51 222.5 54.6 222 58 221.7C61.3 221.4 64.3 221.3 68 221.1C71.7 220.9 76 220.8 80.1 220.7C84.1 220.6 88.1 220.6 92.1 220.7C96.1 220.8 100.8 221 104.1 221.1C107.5 221.2 110.8 221.3 112.2 221.3M135.3 221.5C137.4 221.6 142.4 221.8 148.3 222.1C154.2 222.4 165 222.9 170.8 223.3C176.6 223.7 178.8 224.1 182.8 224.7C186.9 225.3 190.9 225.9 194.9 226.7C198.9 227.5 202.9 228.7 206.9 229.7C210.9 230.7 215 231.8 219 232.7C223 233.7 227 234.6 231 235.3C235 236.1 239 236.8 243.1 237.3C247.1 237.9 251.1 238.3 255.1 238.7C259.1 239.1 263.1 239.5 267.1 239.8C271.2 240 275.2 240.1 279.2 240.2C283.2 240.3 287.2 240.3 291.2 240.4C295.2 240.4 298.4 240.4 303.3 240.4C308.2 240.4 317.7 240.4 320.5 240.4" fill="none" stroke="#78b9fa" stroke-width="1.7" stroke-linecap="round" stroke-linejoin="round"/><path d="M0.2 260.8C2.1 260.2 7.9 258.4 11.8 257.2C15.8 256 19.8 254.6 23.9 253.4C27.9 252.2 31.9 251 35.9 249.8C39.9 248.6 43.9 247.5 47.9 246.4C52 245.3 56 244.3 60 243.2C64 242.1 68 240.9 72 239.8C76 238.6 80.1 237.3 84.1 236.3C88.1 235.3 92.1 234.4 96.1 233.7C100.1 233.1 104.4 232.6 108.2 232.3C111.9 232 117 232 118.8 231.9M141.9 232.1C143.6 232.2 147.5 232.4 152.3 232.7C157.1 233.1 165.7 233.6 170.8 234.1C175.9 234.6 178.8 235.1 182.8 235.7C186.9 236.4 190.9 237.2 194.9 238.1C198.9 239 202.9 240.2 206.9 241.2C210.9 242.2 215 243.3 219 244.2C223 245 227 245.7 231 246.4C235 247 239 247.5 243.1 248C247.1 248.4 251.1 248.7 255.1 249C259.1 249.3 263.1 249.4 267.1 249.6C271.2 249.8 275.2 249.9 279.2 250C283.2 250.1 287.2 250.2 291.2 250.2C295.2 250.2 298.4 250.2 303.3 250.2C308.2 250.2 317.7 250.4 320.5 250.4" fill="none" stroke="#3c8cf2" stroke-width="1.7" stroke-linecap="round" stroke-linejoin="round"/><path d="M0.2 274.5C2.1 273.8 7.9 271.6 11.8 270.3C15.8 268.9 19.8 267.7 23.9 266.4C27.9 265.2 31.9 263.9 35.9 262.8C39.9 261.8 43.9 261 47.9 260.2C52 259.5 56 258.9 60 258.2C64 257.6 68 257 72 256.4C76 255.8 80.1 255.3 84.1 254.4C88.1 253.5 92.1 252.5 96.1 251.2C100.1 249.9 104.5 248.1 108.2 246.8C111.8 245.5 115.4 244.1 118.2 243.4C121 242.6 124.1 242.5 125.2 242.4M148.3 242.4C149.6 242.5 152.6 242.8 156.3 243.2C160.1 243.6 166.4 244.2 170.8 244.8C175.2 245.4 178.8 246 182.8 246.8C186.9 247.5 190.9 248.5 194.9 249.4C198.9 250.3 202.9 251.3 206.9 252.2C210.9 253.1 215 254 219 254.8C223 255.6 227 256.2 231 256.8C235 257.4 239 258 243.1 258.4C247.1 258.9 251.1 259.2 255.1 259.4C259.1 259.7 263.1 259.9 267.1 260C271.2 260.2 275.2 260.2 279.2 260.2C283.2 260.3 287.2 260.4 291.2 260.4C295.2 260.5 298.4 260.4 303.3 260.4C308.2 260.4 317.7 260.4 320.5 260.4" fill="none" stroke="#1e6eeb" stroke-width="1.7" stroke-linecap="round" stroke-linejoin="round"/><path d="M0.2 287.9C2.1 287.2 7.9 284.8 11.8 283.3C15.8 281.8 19.8 280.3 23.9 278.9C27.9 277.5 31.9 276 35.9 274.9C39.9 273.8 43.9 273 47.9 272.3C52 271.5 56 271 60 270.5C64 270 68 269.7 72 269.3C76 268.8 80.1 268.5 84.1 267.8C88.1 267.2 92.1 266.4 96.1 265.2C100.1 264.1 104.1 262.3 108.2 260.8C112.2 259.3 116.3 257.5 120.2 256.2C124.2 254.9 129.9 253.4 131.8 252.8M154.9 252.8C157.6 253.1 166.2 254.1 170.8 254.8C175.5 255.5 178.8 256 182.8 256.8C186.9 257.6 190.9 258.5 194.9 259.4C198.9 260.3 202.9 261.3 206.9 262.2C210.9 263.1 215 264 219 264.8C223 265.7 227 266.6 231 267.2C235 267.9 239 268.4 243.1 268.9C247.1 269.4 251.1 269.9 255.1 270.3C259.1 270.6 263.1 270.8 267.1 271.1C271.2 271.3 275.2 271.5 279.2 271.7C283.2 271.8 287.2 272 291.2 272.1C295.2 272.2 298.4 272.2 303.3 272.3C308.2 272.3 317.7 272.3 320.5 272.3" fill="none" stroke="#195fd7" stroke-width="1.7" stroke-linecap="round" stroke-linejoin="round"/><path d="M11.8 296.4C13.8 295.4 19.8 292.2 23.9 290.5C27.9 288.9 31.9 287.5 35.9 286.3C39.9 285.1 43.9 284.3 47.9 283.5C52 282.7 56 282 60 281.5C64 281 68 280.7 72 280.3C76 279.9 80.1 279.5 84.1 278.9C88.1 278.3 92.1 277.7 96.1 276.9C100.1 276 104.1 275 108.2 273.9C112.2 272.7 116.2 271.2 120.2 269.9C124.2 268.5 129.7 266.7 132.2 265.8C134.8 265 134.9 265 135.5 264.8M157.8 264.2C158.4 264.3 159.6 264.5 161.8 264.8C163.9 265.2 167.3 265.6 170.8 266.2C174.3 266.8 178.8 267.7 182.8 268.5C186.9 269.2 190.9 270 194.9 270.9C198.9 271.7 202.9 272.6 206.9 273.5C210.9 274.4 215 275.4 219 276.3C223 277.1 227 277.8 231 278.5C235 279.2 239 279.9 243.1 280.5C247.1 281.1 251.1 281.5 255.1 281.9C259.1 282.3 263.1 282.8 267.1 283.1C271.2 283.4 275.2 283.7 279.2 283.9C283.2 284.1 287.2 284.2 291.2 284.3C295.2 284.4 298.4 284.6 303.3 284.7C308.2 284.8 317.7 285 320.5 285.1" fill="none" stroke="#1450c8" stroke-width="1.7" stroke-linecap="round" stroke-linejoin="round"/><path d="M61 296.4C62.8 295.8 68.2 293.9 72 292.9C75.9 292 80.1 291.4 84.1 290.5C88.1 289.7 92.1 288.9 96.1 287.9C100.1 287 104.1 286 108.2 284.9C112.2 283.8 116.2 282.6 120.2 281.5C124.2 280.4 129.1 279.3 132.2 278.5C135.4 277.7 137.8 277.1 138.9 276.9M160.8 276.9C162.4 277.1 167.1 277.9 170.8 278.5C174.5 279.1 178.8 279.8 182.8 280.5C186.9 281.2 190.9 282.1 194.9 282.9C198.9 283.7 202.9 284.5 206.9 285.3C210.9 286.1 215 286.7 219 287.5C223 288.3 227 289.2 231 289.9C235 290.7 239 291.3 243.1 291.9C247.1 292.6 251.1 293.4 255.1 293.9C259.1 294.5 263.8 294.9 267.1 295.3C270.5 295.7 273.8 296.2 275.2 296.4" fill="none" stroke="#4a34c4" stroke-width="1.7" stroke-linecap="round" stroke-linejoin="round"/><path d="M109.2 296.4C111 295.7 116.4 293.4 120.2 292.3C124.1 291.3 128.2 290.6 132.2 289.9C136.3 289.3 140.3 288.7 144.3 288.5C148.3 288.4 151.9 288.6 156.3 288.9C160.8 289.3 166.4 289.9 170.8 290.5C175.2 291.1 178.8 291.8 182.8 292.5C186.9 293.3 191.9 294.3 194.9 294.9C197.9 295.6 199.9 296.1 200.9 296.4" fill="none" stroke="#5c48d2" stroke-width="1.7" stroke-linecap="round" stroke-linejoin="round"/></g><g class="t" font-family="Liberation Sans, sans-serif" font-weight="bold" font-size="10" stroke-width="0.3" text-rendering="geometricPrecision"><text x="2.2" y="104.9" fill="#6cf06a" stroke="#6cf06a" textLength="21.7" lengthAdjust="spacingAndGlyphs">5840</text><text x="132.7" y="173.5" fill="#6cf06a" stroke="#6cf06a" textLength="21.7" lengthAdjust="spacingAndGlyphs">5840</text><text x="105.9" y="185.6" fill="#37d23c" stroke="#37d23c" textLength="21.7" lengthAdjust="spacingAndGlyphs">5800</text><text x="45.9" y="208.7" fill="#1eb41e" stroke="#1eb41e" textLength="21.7" lengthAdjust="spacingAndGlyphs">5700</text><text x="112.9" y="224.7" fill="#78b9fa" stroke="#78b9fa" textLength="21.7" lengthAdjust="spacingAndGlyphs">5600</text><text x="119.6" y="235.1" fill="#3c8cf2" stroke="#3c8cf2" textLength="21.7" lengthAdjust="spacingAndGlyphs">5500</text><text x="125.9" y="245.5" fill="#1e6eeb" stroke="#1e6eeb" textLength="21.7" lengthAdjust="spacingAndGlyphs">5400</text><text x="132.6" y="255.9" fill="#195fd7" stroke="#195fd7" textLength="21.7" lengthAdjust="spacingAndGlyphs">5300</text><text x="135.9" y="267.5" fill="#1450c8" stroke="#1450c8" textLength="21.7" lengthAdjust="spacingAndGlyphs">5200</text><text x="139.3" y="280" fill="#4a34c4" stroke="#4a34c4" textLength="21.7" lengthAdjust="spacingAndGlyphs">5100</text></g>
<rect x="0" y="0" width="320.6" height="297.3" fill="none" stroke="#000" stroke-width="1.5"/>
<path d="M-3.5 0H0M-3.5 19.8H0M-3.5 39.6H0M-3.5 59.5H0M-3.5 79.3H0M-3.5 99.1H0M-3.5 118.9H0M-3.5 138.7H0M-3.5 158.6H0M-3.5 178.4H0M-3.5 198.2H0M-3.5 218H0M-3.5 237.8H0M-3.5 257.7H0M-3.5 277.5H0M-3.5 297.3H0M4.5 297.3v3.8M40.1 297.3v3.8M75.7 297.3v3.8M111.3 297.3v3.8M147 297.3v3.8M182.6 297.3v3.8M218.2 297.3v3.8M253.8 297.3v3.8M289.5 297.3v3.8" stroke="#000" stroke-width="1.05" fill="none"/>
<g class="t" font-family="Liberation Sans, sans-serif" font-weight="bold" font-size="9.7" fill="#000" text-rendering="geometricPrecision"><text x="-21.3" y="3.8" textLength="16" lengthAdjust="spacingAndGlyphs">15N</text><text x="-21.3" y="23.6" textLength="16" lengthAdjust="spacingAndGlyphs">10N</text><text x="-16.4" y="43.4" textLength="11.1" lengthAdjust="spacingAndGlyphs">5N</text><text x="-17.9" y="63.2" textLength="12.6" lengthAdjust="spacingAndGlyphs">EQ</text><text x="-15.9" y="83" textLength="10.6" lengthAdjust="spacingAndGlyphs">5S</text><text x="-20.8" y="102.8" textLength="15.5" lengthAdjust="spacingAndGlyphs">10S</text><text x="-20.8" y="122.7" textLength="15.5" lengthAdjust="spacingAndGlyphs">15S</text><text x="-20.8" y="142.5" textLength="15.5" lengthAdjust="spacingAndGlyphs">20S</text><text x="-20.8" y="162.3" textLength="15.5" lengthAdjust="spacingAndGlyphs">25S</text><text x="-20.8" y="182.1" textLength="15.5" lengthAdjust="spacingAndGlyphs">30S</text><text x="-20.8" y="201.9" textLength="15.5" lengthAdjust="spacingAndGlyphs">35S</text><text x="-20.8" y="221.8" textLength="15.5" lengthAdjust="spacingAndGlyphs">40S</text><text x="-20.8" y="241.6" textLength="15.5" lengthAdjust="spacingAndGlyphs">45S</text><text x="-20.8" y="261.4" textLength="15.5" lengthAdjust="spacingAndGlyphs">50S</text><text x="-20.8" y="281.2" textLength="15.5" lengthAdjust="spacingAndGlyphs">55S</text><text x="-20.8" y="301.1" textLength="15.5" lengthAdjust="spacingAndGlyphs">60S</text><text x="-5.6" y="308.6" textLength="22" lengthAdjust="spacingAndGlyphs">100W</text><text x="32.4" y="308.6" textLength="17.1" lengthAdjust="spacingAndGlyphs">90W</text><text x="68" y="308.6" textLength="17.1" lengthAdjust="spacingAndGlyphs">80W</text><text x="103.7" y="308.6" textLength="17.1" lengthAdjust="spacingAndGlyphs">70W</text><text x="139.3" y="308.6" textLength="17.1" lengthAdjust="spacingAndGlyphs">60W</text><text x="174.9" y="308.6" textLength="17.1" lengthAdjust="spacingAndGlyphs">50W</text><text x="210.6" y="308.6" textLength="17.1" lengthAdjust="spacingAndGlyphs">40W</text><text x="246.2" y="308.6" textLength="17.1" lengthAdjust="spacingAndGlyphs">30W</text><text x="281.8" y="308.6" textLength="17.1" lengthAdjust="spacingAndGlyphs">20W</text></g>
<g aria-label="cluster: 4  membros: 3"><desc>cluster: 4  membros: 3</desc><path d="M52.7 -16.9L51.5 -18L50.3 -18.6L48.5 -18.6L47.3 -18L46.1 -16.9L45.5 -15.3L45.5 -14.2L46.1 -12.5L47.3 -11.4L48.5 -10.9L50.3 -10.9L51.5 -11.4L52.7 -12.5M57.6 -22.4L57.6 -10.9M63 -18.6L63 -13.1L63.6 -11.4L64.8 -10.9L66.6 -10.9L67.8 -11.4L69.6 -13.1M69.6 -18.6L69.6 -10.9M80.4 -16.9L79.8 -18L78 -18.6L76.2 -18.6L74.4 -18L73.8 -16.9L74.4 -15.8L75.6 -15.3L78.6 -14.7L79.8 -14.2L80.4 -13.1L80.4 -12.5L79.8 -11.4L78 -10.9L76.2 -10.9L74.4 -11.4L73.8 -12.5M85.2 -22.4L85.2 -13.1L85.8 -11.4L87 -10.9L88.2 -10.9M83.4 -18.6L87.6 -18.6M91.2 -15.3L98.4 -15.3L98.4 -16.4L97.8 -17.5L97.2 -18L96 -18.6L94.2 -18.6L93 -18L91.8 -16.9L91.2 -15.3L91.2 -14.2L91.8 -12.5L93 -11.4L94.2 -10.9L96 -10.9L97.2 -11.4L98.4 -12.5M102.6 -18.6L102.6 -10.9M102.6 -15.3L103.2 -16.9L104.4 -18L105.6 -18.6L107.4 -18.6M111.6 -18.6L111 -18L111.6 -17.5L112.2 -18L111.6 -18.6M111.6 -12L111 -11.4L111.6 -10.9L112.2 -11.4L111.6 -12M133.9 -22.4L127.9 -14.7L136.9 -14.7M133.9 -22.4L133.9 -10.9M162.1 -18.6L162.1 -10.9M162.1 -16.4L163.9 -18L165.1 -18.6L166.9 -18.6L168.1 -18L168.7 -16.4L168.7 -10.9M168.7 -16.4L170.5 -18L171.7 -18.6L173.5 -18.6L174.7 -18L175.3 -16.4L175.3 -10.9M179.6 -15.3L186.8 -15.3L186.8 -16.4L186.2 -17.5L185.6 -18L184.4 -18.6L182.6 -18.6L181.4 -18L180.2 -16.9L179.6 -15.3L179.6 -14.2L180.2 -12.5L181.4 -11.4L182.6 -10.9L184.4 -10.9L185.6 -11.4L186.8 -12.5M191 -18.6L191 -10.9M191 -16.4L192.8 -18L194 -18.6L195.8 -18.6L197 -18L197.6 -16.4L197.6 -10.9M197.6 -16.4L199.4 -18L200.6 -18.6L202.4 -18.6L203.6 -18L204.2 -16.4L204.2 -10.9M209 -22.4L209 -10.9M209 -16.9L210.2 -18L211.4 -18.6L213.2 -18.6L214.4 -18L215.6 -16.9L216.2 -15.3L216.2 -14.2L215.6 -12.5L214.4 -11.4L213.2 -10.9L211.4 -10.9L210.2 -11.4L209 -12.5M220.4 -18.6L220.4 -10.9M220.4 -15.3L221 -16.9L222.2 -18L223.4 -18.6L225.2 -18.6M230.6 -18.6L229.4 -18L228.2 -16.9L227.6 -15.3L227.6 -14.2L228.2 -12.5L229.4 -11.4L230.6 -10.9L232.4 -10.9L233.6 -11.4L234.8 -12.5L235.4 -14.2L235.4 -15.3L234.8 -16.9L233.6 -18L232.4 -18.6L230.6 -18.6M245.7 -16.9L245.1 -18L243.3 -18.6L241.5 -18.6L239.7 -18L239.1 -16.9L239.7 -15.8L240.9 -15.3L243.9 -14.7L245.1 -14.2L245.7 -13.1L245.7 -12.5L245.1 -11.4L243.3 -10.9L241.5 -10.9L239.7 -11.4L239.1 -12.5M251.1 -18.6L250.5 -18L251.1 -17.5L251.7 -18L251.1 -18.6M251.1 -12L250.5 -11.4L251.1 -10.9L251.7 -11.4L251.1 -12M268.5 -22.4L275.1 -22.4L271.5 -18L273.3 -18L274.5 -17.5L275.1 -16.9L275.7 -15.3L275.7 -14.2L275.1 -12.5L273.9 -11.4L272.1 -10.9L270.3 -10.9L268.5 -11.4L267.9 -12L267.3 -13.1" fill="none" stroke="#000" stroke-width="1.45" stroke-linecap="round" stroke-linejoin="round"/></g>
</g>
<g transform="translate(63.3 848)">
<use href="#map"/>
<g clip-path="url(#pc)"><path d="M0.1 60.6C0.7 60.1 2.1 58.4 3.7 57.6C5.3 56.9 7.6 56.2 9.8 56.2C11.9 56.2 14.8 56.9 16.8 57.6C18.8 58.4 20.5 59.6 21.8 60.8C23.1 62.1 24.1 63.7 24.8 65.2C25.5 66.8 25.9 68.4 25.8 70.3C25.7 72.1 25.2 74.4 24.2 76.3C23.2 78.1 21.5 79.8 19.8 81.3C18.1 82.8 15.8 84.2 13.8 85.3C11.8 86.4 10 87.4 7.8 87.7C5.5 88.1 1.4 87.4 0.1 87.3M296.2 53.6C297.2 52.5 298.8 52.3 300.2 52.6C301.6 52.9 303.5 53.9 304.8 55.2C306.2 56.5 307.5 58.6 308.2 60.2C309 61.9 309.4 63.6 309.2 65.2C309.1 66.9 308.3 69.1 307.2 70.3C306.2 71.4 304.3 72.3 302.8 72.3C301.3 72.3 299.5 71.4 298.2 70.3C296.9 69.1 295.9 67.1 295.2 65.2C294.5 63.4 294 61.2 294.2 59.2C294.4 57.3 295.2 54.7 296.2 53.6ZM0.1 149C2.1 148.9 7.8 148.4 11.8 148.4C15.7 148.4 19.8 148.6 23.8 149C27.8 149.5 31.8 150.3 35.9 151C39.9 151.8 43.9 152.8 47.9 153.6C51.9 154.5 55.9 155.3 59.9 156.1C64 156.8 68.3 157.5 72 158.1C75.7 158.7 79.2 159.2 82 159.7C84.9 160.1 87.9 160.5 89 160.7M111.7 164.5C112.8 164.8 116.1 165.9 118.1 166.1C120.2 166.3 121.8 165.2 124.2 165.5C126.5 165.8 129.5 166.9 132.2 167.7C134.9 168.5 137.5 169.4 140.2 170.1C142.9 170.8 145.6 171.4 148.3 172.1C150.9 172.8 152.9 173.1 156.3 174.5C159.7 176 165.3 179.1 168.7 180.7C172.2 182.3 173.8 183 176.8 184.2C179.8 185.3 183.1 186.6 186.8 187.6C190.5 188.6 194.8 189.5 198.8 190.2C202.9 190.9 206.9 191.3 210.9 191.8C214.9 192.2 218.9 192.5 222.9 192.8C226.9 193.1 231.7 193.3 235 193.4C238.3 193.5 241.3 193.6 242.6 193.6M265.1 193.2C266.4 192.9 270.4 192.1 273.1 191.2C275.8 190.3 278.8 189.3 281.1 187.8C283.5 186.3 285.6 184.3 287.2 182.1C288.8 180 289.9 177.5 290.8 175.1C291.6 172.8 291.6 170.6 292.2 168.1C292.7 165.6 293.2 162.5 294.2 160.1C295.2 157.7 296.5 155.5 298.2 153.6C299.9 151.8 302 150.1 304.2 149C306.4 147.9 308.7 147.4 311.2 147C313.8 146.6 318.3 146.7 319.7 146.6" fill="none" stroke="#6cf06a" stroke-width="1.7" stroke-linecap="round" stroke-linejoin="round"/><path d="M167.9 142.5C167.9 141.4 168.3 139.9 169 138.9C169.7 137.9 170.8 137 172.1 136.5C173.5 136 175.4 135.8 177.1 135.8C178.7 135.8 180.3 136.3 182 136.8C183.8 137.2 185.8 138 187.7 138.5C189.6 139 191.5 139.6 193.4 140.1C195.3 140.5 197.4 140.9 199 141.5C200.7 142 202.3 142.6 203.3 143.5C204.3 144.3 204.8 145.5 205.1 146.7C205.4 148 205.3 149.7 205 151C204.6 152.2 204 153.4 203 154.2C202 155 200.5 155.7 199 155.9C197.6 156.2 195.8 155.9 194.1 155.6C192.3 155.3 190.3 154.7 188.4 154.1C186.5 153.5 184.6 152.8 182.7 152.1C180.9 151.4 178.8 150.7 177.1 150C175.3 149.2 173.5 148.5 172.1 147.7C170.8 146.9 169.7 146.2 169 145.3C168.3 144.4 167.9 143.5 167.9 142.5Z" fill="none" stroke="#ffa000" stroke-width="1.7" stroke-linecap="round" stroke-linejoin="round"/><path d="M0.1 178.1C2.1 177.5 7.8 175.3 11.8 174.1C15.7 172.9 19.8 171.8 23.8 171.1C27.8 170.4 31.8 169.9 35.9 169.7C39.9 169.5 43.9 169.8 47.9 170.1C51.9 170.4 55.9 171 59.9 171.5C64 172 68 172.6 72 173.1C76 173.7 80 174.1 84 174.7C88 175.3 92.6 175.9 96.1 176.7C99.6 177.5 103.6 179.1 105.1 179.5M128.2 186.2C129.5 186.5 133.2 187.3 136.2 188.2C139.2 189 142.9 190.2 146.2 191.2C149.6 192.1 152.5 193 156.3 193.8C160 194.6 164.7 195.4 168.7 196.2C172.8 197 176.8 198 180.8 198.8C184.8 199.6 188.8 200.2 192.8 200.8C196.8 201.5 200.9 202.1 204.9 202.6C208.9 203.1 212.9 203.4 216.9 203.8C220.9 204.3 224.9 204.8 229 205.2C233 205.6 237 205.9 241 206.2C245 206.6 249 207 253 207.2C257.1 207.5 261.1 207.7 265.1 207.8C269.1 208 273.1 208.2 277.1 208.2C281.1 208.3 285.2 208.3 289.2 208.2C293.2 208.2 296.1 207.9 301.2 207.8C306.3 207.8 316.6 207.8 319.7 207.8" fill="none" stroke="#37d23c" stroke-width="1.7" stroke-linecap="round" stroke-linejoin="round"/><path d="M0.1 204.8C2.1 204.7 7.8 204.3 11.8 204.2C15.7 204.1 20.5 204.2 23.8 204.2C27.2 204.2 30.5 204.2 31.8 204.2M54.9 204.2C57.1 204.3 63.8 204.5 68 204.6C72.2 204.8 76 205 80 205.2C84 205.5 88 205.8 92.1 206.2C96.1 206.6 100.1 207.1 104.1 207.6C108.1 208.1 112.1 208.7 116.1 209.2C120.2 209.7 124.2 210.2 128.2 210.6C132.2 211.1 136.2 211.4 140.2 211.9C144.2 212.3 147.5 212.8 152.3 213.3C157 213.8 164 214.4 168.7 214.9C173.5 215.4 176.8 215.9 180.8 216.3C184.8 216.7 188.8 216.9 192.8 217.3C196.8 217.6 200.9 217.9 204.9 218.3C208.9 218.6 212.9 218.9 216.9 219.3C220.9 219.7 224.9 220.1 229 220.7C233 221.3 237 222 241 222.7C245 223.4 249 224 253 224.7C257.1 225.4 261.1 226.2 265.1 226.9C269.1 227.6 273.1 228.3 277.1 228.9C281.1 229.5 285.2 230.2 289.2 230.7C293.2 231.2 297.2 231.6 301.2 231.9C305.2 232.3 310.2 232.5 313.3 232.7C316.3 232.9 318.6 233.1 319.7 233.1" fill="none" stroke="#1eb41e" stroke-width="1.7" stroke-linecap="round" stroke-linejoin="round"/><path d="M0.1 249.8C1.4 249.2 5.1 247.5 7.8 246C10.4 244.4 13.1 242.4 15.8 240.4C18.5 238.3 21.1 235.8 23.8 233.9C26.5 232 29.2 230.4 31.8 228.9C34.5 227.5 36.9 226.3 39.9 225.3C42.9 224.3 46.2 223.6 49.9 222.9C53.6 222.2 57.9 221.7 61.9 221.3C66 220.9 70.3 220.6 74 220.3C77.7 220 81 219.8 84 219.7C87 219.6 90.7 219.7 92.1 219.7M114.5 219.7C116.8 219.8 123.9 220.3 128.2 220.7C132.5 221.1 136.2 221.5 140.2 221.9C144.2 222.3 147.5 222.7 152.3 223.3C157 223.9 164 224.7 168.7 225.3C173.5 225.9 176.8 226.3 180.8 226.7C184.8 227.1 188.8 227.5 192.8 227.9C196.8 228.3 200.9 228.8 204.9 229.3C208.9 229.8 212.9 230.3 216.9 230.9C220.9 231.5 224.9 232.2 229 232.9C233 233.7 237 234.5 241 235.3C245 236.1 249 237 253 237.7C257.1 238.5 261.1 239.1 265.1 239.8C269.1 240.4 273.1 240.9 277.1 241.4C281.1 241.9 285.2 242.4 289.2 242.8C293.2 243.2 296.1 243.4 301.2 243.8C306.3 244.1 316.6 244.6 319.7 244.8" fill="none" stroke="#78b9fa" stroke-width="1.7" stroke-linecap="round" stroke-linejoin="round"/><path d="M0.1 268.1C2.1 267.4 7.8 265.5 11.8 264C15.7 262.5 19.8 260.8 23.8 259C27.8 257.2 31.8 255.2 35.9 253.4C39.9 251.6 43.9 249.8 47.9 248C51.9 246.2 55.9 244.4 59.9 242.8C64 241.1 68 239.5 72 237.9C76 236.4 80 234.9 84 233.7C88 232.6 92.1 231.7 96.1 230.9C100.1 230.2 104.8 229.6 108.1 229.3C111.4 229 114.5 229 115.7 228.9M138.2 229.3C139.9 229.5 143.2 229.8 148.3 230.7C153.3 231.6 163.3 233.7 168.7 234.7C174.2 235.7 176.8 236.1 180.8 236.7C184.8 237.3 188.8 237.8 192.8 238.3C196.8 238.9 200.9 239.4 204.9 240C208.9 240.6 212.9 241.2 216.9 242C220.9 242.7 224.9 243.6 229 244.4C233 245.2 237 246 241 246.8C245 247.5 249 248.3 253 249C257.1 249.7 261.1 250.3 265.1 250.8C269.1 251.3 273.1 251.6 277.1 252C281.1 252.4 285.2 252.7 289.2 253C293.2 253.3 296.1 253.5 301.2 253.8C306.3 254.1 316.6 254.6 319.7 254.8" fill="none" stroke="#3c8cf2" stroke-width="1.7" stroke-linecap="round" stroke-linejoin="round"/><path d="M0.1 281.5C2.1 280.9 7.8 279.3 11.8 277.9C15.7 276.4 19.8 274.6 23.8 272.9C27.8 271.1 31.8 269.3 35.9 267.4C39.9 265.6 43.9 263.8 47.9 262C51.9 260.3 55.9 258.7 59.9 257C64 255.3 68 253.7 72 252C76 250.3 80 248.5 84 247C88 245.4 92.1 244 96.1 242.8C100.1 241.6 104.3 240.5 108.1 239.8C111.9 239 117 238.6 118.7 238.3M141.8 238.3C143.6 238.6 147.8 238.9 152.3 239.8C156.8 240.6 164 242.4 168.7 243.4C173.5 244.4 176.8 245 180.8 245.8C184.8 246.5 188.8 247.1 192.8 247.8C196.8 248.4 200.9 249.1 204.9 249.8C208.9 250.5 212.9 251.2 216.9 252C220.9 252.8 224.9 253.6 229 254.4C233 255.2 237 256 241 256.8C245 257.6 249 258.4 253 259C257.1 259.7 261.1 260.3 265.1 260.8C269.1 261.3 273.1 261.7 277.1 262C281.1 262.4 285.2 262.7 289.2 263C293.2 263.3 296.1 263.6 301.2 263.8C306.3 264.1 316.6 264.5 319.7 264.6" fill="none" stroke="#1e6eeb" stroke-width="1.7" stroke-linecap="round" stroke-linejoin="round"/><path d="M0.1 294.1C2.1 293.5 7.8 291.9 11.8 290.5C15.7 289.2 19.8 287.6 23.8 285.9C27.8 284.2 31.8 282.3 35.9 280.5C39.9 278.7 43.9 276.8 47.9 275.1C51.9 273.3 55.9 271.6 59.9 269.9C64 268.2 68 266.5 72 264.8C76 263.2 80 261.4 84 259.8C88 258.3 92.1 256.7 96.1 255.4C100.1 254.1 104.1 252.8 108.1 251.8C112.1 250.8 117.2 249.9 120.2 249.4C123.1 248.9 124.8 248.9 125.8 248.8M148.3 248.4C149.6 248.6 152.9 249.1 156.3 249.8C159.7 250.5 164.7 251.9 168.7 252.8C172.8 253.7 176.8 254.6 180.8 255.4C184.8 256.2 188.8 257 192.8 257.8C196.8 258.6 200.9 259.3 204.9 260C208.9 260.8 212.9 261.6 216.9 262.4C220.9 263.3 224.9 264.1 229 265C233 265.9 237 267 241 267.9C245 268.7 249 269.4 253 270.1C257.1 270.8 261.1 271.5 265.1 272.1C269.1 272.6 273.1 273.1 277.1 273.5C281.1 273.9 285.2 274.2 289.2 274.5C293.2 274.7 296.1 274.8 301.2 275.1C306.3 275.3 316.6 275.7 319.7 275.9" fill="none" stroke="#195fd7" stroke-width="1.7" stroke-linecap="round" stroke-linejoin="round"/><path d="M34.9 296C37 295 43.7 292 47.9 290.1C52.1 288.3 55.9 286.6 59.9 284.9C64 283.2 68 281.6 72 279.9C76 278.2 80 276.5 84 274.9C88 273.2 92.1 271.6 96.1 270.1C100.1 268.6 104.1 267.1 108.1 265.8C112.1 264.6 116.1 263.4 120.2 262.4C124.2 261.5 130.2 260.4 132.2 260M155.3 260C157.5 260.5 164.5 262.1 168.7 263C173 264 176.8 264.9 180.8 265.8C184.8 266.7 188.8 267.6 192.8 268.5C196.8 269.3 200.9 270.2 204.9 271.1C208.9 272 212.9 272.9 216.9 273.9C220.9 274.8 224.9 275.9 229 276.9C233 277.9 237 279 241 279.9C245 280.8 249 281.7 253 282.5C257.1 283.3 261.1 283.9 265.1 284.5C269.1 285.1 273.1 285.7 277.1 286.1C281.1 286.6 285.2 286.8 289.2 287.1C293.2 287.4 296.1 287.6 301.2 287.9C306.3 288.2 316.6 288.8 319.7 288.9" fill="none" stroke="#1450c8" stroke-width="1.7" stroke-linecap="round" stroke-linejoin="round"/><path d="M76 296C77.7 295 82.7 292 86 290.1C89.4 288.3 92.4 286.6 96.1 284.9C99.7 283.2 104.1 281.4 108.1 279.9C112.1 278.4 116.1 277.2 120.2 276.1C124.2 275 129.6 274 132.2 273.5C134.8 272.9 135.2 273 135.8 272.9M158.3 272.9C160 273.1 165 273.8 168.7 274.5C172.5 275.1 176.8 276 180.8 276.9C184.8 277.7 188.8 278.6 192.8 279.5C196.8 280.4 200.9 281.2 204.9 282.1C208.9 283 212.9 283.9 216.9 284.9C220.9 285.9 224.9 286.9 229 287.9C233 288.9 237 289.9 241 290.9C245 291.9 249.7 293.1 253 293.9C256.4 294.8 259.7 295.6 261.1 296" fill="none" stroke="#4a34c4" stroke-width="1.7" stroke-linecap="round" stroke-linejoin="round"/><path d="M110.1 296C111.5 295.1 115.1 292.3 118.1 290.9C121.2 289.5 124.5 288.4 128.2 287.5C131.9 286.6 136.2 285.9 140.2 285.5C144.2 285.1 147.5 284.7 152.3 284.9C157 285.1 164 285.8 168.7 286.5C173.5 287.2 176.8 288 180.8 288.9C184.8 289.8 189.1 291 192.8 291.9C196.5 292.9 200.4 293.9 202.9 294.5C205.4 295.2 207 295.7 207.9 296" fill="none" stroke="#5c48d2" stroke-width="1.7" stroke-linecap="round" stroke-linejoin="round"/></g><g class="t" font-family="Liberation Sans, sans-serif" font-weight="bold" font-size="10" stroke-width="0.3" text-rendering="geometricPrecision"><text x="89.4" y="164.6" fill="#6cf06a" stroke="#6cf06a" textLength="21.7" lengthAdjust="spacingAndGlyphs">5840</text><text x="243" y="197" fill="#6cf06a" stroke="#6cf06a" textLength="21.7" lengthAdjust="spacingAndGlyphs">5840</text><text x="105.9" y="185.2" fill="#37d23c" stroke="#37d23c" textLength="21.7" lengthAdjust="spacingAndGlyphs">5800</text><text x="32.5" y="207.7" fill="#1eb41e" stroke="#1eb41e" textLength="21.7" lengthAdjust="spacingAndGlyphs">5700</text><text x="92.5" y="222.8" fill="#78b9fa" stroke="#78b9fa" textLength="21.7" lengthAdjust="spacingAndGlyphs">5600</text><text x="116.1" y="232.3" fill="#3c8cf2" stroke="#3c8cf2" textLength="21.7" lengthAdjust="spacingAndGlyphs">5500</text><text x="119.5" y="241.4" fill="#1e6eeb" stroke="#1e6eeb" textLength="21.7" lengthAdjust="spacingAndGlyphs">5400</text><text x="126.2" y="251.5" fill="#195fd7" stroke="#195fd7" textLength="21.7" lengthAdjust="spacingAndGlyphs">5300</text><text x="132.9" y="262.9" fill="#1450c8" stroke="#1450c8" textLength="21.7" lengthAdjust="spacingAndGlyphs">5200</text><text x="136.2" y="276" fill="#4a34c4" stroke="#4a34c4" textLength="21.7" lengthAdjust="spacingAndGlyphs">5100</text></g>
<rect x="0" y="0" width="320.6" height="297.3" fill="none" stroke="#000" stroke-width="1.5"/>
<path d="M-3.5 0H0M-3.5 19.8H0M-3.5 39.6H0M-3.5 59.5H0M-3.5 79.3H0M-3.5 99.1H0M-3.5 118.9H0M-3.5 138.7H0M-3.5 158.6H0M-3.5 178.4H0M-3.5 198.2H0M-3.5 218H0M-3.5 237.8H0M-3.5 257.7H0M-3.5 277.5H0M-3.5 297.3H0M4.5 297.3v3.8M40.1 297.3v3.8M75.7 297.3v3.8M111.3 297.3v3.8M147 297.3v3.8M182.6 297.3v3.8M218.2 297.3v3.8M253.8 297.3v3.8M289.5 297.3v3.8" stroke="#000" stroke-width="1.05" fill="none"/>
<g class="t" font-family="Liberation Sans, sans-serif" font-weight="bold" font-size="9.7" fill="#000" text-rendering="geometricPrecision"><text x="-21.3" y="3.8" textLength="16" lengthAdjust="spacingAndGlyphs">15N</text><text x="-21.3" y="23.6" textLength="16" lengthAdjust="spacingAndGlyphs">10N</text><text x="-16.4" y="43.4" textLength="11.1" lengthAdjust="spacingAndGlyphs">5N</text><text x="-17.9" y="63.2" textLength="12.6" lengthAdjust="spacingAndGlyphs">EQ</text><text x="-15.9" y="83" textLength="10.6" lengthAdjust="spacingAndGlyphs">5S</text><text x="-20.8" y="102.8" textLength="15.5" lengthAdjust="spacingAndGlyphs">10S</text><text x="-20.8" y="122.7" textLength="15.5" lengthAdjust="spacingAndGlyphs">15S</text><text x="-20.8" y="142.5" textLength="15.5" lengthAdjust="spacingAndGlyphs">20S</text><text x="-20.8" y="162.3" textLength="15.5" lengthAdjust="spacingAndGlyphs">25S</text><text x="-20.8" y="182.1" textLength="15.5" lengthAdjust="spacingAndGlyphs">30S</text><text x="-20.8" y="201.9" textLength="15.5" lengthAdjust="spacingAndGlyphs">35S</text><text x="-20.8" y="221.8" textLength="15.5" lengthAdjust="spacingAndGlyphs">40S</text><text x="-20.8" y="241.6" textLength="15.5" lengthAdjust="spacingAndGlyphs">45S</text><text x="-20.8" y="261.4" textLength="15.5" lengthAdjust="spacingAndGlyphs">50S</text><text x="-20.8" y="281.2" textLength="15.5" lengthAdjust="spacingAndGlyphs">55S</text><text x="-20.8" y="301.1" textLength="15.5" lengthAdjust="spacingAndGlyphs">60S</text><text x="-5.6" y="308.6" textLength="22" lengthAdjust="spacingAndGlyphs">100W</text><text x="32.4" y="308.6" textLength="17.1" lengthAdjust="spacingAndGlyphs">90W</text><text x="68" y="308.6" textLength="17.1" lengthAdjust="spacingAndGlyphs">80W</text><text x="103.7" y="308.6" textLength="17.1" lengthAdjust="spacingAndGlyphs">70W</text><text x="139.3" y="308.6" textLength="17.1" lengthAdjust="spacingAndGlyphs">60W</text><text x="174.9" y="308.6" textLength="17.1" lengthAdjust="spacingAndGlyphs">50W</text><text x="210.6" y="308.6" textLength="17.1" lengthAdjust="spacingAndGlyphs">40W</text><text x="246.2" y="308.6" textLength="17.1" lengthAdjust="spacingAndGlyphs">30W</text><text x="281.8" y="308.6" textLength="17.1" lengthAdjust="spacingAndGlyphs">20W</text></g>
<g aria-label="cluster: 5  membros: 2"><desc>cluster: 5  membros: 2</desc><path d="M52.7 -16.9L51.5 -18L50.3 -18.6L48.5 -18.6L47.3 -18L46.1 -16.9L45.5 -15.3L45.5 -14.2L46.1 -12.5L47.3 -11.4L48.5 -10.9L50.3 -10.9L51.5 -11.4L52.7 -12.5M57.6 -22.4L57.6 -10.9M63 -18.6L63 -13.1L63.6 -11.4L64.8 -10.9L66.6 -10.9L67.8 -11.4L69.6 -13.1M69.6 -18.6L69.6 -10.9M80.4 -16.9L79.8 -18L78 -18.6L76.2 -18.6L74.4 -18L73.8 -16.9L74.4 -15.8L75.6 -15.3L78.6 -14.7L79.8 -14.2L80.4 -13.1L80.4 -12.5L79.8 -11.4L78 -10.9L76.2 -10.9L74.4 -11.4L73.8 -12.5M85.2 -22.4L85.2 -13.1L85.8 -11.4L87 -10.9L88.2 -10.9M83.4 -18.6L87.6 -18.6M91.2 -15.3L98.4 -15.3L98.4 -16.4L97.8 -17.5L97.2 -18L96 -18.6L94.2 -18.6L93 -18L91.8 -16.9L91.2 -15.3L91.2 -14.2L91.8 -12.5L93 -11.4L94.2 -10.9L96 -10.9L97.2 -11.4L98.4 -12.5M102.6 -18.6L102.6 -10.9M102.6 -15.3L103.2 -16.9L104.4 -18L105.6 -18.6L107.4 -18.6M111.6 -18.6L111 -18L111.6 -17.5L112.2 -18L111.6 -18.6M111.6 -12L111 -11.4L111.6 -10.9L112.2 -11.4L111.6 -12M135.1 -22.4L129.1 -22.4L128.5 -17.5L129.1 -18L130.9 -18.6L132.7 -18.6L134.5 -18L135.7 -16.9L136.3 -15.3L136.3 -14.2L135.7 -12.5L134.5 -11.4L132.7 -10.9L130.9 -10.9L129.1 -11.4L128.5 -12L127.9 -13.1M162.1 -18.6L162.1 -10.9M162.1 -16.4L163.9 -18L165.1 -18.6L166.9 -18.6L168.1 -18L168.7 -16.4L168.7 -10.9M168.7 -16.4L170.5 -18L171.7 -18.6L173.5 -18.6L174.7 -18L175.3 -16.4L175.3 -10.9M179.6 -15.3L186.8 -15.3L186.8 -16.4L186.2 -17.5L185.6 -18L184.4 -18.6L182.6 -18.6L181.4 -18L180.2 -16.9L179.6 -15.3L179.6 -14.2L180.2 -12.5L181.4 -11.4L182.6 -10.9L184.4 -10.9L185.6 -11.4L186.8 -12.5M191 -18.6L191 -10.9M191 -16.4L192.8 -18L194 -18.6L195.8 -18.6L197 -18L197.6 -16.4L197.6 -10.9M197.6 -16.4L199.4 -18L200.6 -18.6L202.4 -18.6L203.6 -18L204.2 -16.4L204.2 -10.9M209 -22.4L209 -10.9M209 -16.9L210.2 -18L211.4 -18.6L213.2 -18.6L214.4 -18L215.6 -16.9L216.2 -15.3L216.2 -14.2L215.6 -12.5L214.4 -11.4L213.2 -10.9L211.4 -10.9L210.2 -11.4L209 -12.5M220.4 -18.6L220.4 -10.9M220.4 -15.3L221 -16.9L222.2 -18L223.4 -18.6L225.2 -18.6M230.6 -18.6L229.4 -18L228.2 -16.9L227.6 -15.3L227.6 -14.2L228.2 -12.5L229.4 -11.4L230.6 -10.9L232.4 -10.9L233.6 -11.4L234.8 -12.5L235.4 -14.2L235.4 -15.3L234.8 -16.9L233.6 -18L232.4 -18.6L230.6 -18.6M245.7 -16.9L245.1 -18L243.3 -18.6L241.5 -18.6L239.7 -18L239.1 -16.9L239.7 -15.8L240.9 -15.3L243.9 -14.7L245.1 -14.2L245.7 -13.1L245.7 -12.5L245.1 -11.4L243.3 -10.9L241.5 -10.9L239.7 -11.4L239.1 -12.5M251.1 -18.6L250.5 -18L251.1 -17.5L251.7 -18L251.1 -18.6M251.1 -12L250.5 -11.4L251.1 -10.9L251.7 -11.4L251.1 -12M267.9 -19.7L267.9 -20.2L268.5 -21.3L269.1 -21.9L270.3 -22.4L272.7 -22.4L273.9 -21.9L274.5 -21.3L275.1 -20.2L275.1 -19.1L274.5 -18L273.3 -16.4L267.3 -10.9L275.7 -10.9" fill="none" stroke="#000" stroke-width="1.45" stroke-linecap="round" stroke-linejoin="round"/></g>
</g>
</svg>
</body></html>
